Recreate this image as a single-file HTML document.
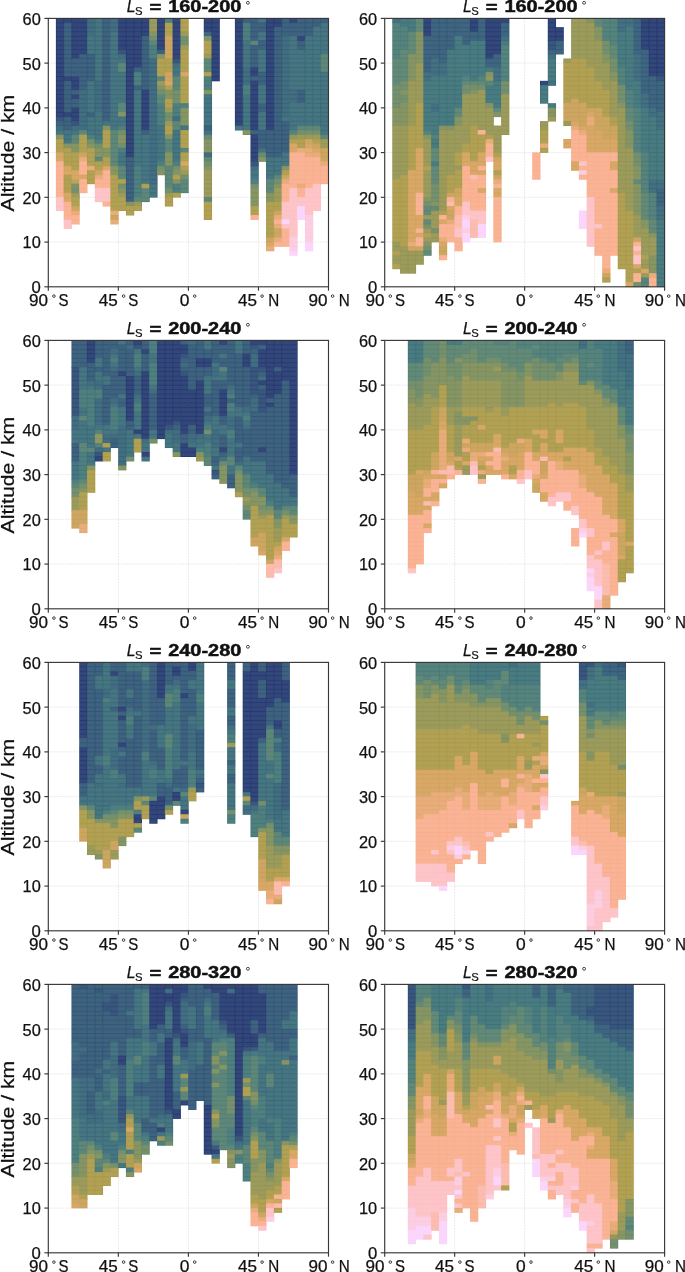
<!DOCTYPE html>
<html><head><meta charset="utf-8"><title>fig</title><style>html,body{margin:0;padding:0;background:#fff}body{width:685px;height:1272px;position:relative;overflow:hidden;font-family:"Liberation Sans",sans-serif}</style></head><body>
<svg width="685" height="1272" viewBox="0 0 685 1272" style="position:absolute;left:0;top:0;will-change:transform" font-family="Liberation Sans, sans-serif">
<rect width="685" height="1272" fill="#fff"/>
<defs><pattern id="p00_0" patternUnits="userSpaceOnUse" x="47.80" y="17.90" width="7.7833" height="4.4733"><rect width="8.78" height="5.47" fill="#34477a"/><rect width="8.78" height="1" fill="#243970"/><rect width="1" height="5.47" fill="#243970"/></pattern><pattern id="p00_10" patternUnits="userSpaceOnUse" x="47.80" y="17.90" width="7.7833" height="4.4733"><rect width="8.78" height="5.47" fill="#507f7f"/><rect width="8.78" height="1" fill="#427575"/><rect width="1" height="5.47" fill="#427575"/></pattern><pattern id="p00_11" patternUnits="userSpaceOnUse" x="47.80" y="17.90" width="7.7833" height="4.4733"><rect width="8.78" height="5.47" fill="#57837c"/><rect width="8.78" height="1" fill="#4a7a72"/><rect width="1" height="5.47" fill="#4a7a72"/></pattern><pattern id="p00_12" patternUnits="userSpaceOnUse" x="47.80" y="17.90" width="7.7833" height="4.4733"><rect width="8.78" height="5.47" fill="#5e877a"/><rect width="8.78" height="1" fill="#527e70"/><rect width="1" height="5.47" fill="#527e70"/></pattern><pattern id="p00_13" patternUnits="userSpaceOnUse" x="47.80" y="17.90" width="7.7833" height="4.4733"><rect width="8.78" height="5.47" fill="#688c75"/><rect width="8.78" height="1" fill="#5d836a"/><rect width="1" height="5.47" fill="#5d836a"/></pattern><pattern id="p00_14" patternUnits="userSpaceOnUse" x="47.80" y="17.90" width="7.7833" height="4.4733"><rect width="8.78" height="5.47" fill="#75906e"/><rect width="8.78" height="1" fill="#6a8763"/><rect width="1" height="5.47" fill="#6a8763"/></pattern><pattern id="p00_15" patternUnits="userSpaceOnUse" x="47.80" y="17.90" width="7.7833" height="4.4733"><rect width="8.78" height="5.47" fill="#7d9369"/><rect width="8.78" height="1" fill="#748a5e"/><rect width="1" height="5.47" fill="#748a5e"/></pattern><pattern id="p00_16" patternUnits="userSpaceOnUse" x="47.80" y="17.90" width="7.7833" height="4.4733"><rect width="8.78" height="5.47" fill="#869565"/><rect width="8.78" height="1" fill="#7d8d59"/><rect width="1" height="5.47" fill="#7d8d59"/></pattern><pattern id="p00_17" patternUnits="userSpaceOnUse" x="47.80" y="17.90" width="7.7833" height="4.4733"><rect width="8.78" height="5.47" fill="#919861"/><rect width="8.78" height="1" fill="#889055"/><rect width="1" height="5.47" fill="#889055"/></pattern><pattern id="p00_18" patternUnits="userSpaceOnUse" x="47.80" y="17.90" width="7.7833" height="4.4733"><rect width="8.78" height="5.47" fill="#9b9b5d"/><rect width="8.78" height="1" fill="#949351"/><rect width="1" height="5.47" fill="#949351"/></pattern><pattern id="p00_2" patternUnits="userSpaceOnUse" x="47.80" y="17.90" width="7.7833" height="4.4733"><rect width="8.78" height="5.47" fill="#3a567d"/><rect width="8.78" height="1" fill="#2b4973"/><rect width="1" height="5.47" fill="#2b4973"/></pattern><pattern id="p00_20" patternUnits="userSpaceOnUse" x="47.80" y="17.90" width="7.7833" height="4.4733"><rect width="8.78" height="5.47" fill="#b1a155"/><rect width="8.78" height="1" fill="#ab9949"/><rect width="1" height="5.47" fill="#ab9949"/></pattern><pattern id="p00_21" patternUnits="userSpaceOnUse" x="47.80" y="17.90" width="7.7833" height="4.4733"><rect width="8.78" height="5.47" fill="#bea35c"/><rect width="8.78" height="1" fill="#b99c4f"/><rect width="1" height="5.47" fill="#b99c4f"/></pattern><pattern id="p00_22" patternUnits="userSpaceOnUse" x="47.80" y="17.90" width="7.7833" height="4.4733"><rect width="8.78" height="5.47" fill="#cca662"/><rect width="8.78" height="1" fill="#c89f56"/><rect width="1" height="5.47" fill="#c89f56"/></pattern><pattern id="p00_24" patternUnits="userSpaceOnUse" x="47.80" y="17.90" width="7.7833" height="4.4733"><rect width="8.78" height="5.47" fill="#d7a867"/><rect width="8.78" height="1" fill="#d4a15b"/><rect width="1" height="5.47" fill="#d4a15b"/></pattern><pattern id="p00_26" patternUnits="userSpaceOnUse" x="47.80" y="17.90" width="7.7833" height="4.4733"><rect width="8.78" height="5.47" fill="#e7ad7b"/><rect width="8.78" height="1" fill="#e5a770"/><rect width="1" height="5.47" fill="#e5a770"/></pattern><pattern id="p00_28" patternUnits="userSpaceOnUse" x="47.80" y="17.90" width="7.7833" height="4.4733"><rect width="8.78" height="5.47" fill="#f9b495"/><rect width="8.78" height="1" fill="#f9ae8d"/><rect width="1" height="5.47" fill="#f9ae8d"/></pattern><pattern id="p00_32" patternUnits="userSpaceOnUse" x="47.80" y="17.90" width="7.7833" height="4.4733"><rect width="8.78" height="5.47" fill="#fdc5c9"/><rect width="8.78" height="1" fill="#fdc1c5"/><rect width="1" height="5.47" fill="#fdc1c5"/></pattern><pattern id="p00_34" patternUnits="userSpaceOnUse" x="47.80" y="17.90" width="7.7833" height="4.4733"><rect width="8.78" height="5.47" fill="#fccee2"/><rect width="8.78" height="1" fill="#fccae0"/><rect width="1" height="5.47" fill="#fccae0"/></pattern><pattern id="p00_36" patternUnits="userSpaceOnUse" x="47.80" y="17.90" width="7.7833" height="4.4733"><rect width="8.78" height="5.47" fill="#fbd6fb"/><rect width="8.78" height="1" fill="#fbd3fb"/><rect width="1" height="5.47" fill="#fbd3fb"/></pattern><pattern id="p00_4" patternUnits="userSpaceOnUse" x="47.80" y="17.90" width="7.7833" height="4.4733"><rect width="8.78" height="5.47" fill="#3f627f"/><rect width="8.78" height="1" fill="#305676"/><rect width="1" height="5.47" fill="#305676"/></pattern><pattern id="p00_5" patternUnits="userSpaceOnUse" x="47.80" y="17.90" width="7.7833" height="4.4733"><rect width="8.78" height="5.47" fill="#416880"/><rect width="8.78" height="1" fill="#335d76"/><rect width="1" height="5.47" fill="#335d76"/></pattern><pattern id="p00_6" patternUnits="userSpaceOnUse" x="47.80" y="17.90" width="7.7833" height="4.4733"><rect width="8.78" height="5.47" fill="#436d80"/><rect width="8.78" height="1" fill="#356277"/><rect width="1" height="5.47" fill="#356277"/></pattern><pattern id="p00_7" patternUnits="userSpaceOnUse" x="47.80" y="17.90" width="7.7833" height="4.4733"><rect width="8.78" height="5.47" fill="#457181"/><rect width="8.78" height="1" fill="#376677"/><rect width="1" height="5.47" fill="#376677"/></pattern><pattern id="p00_8" patternUnits="userSpaceOnUse" x="47.80" y="17.90" width="7.7833" height="4.4733"><rect width="8.78" height="5.47" fill="#477581"/><rect width="8.78" height="1" fill="#386a77"/><rect width="1" height="5.47" fill="#386a77"/></pattern><pattern id="p01_0" patternUnits="userSpaceOnUse" x="384.20" y="17.90" width="7.7750" height="4.4733"><rect width="8.77" height="5.47" fill="#34477a"/><rect width="8.77" height="1" fill="#243970"/><rect width="1" height="5.47" fill="#243970"/></pattern><pattern id="p01_10" patternUnits="userSpaceOnUse" x="384.20" y="17.90" width="7.7750" height="4.4733"><rect width="8.77" height="5.47" fill="#56837d"/><rect width="8.77" height="1" fill="#497973"/><rect width="1" height="5.47" fill="#497973"/></pattern><pattern id="p01_11" patternUnits="userSpaceOnUse" x="384.20" y="17.90" width="7.7750" height="4.4733"><rect width="8.77" height="5.47" fill="#5d867a"/><rect width="8.77" height="1" fill="#507d70"/><rect width="1" height="5.47" fill="#507d70"/></pattern><pattern id="p01_12" patternUnits="userSpaceOnUse" x="384.20" y="17.90" width="7.7750" height="4.4733"><rect width="8.77" height="5.47" fill="#638a78"/><rect width="8.77" height="1" fill="#57816e"/><rect width="1" height="5.47" fill="#57816e"/></pattern><pattern id="p01_14" patternUnits="userSpaceOnUse" x="384.20" y="17.90" width="7.7750" height="4.4733"><rect width="8.77" height="5.47" fill="#75906e"/><rect width="8.77" height="1" fill="#6a8763"/><rect width="1" height="5.47" fill="#6a8763"/></pattern><pattern id="p01_16" patternUnits="userSpaceOnUse" x="384.20" y="17.90" width="7.7750" height="4.4733"><rect width="8.77" height="5.47" fill="#869565"/><rect width="8.77" height="1" fill="#7d8d59"/><rect width="1" height="5.47" fill="#7d8d59"/></pattern><pattern id="p01_17" patternUnits="userSpaceOnUse" x="384.20" y="17.90" width="7.7750" height="4.4733"><rect width="8.77" height="5.47" fill="#919861"/><rect width="8.77" height="1" fill="#889055"/><rect width="1" height="5.47" fill="#889055"/></pattern><pattern id="p01_18" patternUnits="userSpaceOnUse" x="384.20" y="17.90" width="7.7750" height="4.4733"><rect width="8.77" height="5.47" fill="#9b9b5d"/><rect width="8.77" height="1" fill="#949351"/><rect width="1" height="5.47" fill="#949351"/></pattern><pattern id="p01_2" patternUnits="userSpaceOnUse" x="384.20" y="17.90" width="7.7750" height="4.4733"><rect width="8.77" height="5.47" fill="#3a567d"/><rect width="8.77" height="1" fill="#2b4973"/><rect width="1" height="5.47" fill="#2b4973"/></pattern><pattern id="p01_20" patternUnits="userSpaceOnUse" x="384.20" y="17.90" width="7.7750" height="4.4733"><rect width="8.77" height="5.47" fill="#b1a155"/><rect width="8.77" height="1" fill="#ab9949"/><rect width="1" height="5.47" fill="#ab9949"/></pattern><pattern id="p01_22" patternUnits="userSpaceOnUse" x="384.20" y="17.90" width="7.7750" height="4.4733"><rect width="8.77" height="5.47" fill="#cca662"/><rect width="8.77" height="1" fill="#c89f56"/><rect width="1" height="5.47" fill="#c89f56"/></pattern><pattern id="p01_24" patternUnits="userSpaceOnUse" x="384.20" y="17.90" width="7.7750" height="4.4733"><rect width="8.77" height="5.47" fill="#d7a867"/><rect width="8.77" height="1" fill="#d4a15b"/><rect width="1" height="5.47" fill="#d4a15b"/></pattern><pattern id="p01_26" patternUnits="userSpaceOnUse" x="384.20" y="17.90" width="7.7750" height="4.4733"><rect width="8.77" height="5.47" fill="#e7ad7b"/><rect width="8.77" height="1" fill="#e5a770"/><rect width="1" height="5.47" fill="#e5a770"/></pattern><pattern id="p01_28" patternUnits="userSpaceOnUse" x="384.20" y="17.90" width="7.7750" height="4.4733"><rect width="8.77" height="5.47" fill="#f9b495"/><rect width="8.77" height="1" fill="#f9ae8d"/><rect width="1" height="5.47" fill="#f9ae8d"/></pattern><pattern id="p01_30" patternUnits="userSpaceOnUse" x="384.20" y="17.90" width="7.7750" height="4.4733"><rect width="8.77" height="5.47" fill="#fbbdaf"/><rect width="8.77" height="1" fill="#fbb8a9"/><rect width="1" height="5.47" fill="#fbb8a9"/></pattern><pattern id="p01_32" patternUnits="userSpaceOnUse" x="384.20" y="17.90" width="7.7750" height="4.4733"><rect width="8.77" height="5.47" fill="#fdc5c9"/><rect width="8.77" height="1" fill="#fdc1c5"/><rect width="1" height="5.47" fill="#fdc1c5"/></pattern><pattern id="p01_34" patternUnits="userSpaceOnUse" x="384.20" y="17.90" width="7.7750" height="4.4733"><rect width="8.77" height="5.47" fill="#fccee2"/><rect width="8.77" height="1" fill="#fccae0"/><rect width="1" height="5.47" fill="#fccae0"/></pattern><pattern id="p01_36" patternUnits="userSpaceOnUse" x="384.20" y="17.90" width="7.7750" height="4.4733"><rect width="8.77" height="5.47" fill="#fbd6fb"/><rect width="8.77" height="1" fill="#fbd3fb"/><rect width="1" height="5.47" fill="#fbd3fb"/></pattern><pattern id="p01_4" patternUnits="userSpaceOnUse" x="384.20" y="17.90" width="7.7750" height="4.4733"><rect width="8.77" height="5.47" fill="#406580"/><rect width="8.77" height="1" fill="#315a76"/><rect width="1" height="5.47" fill="#315a76"/></pattern><pattern id="p01_6" patternUnits="userSpaceOnUse" x="384.20" y="17.90" width="7.7750" height="4.4733"><rect width="8.77" height="5.47" fill="#457081"/><rect width="8.77" height="1" fill="#366577"/><rect width="1" height="5.47" fill="#366577"/></pattern><pattern id="p01_8" patternUnits="userSpaceOnUse" x="384.20" y="17.90" width="7.7750" height="4.4733"><rect width="8.77" height="5.47" fill="#497b81"/><rect width="8.77" height="1" fill="#3c7178"/><rect width="1" height="5.47" fill="#3c7178"/></pattern><pattern id="p10_0" patternUnits="userSpaceOnUse" x="47.80" y="339.90" width="7.7833" height="4.4733"><rect width="8.78" height="5.47" fill="#34477a"/><rect width="8.78" height="1" fill="#243970"/><rect width="1" height="5.47" fill="#243970"/></pattern><pattern id="p10_10" patternUnits="userSpaceOnUse" x="47.80" y="339.90" width="7.7833" height="4.4733"><rect width="8.78" height="5.47" fill="#507f7f"/><rect width="8.78" height="1" fill="#427575"/><rect width="1" height="5.47" fill="#427575"/></pattern><pattern id="p10_11" patternUnits="userSpaceOnUse" x="47.80" y="339.90" width="7.7833" height="4.4733"><rect width="8.78" height="5.47" fill="#57837c"/><rect width="8.78" height="1" fill="#4a7a72"/><rect width="1" height="5.47" fill="#4a7a72"/></pattern><pattern id="p10_12" patternUnits="userSpaceOnUse" x="47.80" y="339.90" width="7.7833" height="4.4733"><rect width="8.78" height="5.47" fill="#5e877a"/><rect width="8.78" height="1" fill="#527e70"/><rect width="1" height="5.47" fill="#527e70"/></pattern><pattern id="p10_13" patternUnits="userSpaceOnUse" x="47.80" y="339.90" width="7.7833" height="4.4733"><rect width="8.78" height="5.47" fill="#688c75"/><rect width="8.78" height="1" fill="#5d836a"/><rect width="1" height="5.47" fill="#5d836a"/></pattern><pattern id="p10_14" patternUnits="userSpaceOnUse" x="47.80" y="339.90" width="7.7833" height="4.4733"><rect width="8.78" height="5.47" fill="#75906e"/><rect width="8.78" height="1" fill="#6a8763"/><rect width="1" height="5.47" fill="#6a8763"/></pattern><pattern id="p10_16" patternUnits="userSpaceOnUse" x="47.80" y="339.90" width="7.7833" height="4.4733"><rect width="8.78" height="5.47" fill="#869565"/><rect width="8.78" height="1" fill="#7d8d59"/><rect width="1" height="5.47" fill="#7d8d59"/></pattern><pattern id="p10_17" patternUnits="userSpaceOnUse" x="47.80" y="339.90" width="7.7833" height="4.4733"><rect width="8.78" height="5.47" fill="#919861"/><rect width="8.78" height="1" fill="#889055"/><rect width="1" height="5.47" fill="#889055"/></pattern><pattern id="p10_18" patternUnits="userSpaceOnUse" x="47.80" y="339.90" width="7.7833" height="4.4733"><rect width="8.78" height="5.47" fill="#9b9b5d"/><rect width="8.78" height="1" fill="#949351"/><rect width="1" height="5.47" fill="#949351"/></pattern><pattern id="p10_2" patternUnits="userSpaceOnUse" x="47.80" y="339.90" width="7.7833" height="4.4733"><rect width="8.78" height="5.47" fill="#3a567d"/><rect width="8.78" height="1" fill="#2b4973"/><rect width="1" height="5.47" fill="#2b4973"/></pattern><pattern id="p10_20" patternUnits="userSpaceOnUse" x="47.80" y="339.90" width="7.7833" height="4.4733"><rect width="8.78" height="5.47" fill="#b1a155"/><rect width="8.78" height="1" fill="#ab9949"/><rect width="1" height="5.47" fill="#ab9949"/></pattern><pattern id="p10_22" patternUnits="userSpaceOnUse" x="47.80" y="339.90" width="7.7833" height="4.4733"><rect width="8.78" height="5.47" fill="#cca662"/><rect width="8.78" height="1" fill="#c89f56"/><rect width="1" height="5.47" fill="#c89f56"/></pattern><pattern id="p10_24" patternUnits="userSpaceOnUse" x="47.80" y="339.90" width="7.7833" height="4.4733"><rect width="8.78" height="5.47" fill="#d7a867"/><rect width="8.78" height="1" fill="#d4a15b"/><rect width="1" height="5.47" fill="#d4a15b"/></pattern><pattern id="p10_26" patternUnits="userSpaceOnUse" x="47.80" y="339.90" width="7.7833" height="4.4733"><rect width="8.78" height="5.47" fill="#e7ad7b"/><rect width="8.78" height="1" fill="#e5a770"/><rect width="1" height="5.47" fill="#e5a770"/></pattern><pattern id="p10_28" patternUnits="userSpaceOnUse" x="47.80" y="339.90" width="7.7833" height="4.4733"><rect width="8.78" height="5.47" fill="#f9b495"/><rect width="8.78" height="1" fill="#f9ae8d"/><rect width="1" height="5.47" fill="#f9ae8d"/></pattern><pattern id="p10_30" patternUnits="userSpaceOnUse" x="47.80" y="339.90" width="7.7833" height="4.4733"><rect width="8.78" height="5.47" fill="#fbbdaf"/><rect width="8.78" height="1" fill="#fbb8a9"/><rect width="1" height="5.47" fill="#fbb8a9"/></pattern><pattern id="p10_32" patternUnits="userSpaceOnUse" x="47.80" y="339.90" width="7.7833" height="4.4733"><rect width="8.78" height="5.47" fill="#fdc5c9"/><rect width="8.78" height="1" fill="#fdc1c5"/><rect width="1" height="5.47" fill="#fdc1c5"/></pattern><pattern id="p10_4" patternUnits="userSpaceOnUse" x="47.80" y="339.90" width="7.7833" height="4.4733"><rect width="8.78" height="5.47" fill="#3f627f"/><rect width="8.78" height="1" fill="#305676"/><rect width="1" height="5.47" fill="#305676"/></pattern><pattern id="p10_6" patternUnits="userSpaceOnUse" x="47.80" y="339.90" width="7.7833" height="4.4733"><rect width="8.78" height="5.47" fill="#436d80"/><rect width="8.78" height="1" fill="#356277"/><rect width="1" height="5.47" fill="#356277"/></pattern><pattern id="p10_7" patternUnits="userSpaceOnUse" x="47.80" y="339.90" width="7.7833" height="4.4733"><rect width="8.78" height="5.47" fill="#457181"/><rect width="8.78" height="1" fill="#376677"/><rect width="1" height="5.47" fill="#376677"/></pattern><pattern id="p10_8" patternUnits="userSpaceOnUse" x="47.80" y="339.90" width="7.7833" height="4.4733"><rect width="8.78" height="5.47" fill="#477581"/><rect width="8.78" height="1" fill="#386a77"/><rect width="1" height="5.47" fill="#386a77"/></pattern><pattern id="p11_10" patternUnits="userSpaceOnUse" x="384.20" y="339.90" width="7.7750" height="4.4733"><rect width="8.77" height="5.47" fill="#56837d"/><rect width="8.77" height="1" fill="#497973"/><rect width="1" height="5.47" fill="#497973"/></pattern><pattern id="p11_12" patternUnits="userSpaceOnUse" x="384.20" y="339.90" width="7.7750" height="4.4733"><rect width="8.77" height="5.47" fill="#638a78"/><rect width="8.77" height="1" fill="#57816e"/><rect width="1" height="5.47" fill="#57816e"/></pattern><pattern id="p11_14" patternUnits="userSpaceOnUse" x="384.20" y="339.90" width="7.7750" height="4.4733"><rect width="8.77" height="5.47" fill="#75906e"/><rect width="8.77" height="1" fill="#6a8763"/><rect width="1" height="5.47" fill="#6a8763"/></pattern><pattern id="p11_16" patternUnits="userSpaceOnUse" x="384.20" y="339.90" width="7.7750" height="4.4733"><rect width="8.77" height="5.47" fill="#869565"/><rect width="8.77" height="1" fill="#7d8d59"/><rect width="1" height="5.47" fill="#7d8d59"/></pattern><pattern id="p11_18" patternUnits="userSpaceOnUse" x="384.20" y="339.90" width="7.7750" height="4.4733"><rect width="8.77" height="5.47" fill="#9b9b5d"/><rect width="8.77" height="1" fill="#949351"/><rect width="1" height="5.47" fill="#949351"/></pattern><pattern id="p11_20" patternUnits="userSpaceOnUse" x="384.20" y="339.90" width="7.7750" height="4.4733"><rect width="8.77" height="5.47" fill="#b1a155"/><rect width="8.77" height="1" fill="#ab9949"/><rect width="1" height="5.47" fill="#ab9949"/></pattern><pattern id="p11_22" patternUnits="userSpaceOnUse" x="384.20" y="339.90" width="7.7750" height="4.4733"><rect width="8.77" height="5.47" fill="#cca662"/><rect width="8.77" height="1" fill="#c89f56"/><rect width="1" height="5.47" fill="#c89f56"/></pattern><pattern id="p11_24" patternUnits="userSpaceOnUse" x="384.20" y="339.90" width="7.7750" height="4.4733"><rect width="8.77" height="5.47" fill="#d7a867"/><rect width="8.77" height="1" fill="#d4a15b"/><rect width="1" height="5.47" fill="#d4a15b"/></pattern><pattern id="p11_26" patternUnits="userSpaceOnUse" x="384.20" y="339.90" width="7.7750" height="4.4733"><rect width="8.77" height="5.47" fill="#e7ad7b"/><rect width="8.77" height="1" fill="#e5a770"/><rect width="1" height="5.47" fill="#e5a770"/></pattern><pattern id="p11_28" patternUnits="userSpaceOnUse" x="384.20" y="339.90" width="7.7750" height="4.4733"><rect width="8.77" height="5.47" fill="#f9b495"/><rect width="8.77" height="1" fill="#f9ae8d"/><rect width="1" height="5.47" fill="#f9ae8d"/></pattern><pattern id="p11_30" patternUnits="userSpaceOnUse" x="384.20" y="339.90" width="7.7750" height="4.4733"><rect width="8.77" height="5.47" fill="#fbbdaf"/><rect width="8.77" height="1" fill="#fbb8a9"/><rect width="1" height="5.47" fill="#fbb8a9"/></pattern><pattern id="p11_32" patternUnits="userSpaceOnUse" x="384.20" y="339.90" width="7.7750" height="4.4733"><rect width="8.77" height="5.47" fill="#fdc5c9"/><rect width="8.77" height="1" fill="#fdc1c5"/><rect width="1" height="5.47" fill="#fdc1c5"/></pattern><pattern id="p11_34" patternUnits="userSpaceOnUse" x="384.20" y="339.90" width="7.7750" height="4.4733"><rect width="8.77" height="5.47" fill="#fccee2"/><rect width="8.77" height="1" fill="#fccae0"/><rect width="1" height="5.47" fill="#fccae0"/></pattern><pattern id="p11_36" patternUnits="userSpaceOnUse" x="384.20" y="339.90" width="7.7750" height="4.4733"><rect width="8.77" height="5.47" fill="#fbd6fb"/><rect width="8.77" height="1" fill="#fbd3fb"/><rect width="1" height="5.47" fill="#fbd3fb"/></pattern><pattern id="p11_4" patternUnits="userSpaceOnUse" x="384.20" y="339.90" width="7.7750" height="4.4733"><rect width="8.77" height="5.47" fill="#406580"/><rect width="8.77" height="1" fill="#315a76"/><rect width="1" height="5.47" fill="#315a76"/></pattern><pattern id="p11_6" patternUnits="userSpaceOnUse" x="384.20" y="339.90" width="7.7750" height="4.4733"><rect width="8.77" height="5.47" fill="#457081"/><rect width="8.77" height="1" fill="#366577"/><rect width="1" height="5.47" fill="#366577"/></pattern><pattern id="p11_8" patternUnits="userSpaceOnUse" x="384.20" y="339.90" width="7.7750" height="4.4733"><rect width="8.77" height="5.47" fill="#497b81"/><rect width="8.77" height="1" fill="#3c7178"/><rect width="1" height="5.47" fill="#3c7178"/></pattern><pattern id="p20_0" patternUnits="userSpaceOnUse" x="47.80" y="661.90" width="7.7833" height="4.4733"><rect width="8.78" height="5.47" fill="#34477a"/><rect width="8.78" height="1" fill="#243970"/><rect width="1" height="5.47" fill="#243970"/></pattern><pattern id="p20_10" patternUnits="userSpaceOnUse" x="47.80" y="661.90" width="7.7833" height="4.4733"><rect width="8.78" height="5.47" fill="#507f7f"/><rect width="8.78" height="1" fill="#427575"/><rect width="1" height="5.47" fill="#427575"/></pattern><pattern id="p20_12" patternUnits="userSpaceOnUse" x="47.80" y="661.90" width="7.7833" height="4.4733"><rect width="8.78" height="5.47" fill="#5e877a"/><rect width="8.78" height="1" fill="#527e70"/><rect width="1" height="5.47" fill="#527e70"/></pattern><pattern id="p20_14" patternUnits="userSpaceOnUse" x="47.80" y="661.90" width="7.7833" height="4.4733"><rect width="8.78" height="5.47" fill="#75906e"/><rect width="8.78" height="1" fill="#6a8763"/><rect width="1" height="5.47" fill="#6a8763"/></pattern><pattern id="p20_16" patternUnits="userSpaceOnUse" x="47.80" y="661.90" width="7.7833" height="4.4733"><rect width="8.78" height="5.47" fill="#869565"/><rect width="8.78" height="1" fill="#7d8d59"/><rect width="1" height="5.47" fill="#7d8d59"/></pattern><pattern id="p20_18" patternUnits="userSpaceOnUse" x="47.80" y="661.90" width="7.7833" height="4.4733"><rect width="8.78" height="5.47" fill="#9b9b5d"/><rect width="8.78" height="1" fill="#949351"/><rect width="1" height="5.47" fill="#949351"/></pattern><pattern id="p20_2" patternUnits="userSpaceOnUse" x="47.80" y="661.90" width="7.7833" height="4.4733"><rect width="8.78" height="5.47" fill="#3a567d"/><rect width="8.78" height="1" fill="#2b4973"/><rect width="1" height="5.47" fill="#2b4973"/></pattern><pattern id="p20_20" patternUnits="userSpaceOnUse" x="47.80" y="661.90" width="7.7833" height="4.4733"><rect width="8.78" height="5.47" fill="#b1a155"/><rect width="8.78" height="1" fill="#ab9949"/><rect width="1" height="5.47" fill="#ab9949"/></pattern><pattern id="p20_22" patternUnits="userSpaceOnUse" x="47.80" y="661.90" width="7.7833" height="4.4733"><rect width="8.78" height="5.47" fill="#cca662"/><rect width="8.78" height="1" fill="#c89f56"/><rect width="1" height="5.47" fill="#c89f56"/></pattern><pattern id="p20_24" patternUnits="userSpaceOnUse" x="47.80" y="661.90" width="7.7833" height="4.4733"><rect width="8.78" height="5.47" fill="#d7a867"/><rect width="8.78" height="1" fill="#d4a15b"/><rect width="1" height="5.47" fill="#d4a15b"/></pattern><pattern id="p20_26" patternUnits="userSpaceOnUse" x="47.80" y="661.90" width="7.7833" height="4.4733"><rect width="8.78" height="5.47" fill="#e7ad7b"/><rect width="8.78" height="1" fill="#e5a770"/><rect width="1" height="5.47" fill="#e5a770"/></pattern><pattern id="p20_28" patternUnits="userSpaceOnUse" x="47.80" y="661.90" width="7.7833" height="4.4733"><rect width="8.78" height="5.47" fill="#f9b495"/><rect width="8.78" height="1" fill="#f9ae8d"/><rect width="1" height="5.47" fill="#f9ae8d"/></pattern><pattern id="p20_30" patternUnits="userSpaceOnUse" x="47.80" y="661.90" width="7.7833" height="4.4733"><rect width="8.78" height="5.47" fill="#fbbdaf"/><rect width="8.78" height="1" fill="#fbb8a9"/><rect width="1" height="5.47" fill="#fbb8a9"/></pattern><pattern id="p20_4" patternUnits="userSpaceOnUse" x="47.80" y="661.90" width="7.7833" height="4.4733"><rect width="8.78" height="5.47" fill="#3f627f"/><rect width="8.78" height="1" fill="#305676"/><rect width="1" height="5.47" fill="#305676"/></pattern><pattern id="p20_6" patternUnits="userSpaceOnUse" x="47.80" y="661.90" width="7.7833" height="4.4733"><rect width="8.78" height="5.47" fill="#436d80"/><rect width="8.78" height="1" fill="#356277"/><rect width="1" height="5.47" fill="#356277"/></pattern><pattern id="p20_8" patternUnits="userSpaceOnUse" x="47.80" y="661.90" width="7.7833" height="4.4733"><rect width="8.78" height="5.47" fill="#477581"/><rect width="8.78" height="1" fill="#386a77"/><rect width="1" height="5.47" fill="#386a77"/></pattern><pattern id="p21_10" patternUnits="userSpaceOnUse" x="384.20" y="661.90" width="7.7750" height="4.4733"><rect width="8.77" height="5.47" fill="#56837d"/><rect width="8.77" height="1" fill="#497973"/><rect width="1" height="5.47" fill="#497973"/></pattern><pattern id="p21_12" patternUnits="userSpaceOnUse" x="384.20" y="661.90" width="7.7750" height="4.4733"><rect width="8.77" height="5.47" fill="#638a78"/><rect width="8.77" height="1" fill="#57816e"/><rect width="1" height="5.47" fill="#57816e"/></pattern><pattern id="p21_14" patternUnits="userSpaceOnUse" x="384.20" y="661.90" width="7.7750" height="4.4733"><rect width="8.77" height="5.47" fill="#75906e"/><rect width="8.77" height="1" fill="#6a8763"/><rect width="1" height="5.47" fill="#6a8763"/></pattern><pattern id="p21_16" patternUnits="userSpaceOnUse" x="384.20" y="661.90" width="7.7750" height="4.4733"><rect width="8.77" height="5.47" fill="#869565"/><rect width="8.77" height="1" fill="#7d8d59"/><rect width="1" height="5.47" fill="#7d8d59"/></pattern><pattern id="p21_18" patternUnits="userSpaceOnUse" x="384.20" y="661.90" width="7.7750" height="4.4733"><rect width="8.77" height="5.47" fill="#9b9b5d"/><rect width="8.77" height="1" fill="#949351"/><rect width="1" height="5.47" fill="#949351"/></pattern><pattern id="p21_2" patternUnits="userSpaceOnUse" x="384.20" y="661.90" width="7.7750" height="4.4733"><rect width="8.77" height="5.47" fill="#3a567d"/><rect width="8.77" height="1" fill="#2b4973"/><rect width="1" height="5.47" fill="#2b4973"/></pattern><pattern id="p21_20" patternUnits="userSpaceOnUse" x="384.20" y="661.90" width="7.7750" height="4.4733"><rect width="8.77" height="5.47" fill="#b1a155"/><rect width="8.77" height="1" fill="#ab9949"/><rect width="1" height="5.47" fill="#ab9949"/></pattern><pattern id="p21_22" patternUnits="userSpaceOnUse" x="384.20" y="661.90" width="7.7750" height="4.4733"><rect width="8.77" height="5.47" fill="#cca662"/><rect width="8.77" height="1" fill="#c89f56"/><rect width="1" height="5.47" fill="#c89f56"/></pattern><pattern id="p21_24" patternUnits="userSpaceOnUse" x="384.20" y="661.90" width="7.7750" height="4.4733"><rect width="8.77" height="5.47" fill="#d7a867"/><rect width="8.77" height="1" fill="#d4a15b"/><rect width="1" height="5.47" fill="#d4a15b"/></pattern><pattern id="p21_26" patternUnits="userSpaceOnUse" x="384.20" y="661.90" width="7.7750" height="4.4733"><rect width="8.77" height="5.47" fill="#e7ad7b"/><rect width="8.77" height="1" fill="#e5a770"/><rect width="1" height="5.47" fill="#e5a770"/></pattern><pattern id="p21_28" patternUnits="userSpaceOnUse" x="384.20" y="661.90" width="7.7750" height="4.4733"><rect width="8.77" height="5.47" fill="#f9b495"/><rect width="8.77" height="1" fill="#f9ae8d"/><rect width="1" height="5.47" fill="#f9ae8d"/></pattern><pattern id="p21_30" patternUnits="userSpaceOnUse" x="384.20" y="661.90" width="7.7750" height="4.4733"><rect width="8.77" height="5.47" fill="#fbbdaf"/><rect width="8.77" height="1" fill="#fbb8a9"/><rect width="1" height="5.47" fill="#fbb8a9"/></pattern><pattern id="p21_32" patternUnits="userSpaceOnUse" x="384.20" y="661.90" width="7.7750" height="4.4733"><rect width="8.77" height="5.47" fill="#fdc5c9"/><rect width="8.77" height="1" fill="#fdc1c5"/><rect width="1" height="5.47" fill="#fdc1c5"/></pattern><pattern id="p21_34" patternUnits="userSpaceOnUse" x="384.20" y="661.90" width="7.7750" height="4.4733"><rect width="8.77" height="5.47" fill="#fccee2"/><rect width="8.77" height="1" fill="#fccae0"/><rect width="1" height="5.47" fill="#fccae0"/></pattern><pattern id="p21_36" patternUnits="userSpaceOnUse" x="384.20" y="661.90" width="7.7750" height="4.4733"><rect width="8.77" height="5.47" fill="#fbd6fb"/><rect width="8.77" height="1" fill="#fbd3fb"/><rect width="1" height="5.47" fill="#fbd3fb"/></pattern><pattern id="p21_4" patternUnits="userSpaceOnUse" x="384.20" y="661.90" width="7.7750" height="4.4733"><rect width="8.77" height="5.47" fill="#406580"/><rect width="8.77" height="1" fill="#315a76"/><rect width="1" height="5.47" fill="#315a76"/></pattern><pattern id="p21_6" patternUnits="userSpaceOnUse" x="384.20" y="661.90" width="7.7750" height="4.4733"><rect width="8.77" height="5.47" fill="#457081"/><rect width="8.77" height="1" fill="#366577"/><rect width="1" height="5.47" fill="#366577"/></pattern><pattern id="p21_8" patternUnits="userSpaceOnUse" x="384.20" y="661.90" width="7.7750" height="4.4733"><rect width="8.77" height="5.47" fill="#497b81"/><rect width="8.77" height="1" fill="#3c7178"/><rect width="1" height="5.47" fill="#3c7178"/></pattern><pattern id="p30_0" patternUnits="userSpaceOnUse" x="47.80" y="983.90" width="7.7833" height="4.4733"><rect width="8.78" height="5.47" fill="#34477a"/><rect width="8.78" height="1" fill="#243970"/><rect width="1" height="5.47" fill="#243970"/></pattern><pattern id="p30_10" patternUnits="userSpaceOnUse" x="47.80" y="983.90" width="7.7833" height="4.4733"><rect width="8.78" height="5.47" fill="#507f7f"/><rect width="8.78" height="1" fill="#427575"/><rect width="1" height="5.47" fill="#427575"/></pattern><pattern id="p30_11" patternUnits="userSpaceOnUse" x="47.80" y="983.90" width="7.7833" height="4.4733"><rect width="8.78" height="5.47" fill="#57837c"/><rect width="8.78" height="1" fill="#4a7a72"/><rect width="1" height="5.47" fill="#4a7a72"/></pattern><pattern id="p30_12" patternUnits="userSpaceOnUse" x="47.80" y="983.90" width="7.7833" height="4.4733"><rect width="8.78" height="5.47" fill="#5e877a"/><rect width="8.78" height="1" fill="#527e70"/><rect width="1" height="5.47" fill="#527e70"/></pattern><pattern id="p30_14" patternUnits="userSpaceOnUse" x="47.80" y="983.90" width="7.7833" height="4.4733"><rect width="8.78" height="5.47" fill="#75906e"/><rect width="8.78" height="1" fill="#6a8763"/><rect width="1" height="5.47" fill="#6a8763"/></pattern><pattern id="p30_16" patternUnits="userSpaceOnUse" x="47.80" y="983.90" width="7.7833" height="4.4733"><rect width="8.78" height="5.47" fill="#869565"/><rect width="8.78" height="1" fill="#7d8d59"/><rect width="1" height="5.47" fill="#7d8d59"/></pattern><pattern id="p30_17" patternUnits="userSpaceOnUse" x="47.80" y="983.90" width="7.7833" height="4.4733"><rect width="8.78" height="5.47" fill="#919861"/><rect width="8.78" height="1" fill="#889055"/><rect width="1" height="5.47" fill="#889055"/></pattern><pattern id="p30_18" patternUnits="userSpaceOnUse" x="47.80" y="983.90" width="7.7833" height="4.4733"><rect width="8.78" height="5.47" fill="#9b9b5d"/><rect width="8.78" height="1" fill="#949351"/><rect width="1" height="5.47" fill="#949351"/></pattern><pattern id="p30_2" patternUnits="userSpaceOnUse" x="47.80" y="983.90" width="7.7833" height="4.4733"><rect width="8.78" height="5.47" fill="#3a567d"/><rect width="8.78" height="1" fill="#2b4973"/><rect width="1" height="5.47" fill="#2b4973"/></pattern><pattern id="p30_20" patternUnits="userSpaceOnUse" x="47.80" y="983.90" width="7.7833" height="4.4733"><rect width="8.78" height="5.47" fill="#b1a155"/><rect width="8.78" height="1" fill="#ab9949"/><rect width="1" height="5.47" fill="#ab9949"/></pattern><pattern id="p30_22" patternUnits="userSpaceOnUse" x="47.80" y="983.90" width="7.7833" height="4.4733"><rect width="8.78" height="5.47" fill="#cca662"/><rect width="8.78" height="1" fill="#c89f56"/><rect width="1" height="5.47" fill="#c89f56"/></pattern><pattern id="p30_24" patternUnits="userSpaceOnUse" x="47.80" y="983.90" width="7.7833" height="4.4733"><rect width="8.78" height="5.47" fill="#d7a867"/><rect width="8.78" height="1" fill="#d4a15b"/><rect width="1" height="5.47" fill="#d4a15b"/></pattern><pattern id="p30_26" patternUnits="userSpaceOnUse" x="47.80" y="983.90" width="7.7833" height="4.4733"><rect width="8.78" height="5.47" fill="#e7ad7b"/><rect width="8.78" height="1" fill="#e5a770"/><rect width="1" height="5.47" fill="#e5a770"/></pattern><pattern id="p30_28" patternUnits="userSpaceOnUse" x="47.80" y="983.90" width="7.7833" height="4.4733"><rect width="8.78" height="5.47" fill="#f9b495"/><rect width="8.78" height="1" fill="#f9ae8d"/><rect width="1" height="5.47" fill="#f9ae8d"/></pattern><pattern id="p30_3" patternUnits="userSpaceOnUse" x="47.80" y="983.90" width="7.7833" height="4.4733"><rect width="8.78" height="5.47" fill="#3c5c7e"/><rect width="8.78" height="1" fill="#2d5074"/><rect width="1" height="5.47" fill="#2d5074"/></pattern><pattern id="p30_30" patternUnits="userSpaceOnUse" x="47.80" y="983.90" width="7.7833" height="4.4733"><rect width="8.78" height="5.47" fill="#fbbdaf"/><rect width="8.78" height="1" fill="#fbb8a9"/><rect width="1" height="5.47" fill="#fbb8a9"/></pattern><pattern id="p30_32" patternUnits="userSpaceOnUse" x="47.80" y="983.90" width="7.7833" height="4.4733"><rect width="8.78" height="5.47" fill="#fdc5c9"/><rect width="8.78" height="1" fill="#fdc1c5"/><rect width="1" height="5.47" fill="#fdc1c5"/></pattern><pattern id="p30_34" patternUnits="userSpaceOnUse" x="47.80" y="983.90" width="7.7833" height="4.4733"><rect width="8.78" height="5.47" fill="#fccee2"/><rect width="8.78" height="1" fill="#fccae0"/><rect width="1" height="5.47" fill="#fccae0"/></pattern><pattern id="p30_4" patternUnits="userSpaceOnUse" x="47.80" y="983.90" width="7.7833" height="4.4733"><rect width="8.78" height="5.47" fill="#3f627f"/><rect width="8.78" height="1" fill="#305676"/><rect width="1" height="5.47" fill="#305676"/></pattern><pattern id="p30_6" patternUnits="userSpaceOnUse" x="47.80" y="983.90" width="7.7833" height="4.4733"><rect width="8.78" height="5.47" fill="#436d80"/><rect width="8.78" height="1" fill="#356277"/><rect width="1" height="5.47" fill="#356277"/></pattern><pattern id="p30_8" patternUnits="userSpaceOnUse" x="47.80" y="983.90" width="7.7833" height="4.4733"><rect width="8.78" height="5.47" fill="#477581"/><rect width="8.78" height="1" fill="#386a77"/><rect width="1" height="5.47" fill="#386a77"/></pattern><pattern id="p30_9" patternUnits="userSpaceOnUse" x="47.80" y="983.90" width="7.7833" height="4.4733"><rect width="8.78" height="5.47" fill="#497a81"/><rect width="8.78" height="1" fill="#3b7078"/><rect width="1" height="5.47" fill="#3b7078"/></pattern><pattern id="p31_10" patternUnits="userSpaceOnUse" x="384.20" y="983.90" width="7.7750" height="4.4733"><rect width="8.77" height="5.47" fill="#56837d"/><rect width="8.77" height="1" fill="#497973"/><rect width="1" height="5.47" fill="#497973"/></pattern><pattern id="p31_12" patternUnits="userSpaceOnUse" x="384.20" y="983.90" width="7.7750" height="4.4733"><rect width="8.77" height="5.47" fill="#638a78"/><rect width="8.77" height="1" fill="#57816e"/><rect width="1" height="5.47" fill="#57816e"/></pattern><pattern id="p31_14" patternUnits="userSpaceOnUse" x="384.20" y="983.90" width="7.7750" height="4.4733"><rect width="8.77" height="5.47" fill="#75906e"/><rect width="8.77" height="1" fill="#6a8763"/><rect width="1" height="5.47" fill="#6a8763"/></pattern><pattern id="p31_16" patternUnits="userSpaceOnUse" x="384.20" y="983.90" width="7.7750" height="4.4733"><rect width="8.77" height="5.47" fill="#869565"/><rect width="8.77" height="1" fill="#7d8d59"/><rect width="1" height="5.47" fill="#7d8d59"/></pattern><pattern id="p31_17" patternUnits="userSpaceOnUse" x="384.20" y="983.90" width="7.7750" height="4.4733"><rect width="8.77" height="5.47" fill="#919861"/><rect width="8.77" height="1" fill="#889055"/><rect width="1" height="5.47" fill="#889055"/></pattern><pattern id="p31_18" patternUnits="userSpaceOnUse" x="384.20" y="983.90" width="7.7750" height="4.4733"><rect width="8.77" height="5.47" fill="#9b9b5d"/><rect width="8.77" height="1" fill="#949351"/><rect width="1" height="5.47" fill="#949351"/></pattern><pattern id="p31_2" patternUnits="userSpaceOnUse" x="384.20" y="983.90" width="7.7750" height="4.4733"><rect width="8.77" height="5.47" fill="#3a567d"/><rect width="8.77" height="1" fill="#2b4973"/><rect width="1" height="5.47" fill="#2b4973"/></pattern><pattern id="p31_20" patternUnits="userSpaceOnUse" x="384.20" y="983.90" width="7.7750" height="4.4733"><rect width="8.77" height="5.47" fill="#b1a155"/><rect width="8.77" height="1" fill="#ab9949"/><rect width="1" height="5.47" fill="#ab9949"/></pattern><pattern id="p31_22" patternUnits="userSpaceOnUse" x="384.20" y="983.90" width="7.7750" height="4.4733"><rect width="8.77" height="5.47" fill="#cca662"/><rect width="8.77" height="1" fill="#c89f56"/><rect width="1" height="5.47" fill="#c89f56"/></pattern><pattern id="p31_23" patternUnits="userSpaceOnUse" x="384.20" y="983.90" width="7.7750" height="4.4733"><rect width="8.77" height="5.47" fill="#d1a764"/><rect width="8.77" height="1" fill="#cea059"/><rect width="1" height="5.47" fill="#cea059"/></pattern><pattern id="p31_24" patternUnits="userSpaceOnUse" x="384.20" y="983.90" width="7.7750" height="4.4733"><rect width="8.77" height="5.47" fill="#d7a867"/><rect width="8.77" height="1" fill="#d4a15b"/><rect width="1" height="5.47" fill="#d4a15b"/></pattern><pattern id="p31_26" patternUnits="userSpaceOnUse" x="384.20" y="983.90" width="7.7750" height="4.4733"><rect width="8.77" height="5.47" fill="#e7ad7b"/><rect width="8.77" height="1" fill="#e5a770"/><rect width="1" height="5.47" fill="#e5a770"/></pattern><pattern id="p31_28" patternUnits="userSpaceOnUse" x="384.20" y="983.90" width="7.7750" height="4.4733"><rect width="8.77" height="5.47" fill="#f9b495"/><rect width="8.77" height="1" fill="#f9ae8d"/><rect width="1" height="5.47" fill="#f9ae8d"/></pattern><pattern id="p31_30" patternUnits="userSpaceOnUse" x="384.20" y="983.90" width="7.7750" height="4.4733"><rect width="8.77" height="5.47" fill="#fbbdaf"/><rect width="8.77" height="1" fill="#fbb8a9"/><rect width="1" height="5.47" fill="#fbb8a9"/></pattern><pattern id="p31_32" patternUnits="userSpaceOnUse" x="384.20" y="983.90" width="7.7750" height="4.4733"><rect width="8.77" height="5.47" fill="#fdc5c9"/><rect width="8.77" height="1" fill="#fdc1c5"/><rect width="1" height="5.47" fill="#fdc1c5"/></pattern><pattern id="p31_34" patternUnits="userSpaceOnUse" x="384.20" y="983.90" width="7.7750" height="4.4733"><rect width="8.77" height="5.47" fill="#fccee2"/><rect width="8.77" height="1" fill="#fccae0"/><rect width="1" height="5.47" fill="#fccae0"/></pattern><pattern id="p31_36" patternUnits="userSpaceOnUse" x="384.20" y="983.90" width="7.7750" height="4.4733"><rect width="8.77" height="5.47" fill="#fbd6fb"/><rect width="8.77" height="1" fill="#fbd3fb"/><rect width="1" height="5.47" fill="#fbd3fb"/></pattern><pattern id="p31_4" patternUnits="userSpaceOnUse" x="384.20" y="983.90" width="7.7750" height="4.4733"><rect width="8.77" height="5.47" fill="#406580"/><rect width="8.77" height="1" fill="#315a76"/><rect width="1" height="5.47" fill="#315a76"/></pattern><pattern id="p31_6" patternUnits="userSpaceOnUse" x="384.20" y="983.90" width="7.7750" height="4.4733"><rect width="8.77" height="5.47" fill="#457081"/><rect width="8.77" height="1" fill="#366577"/><rect width="1" height="5.47" fill="#366577"/></pattern><pattern id="p31_8" patternUnits="userSpaceOnUse" x="384.20" y="983.90" width="7.7750" height="4.4733"><rect width="8.77" height="5.47" fill="#497b81"/><rect width="8.77" height="1" fill="#3c7178"/><rect width="1" height="5.47" fill="#3c7178"/></pattern></defs>
<line x1="48.3" x2="328.5" y1="242.07" y2="242.07" stroke="#e2e2e2" stroke-width="0.8" stroke-dasharray="1.7,1.1"/>
<line x1="48.3" x2="328.5" y1="197.33" y2="197.33" stroke="#e2e2e2" stroke-width="0.8" stroke-dasharray="1.7,1.1"/>
<line x1="48.3" x2="328.5" y1="152.60" y2="152.60" stroke="#e2e2e2" stroke-width="0.8" stroke-dasharray="1.7,1.1"/>
<line x1="48.3" x2="328.5" y1="107.87" y2="107.87" stroke="#e2e2e2" stroke-width="0.8" stroke-dasharray="1.7,1.1"/>
<line x1="48.3" x2="328.5" y1="63.13" y2="63.13" stroke="#e2e2e2" stroke-width="0.8" stroke-dasharray="1.7,1.1"/>
<line x1="118.35" x2="118.35" y1="18.4" y2="286.8" stroke="#e2e2e2" stroke-width="0.8" stroke-dasharray="1.7,1.1"/>
<line x1="188.40" x2="188.40" y1="18.4" y2="286.8" stroke="#e2e2e2" stroke-width="0.8" stroke-dasharray="1.7,1.1"/>
<line x1="258.45" x2="258.45" y1="18.4" y2="286.8" stroke="#e2e2e2" stroke-width="0.8" stroke-dasharray="1.7,1.1"/>
<rect x="55.88" y="18.20" width="8.28" height="98.91" fill="url(#p00_0)"/>
<rect x="55.88" y="116.61" width="8.28" height="4.97" fill="url(#p00_2)"/>
<rect x="55.88" y="121.09" width="8.28" height="4.97" fill="url(#p00_4)"/>
<rect x="55.88" y="125.56" width="8.28" height="4.97" fill="url(#p00_6)"/>
<rect x="55.88" y="130.03" width="8.28" height="4.97" fill="url(#p00_8)"/>
<rect x="55.88" y="134.51" width="8.28" height="4.97" fill="url(#p00_16)"/>
<rect x="55.88" y="138.98" width="8.28" height="13.92" fill="url(#p00_20)"/>
<rect x="55.88" y="152.40" width="8.28" height="9.45" fill="url(#p00_24)"/>
<rect x="55.88" y="161.35" width="8.28" height="36.29" fill="url(#p00_28)"/>
<rect x="55.88" y="197.13" width="8.28" height="13.92" fill="url(#p00_32)"/>
<rect x="63.67" y="18.20" width="8.28" height="4.97" fill="url(#p00_0)"/>
<rect x="63.67" y="22.67" width="8.28" height="54.18" fill="url(#p00_4)"/>
<rect x="63.67" y="76.35" width="8.28" height="4.97" fill="url(#p00_0)"/>
<rect x="63.67" y="80.83" width="8.28" height="31.81" fill="url(#p00_4)"/>
<rect x="63.67" y="112.14" width="8.28" height="4.97" fill="url(#p00_0)"/>
<rect x="63.67" y="116.61" width="8.28" height="13.92" fill="url(#p00_4)"/>
<rect x="63.67" y="130.03" width="8.28" height="13.92" fill="url(#p00_8)"/>
<rect x="63.67" y="143.45" width="8.28" height="4.97" fill="url(#p00_16)"/>
<rect x="63.67" y="147.93" width="8.28" height="18.39" fill="url(#p00_20)"/>
<rect x="63.67" y="165.82" width="8.28" height="9.45" fill="url(#p00_24)"/>
<rect x="63.67" y="174.77" width="8.28" height="18.39" fill="url(#p00_20)"/>
<rect x="63.67" y="192.66" width="8.28" height="9.45" fill="url(#p00_24)"/>
<rect x="63.67" y="201.61" width="8.28" height="18.39" fill="url(#p00_28)"/>
<rect x="63.67" y="219.50" width="8.28" height="9.45" fill="url(#p00_32)"/>
<rect x="71.45" y="18.20" width="8.28" height="40.76" fill="url(#p00_0)"/>
<rect x="71.45" y="58.46" width="8.28" height="18.39" fill="url(#p00_4)"/>
<rect x="71.45" y="76.35" width="8.28" height="13.92" fill="url(#p00_0)"/>
<rect x="71.45" y="89.77" width="8.28" height="4.97" fill="url(#p00_4)"/>
<rect x="71.45" y="94.25" width="8.28" height="4.97" fill="url(#p00_0)"/>
<rect x="71.45" y="98.72" width="8.28" height="9.45" fill="url(#p00_4)"/>
<rect x="71.45" y="107.67" width="8.28" height="13.92" fill="url(#p00_0)"/>
<rect x="71.45" y="121.09" width="8.28" height="4.97" fill="url(#p00_2)"/>
<rect x="71.45" y="125.56" width="8.28" height="4.97" fill="url(#p00_6)"/>
<rect x="71.45" y="130.03" width="8.28" height="4.97" fill="url(#p00_8)"/>
<rect x="71.45" y="134.51" width="8.28" height="9.45" fill="url(#p00_12)"/>
<rect x="71.45" y="143.45" width="8.28" height="9.45" fill="url(#p00_16)"/>
<rect x="71.45" y="152.40" width="8.28" height="18.39" fill="url(#p00_20)"/>
<rect x="71.45" y="170.29" width="8.28" height="9.45" fill="url(#p00_24)"/>
<rect x="71.45" y="179.24" width="8.28" height="4.97" fill="url(#p00_21)"/>
<rect x="71.45" y="183.71" width="8.28" height="4.97" fill="url(#p00_15)"/>
<rect x="71.45" y="188.19" width="8.28" height="4.97" fill="url(#p00_14)"/>
<rect x="71.45" y="192.66" width="8.28" height="4.97" fill="url(#p00_18)"/>
<rect x="71.45" y="197.13" width="8.28" height="9.45" fill="url(#p00_20)"/>
<rect x="71.45" y="206.08" width="8.28" height="4.97" fill="url(#p00_22)"/>
<rect x="71.45" y="210.55" width="8.28" height="4.97" fill="url(#p00_26)"/>
<rect x="71.45" y="215.03" width="8.28" height="9.45" fill="url(#p00_28)"/>
<rect x="79.23" y="18.20" width="8.28" height="36.29" fill="url(#p00_0)"/>
<rect x="79.23" y="53.99" width="8.28" height="36.29" fill="url(#p00_4)"/>
<rect x="79.23" y="89.77" width="8.28" height="40.76" fill="url(#p00_6)"/>
<rect x="79.23" y="130.03" width="8.28" height="4.97" fill="url(#p00_12)"/>
<rect x="79.23" y="134.51" width="8.28" height="18.39" fill="url(#p00_20)"/>
<rect x="79.23" y="152.40" width="8.28" height="4.97" fill="url(#p00_22)"/>
<rect x="79.23" y="156.87" width="8.28" height="4.97" fill="url(#p00_26)"/>
<rect x="79.23" y="161.35" width="8.28" height="13.92" fill="url(#p00_28)"/>
<rect x="79.23" y="174.77" width="8.28" height="4.97" fill="url(#p00_24)"/>
<rect x="79.23" y="179.24" width="8.28" height="13.92" fill="url(#p00_28)"/>
<rect x="87.02" y="18.20" width="8.28" height="18.39" fill="url(#p00_6)"/>
<rect x="87.02" y="36.09" width="8.28" height="18.39" fill="url(#p00_8)"/>
<rect x="87.02" y="53.99" width="8.28" height="27.34" fill="url(#p00_4)"/>
<rect x="87.02" y="80.83" width="8.28" height="31.81" fill="url(#p00_8)"/>
<rect x="87.02" y="112.14" width="8.28" height="4.97" fill="url(#p00_4)"/>
<rect x="87.02" y="116.61" width="8.28" height="18.39" fill="url(#p00_8)"/>
<rect x="87.02" y="134.51" width="8.28" height="4.97" fill="url(#p00_10)"/>
<rect x="87.02" y="138.98" width="8.28" height="4.97" fill="url(#p00_14)"/>
<rect x="87.02" y="143.45" width="8.28" height="4.97" fill="url(#p00_16)"/>
<rect x="87.02" y="147.93" width="8.28" height="18.39" fill="url(#p00_20)"/>
<rect x="87.02" y="165.82" width="8.28" height="4.97" fill="url(#p00_26)"/>
<rect x="87.02" y="170.29" width="8.28" height="13.92" fill="url(#p00_20)"/>
<rect x="94.80" y="18.20" width="8.28" height="63.13" fill="url(#p00_8)"/>
<rect x="94.80" y="80.83" width="8.28" height="31.81" fill="url(#p00_6)"/>
<rect x="94.80" y="112.14" width="8.28" height="27.34" fill="url(#p00_8)"/>
<rect x="94.80" y="138.98" width="8.28" height="4.97" fill="url(#p00_10)"/>
<rect x="94.80" y="143.45" width="8.28" height="4.97" fill="url(#p00_14)"/>
<rect x="94.80" y="147.93" width="8.28" height="9.45" fill="url(#p00_16)"/>
<rect x="94.80" y="156.87" width="8.28" height="4.97" fill="url(#p00_12)"/>
<rect x="94.80" y="161.35" width="8.28" height="9.45" fill="url(#p00_20)"/>
<rect x="94.80" y="170.29" width="8.28" height="4.97" fill="url(#p00_22)"/>
<rect x="94.80" y="174.77" width="8.28" height="4.97" fill="url(#p00_26)"/>
<rect x="94.80" y="179.24" width="8.28" height="9.45" fill="url(#p00_28)"/>
<rect x="94.80" y="188.19" width="8.28" height="13.92" fill="url(#p00_32)"/>
<rect x="102.58" y="18.20" width="8.28" height="103.39" fill="url(#p00_4)"/>
<rect x="102.58" y="121.09" width="8.28" height="4.97" fill="url(#p00_8)"/>
<rect x="102.58" y="125.56" width="8.28" height="4.97" fill="url(#p00_16)"/>
<rect x="102.58" y="130.03" width="8.28" height="18.39" fill="url(#p00_20)"/>
<rect x="102.58" y="147.93" width="8.28" height="9.45" fill="url(#p00_16)"/>
<rect x="102.58" y="156.87" width="8.28" height="9.45" fill="url(#p00_20)"/>
<rect x="102.58" y="165.82" width="8.28" height="4.97" fill="url(#p00_24)"/>
<rect x="102.58" y="170.29" width="8.28" height="18.39" fill="url(#p00_28)"/>
<rect x="102.58" y="188.19" width="8.28" height="13.92" fill="url(#p00_32)"/>
<rect x="102.58" y="201.61" width="8.28" height="4.97" fill="url(#p00_28)"/>
<rect x="110.37" y="18.20" width="8.28" height="13.92" fill="url(#p00_6)"/>
<rect x="110.37" y="31.62" width="8.28" height="98.91" fill="url(#p00_8)"/>
<rect x="110.37" y="130.03" width="8.28" height="36.29" fill="url(#p00_12)"/>
<rect x="110.37" y="165.82" width="8.28" height="9.45" fill="url(#p00_16)"/>
<rect x="110.37" y="174.77" width="8.28" height="36.29" fill="url(#p00_20)"/>
<rect x="110.37" y="210.55" width="8.28" height="4.97" fill="url(#p00_26)"/>
<rect x="110.37" y="215.03" width="8.28" height="4.97" fill="url(#p00_22)"/>
<rect x="110.37" y="219.50" width="8.28" height="4.97" fill="url(#p00_26)"/>
<rect x="118.15" y="18.20" width="8.28" height="31.81" fill="url(#p00_0)"/>
<rect x="118.15" y="49.51" width="8.28" height="4.97" fill="url(#p00_2)"/>
<rect x="118.15" y="53.99" width="8.28" height="4.97" fill="url(#p00_6)"/>
<rect x="118.15" y="58.46" width="8.28" height="4.97" fill="url(#p00_8)"/>
<rect x="118.15" y="62.93" width="8.28" height="9.45" fill="url(#p00_12)"/>
<rect x="118.15" y="71.88" width="8.28" height="31.81" fill="url(#p00_8)"/>
<rect x="118.15" y="103.19" width="8.28" height="9.45" fill="url(#p00_12)"/>
<rect x="118.15" y="112.14" width="8.28" height="4.97" fill="url(#p00_16)"/>
<rect x="118.15" y="116.61" width="8.28" height="9.45" fill="url(#p00_8)"/>
<rect x="118.15" y="125.56" width="8.28" height="4.97" fill="url(#p00_10)"/>
<rect x="118.15" y="130.03" width="8.28" height="4.97" fill="url(#p00_14)"/>
<rect x="118.15" y="134.51" width="8.28" height="9.45" fill="url(#p00_16)"/>
<rect x="118.15" y="143.45" width="8.28" height="4.97" fill="url(#p00_14)"/>
<rect x="118.15" y="147.93" width="8.28" height="4.97" fill="url(#p00_10)"/>
<rect x="118.15" y="152.40" width="8.28" height="13.92" fill="url(#p00_8)"/>
<rect x="118.15" y="165.82" width="8.28" height="13.92" fill="url(#p00_12)"/>
<rect x="118.15" y="179.24" width="8.28" height="4.97" fill="url(#p00_20)"/>
<rect x="118.15" y="183.71" width="8.28" height="4.97" fill="url(#p00_14)"/>
<rect x="118.15" y="188.19" width="8.28" height="4.97" fill="url(#p00_16)"/>
<rect x="118.15" y="192.66" width="8.28" height="4.97" fill="url(#p00_18)"/>
<rect x="118.15" y="197.13" width="8.28" height="13.92" fill="url(#p00_20)"/>
<rect x="125.93" y="18.20" width="8.28" height="139.17" fill="url(#p00_0)"/>
<rect x="125.93" y="156.87" width="8.28" height="45.23" fill="url(#p00_4)"/>
<rect x="125.93" y="201.61" width="8.28" height="4.97" fill="url(#p00_16)"/>
<rect x="125.93" y="206.08" width="8.28" height="9.45" fill="url(#p00_20)"/>
<rect x="133.72" y="18.20" width="8.28" height="49.71" fill="url(#p00_0)"/>
<rect x="133.72" y="67.41" width="8.28" height="4.97" fill="url(#p00_4)"/>
<rect x="133.72" y="71.88" width="8.28" height="13.92" fill="url(#p00_10)"/>
<rect x="133.72" y="85.30" width="8.28" height="4.97" fill="url(#p00_4)"/>
<rect x="133.72" y="89.77" width="8.28" height="76.55" fill="url(#p00_8)"/>
<rect x="133.72" y="165.82" width="8.28" height="31.81" fill="url(#p00_10)"/>
<rect x="133.72" y="197.13" width="8.28" height="4.97" fill="url(#p00_12)"/>
<rect x="133.72" y="201.61" width="8.28" height="4.97" fill="url(#p00_18)"/>
<rect x="133.72" y="206.08" width="8.28" height="4.97" fill="url(#p00_20)"/>
<rect x="141.50" y="18.20" width="8.28" height="18.39" fill="url(#p00_0)"/>
<rect x="141.50" y="36.09" width="8.28" height="54.18" fill="url(#p00_4)"/>
<rect x="141.50" y="89.77" width="8.28" height="40.76" fill="url(#p00_0)"/>
<rect x="141.50" y="130.03" width="8.28" height="4.97" fill="url(#p00_4)"/>
<rect x="141.50" y="134.51" width="8.28" height="49.71" fill="url(#p00_8)"/>
<rect x="141.50" y="183.71" width="8.28" height="4.97" fill="url(#p00_20)"/>
<rect x="141.50" y="188.19" width="8.28" height="13.92" fill="url(#p00_12)"/>
<rect x="149.28" y="18.20" width="8.28" height="13.92" fill="url(#p00_18)"/>
<rect x="149.28" y="31.62" width="8.28" height="4.97" fill="url(#p00_16)"/>
<rect x="149.28" y="36.09" width="8.28" height="4.97" fill="url(#p00_14)"/>
<rect x="149.28" y="40.57" width="8.28" height="4.97" fill="url(#p00_12)"/>
<rect x="149.28" y="45.04" width="8.28" height="13.92" fill="url(#p00_10)"/>
<rect x="149.28" y="58.46" width="8.28" height="125.75" fill="url(#p00_6)"/>
<rect x="149.28" y="183.71" width="8.28" height="13.92" fill="url(#p00_8)"/>
<rect x="157.07" y="18.20" width="8.28" height="31.81" fill="url(#p00_0)"/>
<rect x="157.07" y="49.51" width="8.28" height="4.97" fill="url(#p00_4)"/>
<rect x="157.07" y="53.99" width="8.28" height="4.97" fill="url(#p00_16)"/>
<rect x="157.07" y="58.46" width="8.28" height="18.39" fill="url(#p00_20)"/>
<rect x="157.07" y="76.35" width="8.28" height="4.97" fill="url(#p00_12)"/>
<rect x="157.07" y="80.83" width="8.28" height="4.97" fill="url(#p00_18)"/>
<rect x="157.07" y="85.30" width="8.28" height="4.97" fill="url(#p00_16)"/>
<rect x="157.07" y="89.77" width="8.28" height="4.97" fill="url(#p00_14)"/>
<rect x="157.07" y="94.25" width="8.28" height="9.45" fill="url(#p00_12)"/>
<rect x="157.07" y="103.19" width="8.28" height="22.87" fill="url(#p00_10)"/>
<rect x="157.07" y="125.56" width="8.28" height="36.29" fill="url(#p00_8)"/>
<rect x="157.07" y="161.35" width="8.28" height="4.97" fill="url(#p00_10)"/>
<rect x="157.07" y="165.82" width="8.28" height="4.97" fill="url(#p00_14)"/>
<rect x="157.07" y="170.29" width="8.28" height="4.97" fill="url(#p00_16)"/>
<rect x="164.85" y="18.20" width="8.28" height="4.97" fill="url(#p00_10)"/>
<rect x="164.85" y="22.67" width="8.28" height="13.92" fill="url(#p00_20)"/>
<rect x="164.85" y="36.09" width="8.28" height="22.87" fill="url(#p00_22)"/>
<rect x="164.85" y="58.46" width="8.28" height="13.92" fill="url(#p00_20)"/>
<rect x="164.85" y="71.88" width="8.28" height="9.45" fill="url(#p00_22)"/>
<rect x="164.85" y="80.83" width="8.28" height="4.97" fill="url(#p00_24)"/>
<rect x="164.85" y="85.30" width="8.28" height="4.97" fill="url(#p00_20)"/>
<rect x="164.85" y="89.77" width="8.28" height="9.45" fill="url(#p00_16)"/>
<rect x="164.85" y="98.72" width="8.28" height="9.45" fill="url(#p00_20)"/>
<rect x="164.85" y="107.67" width="8.28" height="4.97" fill="url(#p00_18)"/>
<rect x="164.85" y="112.14" width="8.28" height="9.45" fill="url(#p00_14)"/>
<rect x="164.85" y="121.09" width="8.28" height="4.97" fill="url(#p00_18)"/>
<rect x="164.85" y="125.56" width="8.28" height="9.45" fill="url(#p00_20)"/>
<rect x="164.85" y="134.51" width="8.28" height="4.97" fill="url(#p00_16)"/>
<rect x="164.85" y="138.98" width="8.28" height="13.92" fill="url(#p00_12)"/>
<rect x="164.85" y="152.40" width="8.28" height="13.92" fill="url(#p00_16)"/>
<rect x="164.85" y="165.82" width="8.28" height="22.87" fill="url(#p00_12)"/>
<rect x="164.85" y="188.19" width="8.28" height="4.97" fill="url(#p00_14)"/>
<rect x="164.85" y="192.66" width="8.28" height="4.97" fill="url(#p00_18)"/>
<rect x="164.85" y="197.13" width="8.28" height="9.45" fill="url(#p00_20)"/>
<rect x="172.63" y="18.20" width="8.28" height="40.76" fill="url(#p00_0)"/>
<rect x="172.63" y="58.46" width="8.28" height="4.97" fill="url(#p00_2)"/>
<rect x="172.63" y="62.93" width="8.28" height="4.97" fill="url(#p00_6)"/>
<rect x="172.63" y="67.41" width="8.28" height="9.45" fill="url(#p00_8)"/>
<rect x="172.63" y="76.35" width="8.28" height="13.92" fill="url(#p00_12)"/>
<rect x="172.63" y="89.77" width="8.28" height="13.92" fill="url(#p00_14)"/>
<rect x="172.63" y="103.19" width="8.28" height="13.92" fill="url(#p00_10)"/>
<rect x="172.63" y="116.61" width="8.28" height="4.97" fill="url(#p00_6)"/>
<rect x="172.63" y="121.09" width="8.28" height="9.45" fill="url(#p00_12)"/>
<rect x="172.63" y="130.03" width="8.28" height="31.81" fill="url(#p00_8)"/>
<rect x="172.63" y="161.35" width="8.28" height="4.97" fill="url(#p00_10)"/>
<rect x="172.63" y="165.82" width="8.28" height="4.97" fill="url(#p00_14)"/>
<rect x="172.63" y="170.29" width="8.28" height="4.97" fill="url(#p00_16)"/>
<rect x="172.63" y="174.77" width="8.28" height="4.97" fill="url(#p00_20)"/>
<rect x="172.63" y="179.24" width="8.28" height="4.97" fill="url(#p00_16)"/>
<rect x="172.63" y="183.71" width="8.28" height="9.45" fill="url(#p00_10)"/>
<rect x="172.63" y="192.66" width="8.28" height="4.97" fill="url(#p00_20)"/>
<rect x="180.42" y="18.20" width="8.28" height="13.92" fill="url(#p00_20)"/>
<rect x="180.42" y="31.62" width="8.28" height="4.97" fill="url(#p00_18)"/>
<rect x="180.42" y="36.09" width="8.28" height="9.45" fill="url(#p00_14)"/>
<rect x="180.42" y="45.04" width="8.28" height="4.97" fill="url(#p00_18)"/>
<rect x="180.42" y="49.51" width="8.28" height="22.87" fill="url(#p00_20)"/>
<rect x="180.42" y="71.88" width="8.28" height="4.97" fill="url(#p00_24)"/>
<rect x="180.42" y="76.35" width="8.28" height="27.34" fill="url(#p00_20)"/>
<rect x="180.42" y="103.19" width="8.28" height="4.97" fill="url(#p00_10)"/>
<rect x="180.42" y="107.67" width="8.28" height="18.39" fill="url(#p00_16)"/>
<rect x="180.42" y="125.56" width="8.28" height="4.97" fill="url(#p00_8)"/>
<rect x="180.42" y="130.03" width="8.28" height="18.39" fill="url(#p00_20)"/>
<rect x="180.42" y="147.93" width="8.28" height="4.97" fill="url(#p00_12)"/>
<rect x="180.42" y="152.40" width="8.28" height="9.45" fill="url(#p00_20)"/>
<rect x="180.42" y="161.35" width="8.28" height="4.97" fill="url(#p00_24)"/>
<rect x="180.42" y="165.82" width="8.28" height="4.97" fill="url(#p00_20)"/>
<rect x="180.42" y="170.29" width="8.28" height="4.97" fill="url(#p00_18)"/>
<rect x="180.42" y="174.77" width="8.28" height="4.97" fill="url(#p00_14)"/>
<rect x="180.42" y="179.24" width="8.28" height="13.92" fill="url(#p00_12)"/>
<rect x="203.77" y="18.20" width="8.28" height="13.92" fill="url(#p00_0)"/>
<rect x="203.77" y="31.62" width="8.28" height="4.97" fill="url(#p00_5)"/>
<rect x="203.77" y="36.09" width="8.28" height="4.97" fill="url(#p00_15)"/>
<rect x="203.77" y="40.57" width="8.28" height="13.92" fill="url(#p00_20)"/>
<rect x="203.77" y="53.99" width="8.28" height="4.97" fill="url(#p00_18)"/>
<rect x="203.77" y="58.46" width="8.28" height="13.92" fill="url(#p00_12)"/>
<rect x="203.77" y="71.88" width="8.28" height="4.97" fill="url(#p00_20)"/>
<rect x="203.77" y="76.35" width="8.28" height="13.92" fill="url(#p00_10)"/>
<rect x="203.77" y="89.77" width="8.28" height="4.97" fill="url(#p00_16)"/>
<rect x="203.77" y="94.25" width="8.28" height="31.81" fill="url(#p00_8)"/>
<rect x="203.77" y="125.56" width="8.28" height="4.97" fill="url(#p00_4)"/>
<rect x="203.77" y="130.03" width="8.28" height="4.97" fill="url(#p00_7)"/>
<rect x="203.77" y="134.51" width="8.28" height="4.97" fill="url(#p00_13)"/>
<rect x="203.77" y="138.98" width="8.28" height="13.92" fill="url(#p00_16)"/>
<rect x="203.77" y="152.40" width="8.28" height="4.97" fill="url(#p00_6)"/>
<rect x="203.77" y="156.87" width="8.28" height="4.97" fill="url(#p00_12)"/>
<rect x="203.77" y="161.35" width="8.28" height="4.97" fill="url(#p00_14)"/>
<rect x="203.77" y="165.82" width="8.28" height="4.97" fill="url(#p00_16)"/>
<rect x="203.77" y="170.29" width="8.28" height="27.34" fill="url(#p00_18)"/>
<rect x="203.77" y="197.13" width="8.28" height="4.97" fill="url(#p00_12)"/>
<rect x="203.77" y="201.61" width="8.28" height="18.39" fill="url(#p00_20)"/>
<rect x="211.55" y="18.20" width="8.28" height="63.13" fill="url(#p00_0)"/>
<rect x="234.90" y="18.20" width="8.28" height="107.86" fill="url(#p00_0)"/>
<rect x="234.90" y="125.56" width="8.28" height="4.97" fill="url(#p00_8)"/>
<rect x="242.68" y="18.20" width="8.28" height="4.97" fill="url(#p00_4)"/>
<rect x="242.68" y="22.67" width="8.28" height="18.39" fill="url(#p00_10)"/>
<rect x="242.68" y="40.57" width="8.28" height="27.34" fill="url(#p00_8)"/>
<rect x="242.68" y="67.41" width="8.28" height="18.39" fill="url(#p00_6)"/>
<rect x="242.68" y="85.30" width="8.28" height="9.45" fill="url(#p00_10)"/>
<rect x="242.68" y="94.25" width="8.28" height="36.29" fill="url(#p00_8)"/>
<rect x="242.68" y="130.03" width="8.28" height="4.97" fill="url(#p00_16)"/>
<rect x="250.47" y="18.20" width="8.28" height="22.87" fill="url(#p00_4)"/>
<rect x="250.47" y="40.57" width="8.28" height="4.97" fill="url(#p00_12)"/>
<rect x="250.47" y="45.04" width="8.28" height="22.87" fill="url(#p00_4)"/>
<rect x="250.47" y="67.41" width="8.28" height="9.45" fill="url(#p00_0)"/>
<rect x="250.47" y="76.35" width="8.28" height="4.97" fill="url(#p00_4)"/>
<rect x="250.47" y="80.83" width="8.28" height="49.71" fill="url(#p00_0)"/>
<rect x="250.47" y="130.03" width="8.28" height="4.97" fill="url(#p00_4)"/>
<rect x="250.47" y="134.51" width="8.28" height="27.34" fill="url(#p00_0)"/>
<rect x="250.47" y="161.35" width="8.28" height="4.97" fill="url(#p00_2)"/>
<rect x="250.47" y="165.82" width="8.28" height="4.97" fill="url(#p00_6)"/>
<rect x="250.47" y="170.29" width="8.28" height="9.45" fill="url(#p00_8)"/>
<rect x="250.47" y="179.24" width="8.28" height="4.97" fill="url(#p00_10)"/>
<rect x="250.47" y="183.71" width="8.28" height="4.97" fill="url(#p00_14)"/>
<rect x="250.47" y="188.19" width="8.28" height="18.39" fill="url(#p00_16)"/>
<rect x="250.47" y="206.08" width="8.28" height="9.45" fill="url(#p00_20)"/>
<rect x="250.47" y="215.03" width="8.28" height="4.97" fill="url(#p00_28)"/>
<rect x="258.25" y="18.20" width="8.28" height="4.97" fill="url(#p00_8)"/>
<rect x="258.25" y="22.67" width="8.28" height="9.45" fill="url(#p00_4)"/>
<rect x="258.25" y="31.62" width="8.28" height="9.45" fill="url(#p00_8)"/>
<rect x="258.25" y="40.57" width="8.28" height="9.45" fill="url(#p00_4)"/>
<rect x="258.25" y="49.51" width="8.28" height="22.87" fill="url(#p00_8)"/>
<rect x="258.25" y="71.88" width="8.28" height="13.92" fill="url(#p00_4)"/>
<rect x="258.25" y="85.30" width="8.28" height="18.39" fill="url(#p00_8)"/>
<rect x="258.25" y="103.19" width="8.28" height="9.45" fill="url(#p00_4)"/>
<rect x="258.25" y="112.14" width="8.28" height="18.39" fill="url(#p00_8)"/>
<rect x="258.25" y="130.03" width="8.28" height="18.39" fill="url(#p00_4)"/>
<rect x="258.25" y="147.93" width="8.28" height="4.97" fill="url(#p00_7)"/>
<rect x="258.25" y="152.40" width="8.28" height="4.97" fill="url(#p00_13)"/>
<rect x="258.25" y="156.87" width="8.28" height="4.97" fill="url(#p00_16)"/>
<rect x="266.03" y="18.20" width="8.28" height="112.33" fill="url(#p00_0)"/>
<rect x="266.03" y="130.03" width="8.28" height="27.34" fill="url(#p00_4)"/>
<rect x="266.03" y="156.87" width="8.28" height="22.87" fill="url(#p00_8)"/>
<rect x="266.03" y="179.24" width="8.28" height="13.92" fill="url(#p00_12)"/>
<rect x="266.03" y="192.66" width="8.28" height="9.45" fill="url(#p00_16)"/>
<rect x="266.03" y="201.61" width="8.28" height="36.29" fill="url(#p00_20)"/>
<rect x="266.03" y="237.39" width="8.28" height="4.97" fill="url(#p00_22)"/>
<rect x="266.03" y="241.87" width="8.28" height="4.97" fill="url(#p00_24)"/>
<rect x="266.03" y="246.34" width="8.28" height="4.97" fill="url(#p00_26)"/>
<rect x="273.82" y="18.20" width="8.28" height="9.45" fill="url(#p00_0)"/>
<rect x="273.82" y="27.15" width="8.28" height="130.23" fill="url(#p00_4)"/>
<rect x="273.82" y="156.87" width="8.28" height="18.39" fill="url(#p00_8)"/>
<rect x="273.82" y="174.77" width="8.28" height="4.97" fill="url(#p00_12)"/>
<rect x="273.82" y="179.24" width="8.28" height="4.97" fill="url(#p00_14)"/>
<rect x="273.82" y="183.71" width="8.28" height="4.97" fill="url(#p00_16)"/>
<rect x="273.82" y="188.19" width="8.28" height="13.92" fill="url(#p00_18)"/>
<rect x="273.82" y="201.61" width="8.28" height="9.45" fill="url(#p00_20)"/>
<rect x="273.82" y="210.55" width="8.28" height="4.97" fill="url(#p00_22)"/>
<rect x="273.82" y="215.03" width="8.28" height="4.97" fill="url(#p00_26)"/>
<rect x="273.82" y="219.50" width="8.28" height="4.97" fill="url(#p00_28)"/>
<rect x="273.82" y="223.97" width="8.28" height="4.97" fill="url(#p00_26)"/>
<rect x="273.82" y="228.45" width="8.28" height="9.45" fill="url(#p00_22)"/>
<rect x="273.82" y="237.39" width="8.28" height="4.97" fill="url(#p00_26)"/>
<rect x="273.82" y="241.87" width="8.28" height="4.97" fill="url(#p00_28)"/>
<rect x="281.60" y="18.20" width="8.28" height="18.39" fill="url(#p00_4)"/>
<rect x="281.60" y="36.09" width="8.28" height="81.02" fill="url(#p00_6)"/>
<rect x="281.60" y="116.61" width="8.28" height="4.97" fill="url(#p00_8)"/>
<rect x="281.60" y="121.09" width="8.28" height="31.81" fill="url(#p00_4)"/>
<rect x="281.60" y="152.40" width="8.28" height="13.92" fill="url(#p00_8)"/>
<rect x="281.60" y="165.82" width="8.28" height="4.97" fill="url(#p00_16)"/>
<rect x="281.60" y="170.29" width="8.28" height="4.97" fill="url(#p00_20)"/>
<rect x="281.60" y="174.77" width="8.28" height="4.97" fill="url(#p00_22)"/>
<rect x="281.60" y="179.24" width="8.28" height="4.97" fill="url(#p00_26)"/>
<rect x="281.60" y="183.71" width="8.28" height="18.39" fill="url(#p00_28)"/>
<rect x="281.60" y="201.61" width="8.28" height="18.39" fill="url(#p00_32)"/>
<rect x="281.60" y="219.50" width="8.28" height="4.97" fill="url(#p00_36)"/>
<rect x="281.60" y="223.97" width="8.28" height="4.97" fill="url(#p00_32)"/>
<rect x="281.60" y="228.45" width="8.28" height="18.39" fill="url(#p00_28)"/>
<rect x="289.38" y="18.20" width="8.28" height="4.97" fill="url(#p00_0)"/>
<rect x="289.38" y="22.67" width="8.28" height="13.92" fill="url(#p00_4)"/>
<rect x="289.38" y="36.09" width="8.28" height="54.18" fill="url(#p00_8)"/>
<rect x="289.38" y="89.77" width="8.28" height="13.92" fill="url(#p00_6)"/>
<rect x="289.38" y="103.19" width="8.28" height="27.34" fill="url(#p00_8)"/>
<rect x="289.38" y="130.03" width="8.28" height="4.97" fill="url(#p00_11)"/>
<rect x="289.38" y="134.51" width="8.28" height="4.97" fill="url(#p00_17)"/>
<rect x="289.38" y="138.98" width="8.28" height="4.97" fill="url(#p00_20)"/>
<rect x="289.38" y="143.45" width="8.28" height="9.45" fill="url(#p00_24)"/>
<rect x="289.38" y="152.40" width="8.28" height="36.29" fill="url(#p00_28)"/>
<rect x="289.38" y="188.19" width="8.28" height="49.71" fill="url(#p00_32)"/>
<rect x="289.38" y="237.39" width="8.28" height="13.92" fill="url(#p00_34)"/>
<rect x="289.38" y="250.81" width="8.28" height="4.97" fill="url(#p00_36)"/>
<rect x="297.17" y="18.20" width="8.28" height="18.39" fill="url(#p00_4)"/>
<rect x="297.17" y="36.09" width="8.28" height="4.97" fill="url(#p00_0)"/>
<rect x="297.17" y="40.57" width="8.28" height="9.45" fill="url(#p00_4)"/>
<rect x="297.17" y="49.51" width="8.28" height="40.76" fill="url(#p00_8)"/>
<rect x="297.17" y="89.77" width="8.28" height="13.92" fill="url(#p00_4)"/>
<rect x="297.17" y="103.19" width="8.28" height="22.87" fill="url(#p00_8)"/>
<rect x="297.17" y="125.56" width="8.28" height="4.97" fill="url(#p00_12)"/>
<rect x="297.17" y="130.03" width="8.28" height="4.97" fill="url(#p00_14)"/>
<rect x="297.17" y="134.51" width="8.28" height="4.97" fill="url(#p00_18)"/>
<rect x="297.17" y="138.98" width="8.28" height="9.45" fill="url(#p00_20)"/>
<rect x="297.17" y="147.93" width="8.28" height="4.97" fill="url(#p00_26)"/>
<rect x="297.17" y="152.40" width="8.28" height="31.81" fill="url(#p00_28)"/>
<rect x="297.17" y="183.71" width="8.28" height="4.97" fill="url(#p00_26)"/>
<rect x="297.17" y="188.19" width="8.28" height="9.45" fill="url(#p00_28)"/>
<rect x="297.17" y="197.13" width="8.28" height="9.45" fill="url(#p00_32)"/>
<rect x="297.17" y="206.08" width="8.28" height="13.92" fill="url(#p00_36)"/>
<rect x="304.95" y="18.20" width="8.28" height="18.39" fill="url(#p00_4)"/>
<rect x="304.95" y="36.09" width="8.28" height="89.97" fill="url(#p00_8)"/>
<rect x="304.95" y="125.56" width="8.28" height="4.97" fill="url(#p00_12)"/>
<rect x="304.95" y="130.03" width="8.28" height="4.97" fill="url(#p00_14)"/>
<rect x="304.95" y="134.51" width="8.28" height="4.97" fill="url(#p00_18)"/>
<rect x="304.95" y="138.98" width="8.28" height="4.97" fill="url(#p00_22)"/>
<rect x="304.95" y="143.45" width="8.28" height="4.97" fill="url(#p00_24)"/>
<rect x="304.95" y="147.93" width="8.28" height="9.45" fill="url(#p00_26)"/>
<rect x="304.95" y="156.87" width="8.28" height="31.81" fill="url(#p00_28)"/>
<rect x="304.95" y="188.19" width="8.28" height="27.34" fill="url(#p00_32)"/>
<rect x="304.95" y="215.03" width="8.28" height="27.34" fill="url(#p00_34)"/>
<rect x="304.95" y="241.87" width="8.28" height="9.45" fill="url(#p00_36)"/>
<rect x="312.73" y="18.20" width="8.28" height="9.45" fill="url(#p00_4)"/>
<rect x="312.73" y="27.15" width="8.28" height="98.91" fill="url(#p00_8)"/>
<rect x="312.73" y="125.56" width="8.28" height="4.97" fill="url(#p00_12)"/>
<rect x="312.73" y="130.03" width="8.28" height="4.97" fill="url(#p00_14)"/>
<rect x="312.73" y="134.51" width="8.28" height="4.97" fill="url(#p00_18)"/>
<rect x="312.73" y="138.98" width="8.28" height="4.97" fill="url(#p00_20)"/>
<rect x="312.73" y="143.45" width="8.28" height="4.97" fill="url(#p00_22)"/>
<rect x="312.73" y="147.93" width="8.28" height="4.97" fill="url(#p00_24)"/>
<rect x="312.73" y="152.40" width="8.28" height="4.97" fill="url(#p00_26)"/>
<rect x="312.73" y="156.87" width="8.28" height="27.34" fill="url(#p00_28)"/>
<rect x="312.73" y="183.71" width="8.28" height="27.34" fill="url(#p00_32)"/>
<rect x="320.52" y="18.20" width="8.28" height="4.97" fill="url(#p00_4)"/>
<rect x="320.52" y="22.67" width="8.28" height="31.81" fill="url(#p00_8)"/>
<rect x="320.52" y="53.99" width="8.28" height="18.39" fill="url(#p00_12)"/>
<rect x="320.52" y="71.88" width="8.28" height="63.13" fill="url(#p00_8)"/>
<rect x="320.52" y="134.51" width="8.28" height="4.97" fill="url(#p00_12)"/>
<rect x="320.52" y="138.98" width="8.28" height="9.45" fill="url(#p00_18)"/>
<rect x="320.52" y="147.93" width="8.28" height="13.92" fill="url(#p00_22)"/>
<rect x="320.52" y="161.35" width="8.28" height="4.97" fill="url(#p00_26)"/>
<rect x="320.52" y="165.82" width="8.28" height="18.39" fill="url(#p00_28)"/>
<rect x="48.3" y="18.4" width="280.2" height="268.4" fill="none" stroke="#383838" stroke-width="1.15"/>
<line x1="44.4" x2="48.3" y1="286.80" y2="286.80" stroke="#383838" stroke-width="1.15"/>
<text x="40.80" y="293.20" font-size="16.2" text-anchor="end" textLength="9.3" lengthAdjust="spacingAndGlyphs" fill="#111" stroke="#111" stroke-width="0.25">0</text>
<line x1="44.4" x2="48.3" y1="242.07" y2="242.07" stroke="#383838" stroke-width="1.15"/>
<text x="40.80" y="248.47" font-size="16.2" text-anchor="end" textLength="18.2" lengthAdjust="spacingAndGlyphs" fill="#111" stroke="#111" stroke-width="0.25">10</text>
<line x1="44.4" x2="48.3" y1="197.33" y2="197.33" stroke="#383838" stroke-width="1.15"/>
<text x="40.80" y="203.73" font-size="16.2" text-anchor="end" textLength="18.2" lengthAdjust="spacingAndGlyphs" fill="#111" stroke="#111" stroke-width="0.25">20</text>
<line x1="44.4" x2="48.3" y1="152.60" y2="152.60" stroke="#383838" stroke-width="1.15"/>
<text x="40.80" y="159.00" font-size="16.2" text-anchor="end" textLength="18.2" lengthAdjust="spacingAndGlyphs" fill="#111" stroke="#111" stroke-width="0.25">30</text>
<line x1="44.4" x2="48.3" y1="107.87" y2="107.87" stroke="#383838" stroke-width="1.15"/>
<text x="40.80" y="114.27" font-size="16.2" text-anchor="end" textLength="18.2" lengthAdjust="spacingAndGlyphs" fill="#111" stroke="#111" stroke-width="0.25">40</text>
<line x1="44.4" x2="48.3" y1="63.13" y2="63.13" stroke="#383838" stroke-width="1.15"/>
<text x="40.80" y="69.53" font-size="16.2" text-anchor="end" textLength="18.2" lengthAdjust="spacingAndGlyphs" fill="#111" stroke="#111" stroke-width="0.25">50</text>
<line x1="44.4" x2="48.3" y1="18.40" y2="18.40" stroke="#383838" stroke-width="1.15"/>
<text x="40.80" y="24.80" font-size="16.2" text-anchor="end" textLength="18.2" lengthAdjust="spacingAndGlyphs" fill="#111" stroke="#111" stroke-width="0.25">60</text>
<line x1="48.30" x2="48.30" y1="286.8" y2="290.7" stroke="#383838" stroke-width="1.15"/>
<text x="29.00" y="305.50" font-size="16.2" text-anchor="start" textLength="19.0" lengthAdjust="spacingAndGlyphs" fill="#111" stroke="#111" stroke-width="0.25">90</text>
<circle cx="53.9" cy="296.1" r="1.3" fill="none" stroke="#111" stroke-width="0.8"/>
<text x="58.60" y="305.50" font-size="16.2" text-anchor="start" textLength="10.0" lengthAdjust="spacingAndGlyphs" fill="#111" stroke="#111" stroke-width="0.25">S</text>
<line x1="118.35" x2="118.35" y1="286.8" y2="290.7" stroke="#383838" stroke-width="1.15"/>
<text x="98.70" y="305.50" font-size="16.2" text-anchor="start" textLength="19.0" lengthAdjust="spacingAndGlyphs" fill="#111" stroke="#111" stroke-width="0.25">45</text>
<circle cx="123.6" cy="296.1" r="1.3" fill="none" stroke="#111" stroke-width="0.8"/>
<text x="128.30" y="305.50" font-size="16.2" text-anchor="start" textLength="10.0" lengthAdjust="spacingAndGlyphs" fill="#111" stroke="#111" stroke-width="0.25">S</text>
<line x1="188.40" x2="188.40" y1="286.8" y2="290.7" stroke="#383838" stroke-width="1.15"/>
<text x="179.80" y="305.50" font-size="16.2" text-anchor="start" textLength="9.7" lengthAdjust="spacingAndGlyphs" fill="#111" stroke="#111" stroke-width="0.25">0</text>
<circle cx="194.7" cy="296.1" r="1.3" fill="none" stroke="#111" stroke-width="0.8"/>
<line x1="258.45" x2="258.45" y1="286.8" y2="290.7" stroke="#383838" stroke-width="1.15"/>
<text x="238.10" y="305.50" font-size="16.2" text-anchor="start" textLength="19.0" lengthAdjust="spacingAndGlyphs" fill="#111" stroke="#111" stroke-width="0.25">45</text>
<circle cx="262.1" cy="296.1" r="1.3" fill="none" stroke="#111" stroke-width="0.8"/>
<text x="268.30" y="305.50" font-size="16.2" text-anchor="start" textLength="11.0" lengthAdjust="spacingAndGlyphs" fill="#111" stroke="#111" stroke-width="0.25">N</text>
<line x1="328.50" x2="328.50" y1="286.8" y2="290.7" stroke="#383838" stroke-width="1.15"/>
<text x="308.60" y="305.50" font-size="16.2" text-anchor="start" textLength="19.0" lengthAdjust="spacingAndGlyphs" fill="#111" stroke="#111" stroke-width="0.25">90</text>
<circle cx="332.6" cy="296.1" r="1.3" fill="none" stroke="#111" stroke-width="0.8"/>
<text x="338.80" y="305.50" font-size="16.2" text-anchor="start" textLength="11.0" lengthAdjust="spacingAndGlyphs" fill="#111" stroke="#111" stroke-width="0.25">N</text>
<text x="126.80" y="11.80" font-size="15.7" text-anchor="start" fill="#111" font-style="italic" stroke="#111" stroke-width="0.25">L</text>
<text x="135.10" y="14.50" font-size="11.3" text-anchor="start" fill="#111" stroke="#111" stroke-width="0.2">S</text>
<text x="149.60" y="13.20" font-size="16" text-anchor="start" textLength="11.8" lengthAdjust="spacingAndGlyphs" fill="#111" font-weight="bold" stroke="#111" stroke-width="0.5">=</text>
<text x="168.20" y="11.80" font-size="15.7" text-anchor="start" textLength="73.2" lengthAdjust="spacingAndGlyphs" fill="#111" font-weight="bold" stroke="#111" stroke-width="0.45">160-200</text>
<circle cx="247.9" cy="2.8" r="1.45" fill="none" stroke="#111" stroke-width="0.75"/>
<text transform="translate(14.4,153.1) rotate(-90)" text-anchor="middle" font-size="18.3" textLength="116.6" lengthAdjust="spacingAndGlyphs" fill="#111" stroke="#111" stroke-width="0.25">Altitude / km</text>
<line x1="384.7" x2="664.6" y1="242.07" y2="242.07" stroke="#e2e2e2" stroke-width="0.8" stroke-dasharray="1.7,1.1"/>
<line x1="384.7" x2="664.6" y1="197.33" y2="197.33" stroke="#e2e2e2" stroke-width="0.8" stroke-dasharray="1.7,1.1"/>
<line x1="384.7" x2="664.6" y1="152.60" y2="152.60" stroke="#e2e2e2" stroke-width="0.8" stroke-dasharray="1.7,1.1"/>
<line x1="384.7" x2="664.6" y1="107.87" y2="107.87" stroke="#e2e2e2" stroke-width="0.8" stroke-dasharray="1.7,1.1"/>
<line x1="384.7" x2="664.6" y1="63.13" y2="63.13" stroke="#e2e2e2" stroke-width="0.8" stroke-dasharray="1.7,1.1"/>
<line x1="454.67" x2="454.67" y1="18.4" y2="286.8" stroke="#e2e2e2" stroke-width="0.8" stroke-dasharray="1.7,1.1"/>
<line x1="524.65" x2="524.65" y1="18.4" y2="286.8" stroke="#e2e2e2" stroke-width="0.8" stroke-dasharray="1.7,1.1"/>
<line x1="594.62" x2="594.62" y1="18.4" y2="286.8" stroke="#e2e2e2" stroke-width="0.8" stroke-dasharray="1.7,1.1"/>
<rect x="392.27" y="18.20" width="8.27" height="4.97" fill="url(#p01_6)"/>
<rect x="392.27" y="22.67" width="8.27" height="36.29" fill="url(#p01_10)"/>
<rect x="392.27" y="58.46" width="8.27" height="27.34" fill="url(#p01_12)"/>
<rect x="392.27" y="85.30" width="8.27" height="22.87" fill="url(#p01_14)"/>
<rect x="392.27" y="107.67" width="8.27" height="18.39" fill="url(#p01_16)"/>
<rect x="392.27" y="125.56" width="8.27" height="54.18" fill="url(#p01_18)"/>
<rect x="392.27" y="179.24" width="8.27" height="63.13" fill="url(#p01_20)"/>
<rect x="392.27" y="241.87" width="8.27" height="9.45" fill="url(#p01_18)"/>
<rect x="392.27" y="250.81" width="8.27" height="4.97" fill="url(#p01_20)"/>
<rect x="392.27" y="255.29" width="8.27" height="9.45" fill="url(#p01_18)"/>
<rect x="392.27" y="264.23" width="8.27" height="4.97" fill="url(#p01_20)"/>
<rect x="400.05" y="18.20" width="8.27" height="9.45" fill="url(#p01_8)"/>
<rect x="400.05" y="27.15" width="8.27" height="22.87" fill="url(#p01_10)"/>
<rect x="400.05" y="49.51" width="8.27" height="31.81" fill="url(#p01_12)"/>
<rect x="400.05" y="80.83" width="8.27" height="9.45" fill="url(#p01_14)"/>
<rect x="400.05" y="89.77" width="8.27" height="4.97" fill="url(#p01_16)"/>
<rect x="400.05" y="94.25" width="8.27" height="9.45" fill="url(#p01_14)"/>
<rect x="400.05" y="103.19" width="8.27" height="22.87" fill="url(#p01_16)"/>
<rect x="400.05" y="125.56" width="8.27" height="49.71" fill="url(#p01_18)"/>
<rect x="400.05" y="174.77" width="8.27" height="72.07" fill="url(#p01_20)"/>
<rect x="400.05" y="246.34" width="8.27" height="27.34" fill="url(#p01_18)"/>
<rect x="407.82" y="18.20" width="8.27" height="13.92" fill="url(#p01_8)"/>
<rect x="407.82" y="31.62" width="8.27" height="22.87" fill="url(#p01_12)"/>
<rect x="407.82" y="53.99" width="8.27" height="27.34" fill="url(#p01_16)"/>
<rect x="407.82" y="80.83" width="8.27" height="45.23" fill="url(#p01_18)"/>
<rect x="407.82" y="125.56" width="8.27" height="45.23" fill="url(#p01_20)"/>
<rect x="407.82" y="170.29" width="8.27" height="72.07" fill="url(#p01_24)"/>
<rect x="407.82" y="241.87" width="8.27" height="4.97" fill="url(#p01_26)"/>
<rect x="407.82" y="246.34" width="8.27" height="4.97" fill="url(#p01_22)"/>
<rect x="407.82" y="250.81" width="8.27" height="22.87" fill="url(#p01_18)"/>
<rect x="415.60" y="18.20" width="8.27" height="13.92" fill="url(#p01_12)"/>
<rect x="415.60" y="31.62" width="8.27" height="31.81" fill="url(#p01_16)"/>
<rect x="415.60" y="62.93" width="8.27" height="40.76" fill="url(#p01_18)"/>
<rect x="415.60" y="103.19" width="8.27" height="45.23" fill="url(#p01_20)"/>
<rect x="415.60" y="147.93" width="8.27" height="45.23" fill="url(#p01_24)"/>
<rect x="415.60" y="192.66" width="8.27" height="22.87" fill="url(#p01_28)"/>
<rect x="415.60" y="215.03" width="8.27" height="13.92" fill="url(#p01_24)"/>
<rect x="415.60" y="228.45" width="8.27" height="4.97" fill="url(#p01_28)"/>
<rect x="415.60" y="232.92" width="8.27" height="4.97" fill="url(#p01_24)"/>
<rect x="415.60" y="237.39" width="8.27" height="9.45" fill="url(#p01_28)"/>
<rect x="415.60" y="246.34" width="8.27" height="4.97" fill="url(#p01_22)"/>
<rect x="415.60" y="250.81" width="8.27" height="13.92" fill="url(#p01_18)"/>
<rect x="423.38" y="18.20" width="8.27" height="18.39" fill="url(#p01_0)"/>
<rect x="423.38" y="36.09" width="8.27" height="36.29" fill="url(#p01_4)"/>
<rect x="423.38" y="71.88" width="8.27" height="9.45" fill="url(#p01_6)"/>
<rect x="423.38" y="80.83" width="8.27" height="49.71" fill="url(#p01_8)"/>
<rect x="423.38" y="130.03" width="8.27" height="4.97" fill="url(#p01_10)"/>
<rect x="423.38" y="134.51" width="8.27" height="4.97" fill="url(#p01_16)"/>
<rect x="423.38" y="138.98" width="8.27" height="27.34" fill="url(#p01_18)"/>
<rect x="423.38" y="165.82" width="8.27" height="4.97" fill="url(#p01_20)"/>
<rect x="423.38" y="170.29" width="8.27" height="27.34" fill="url(#p01_18)"/>
<rect x="423.38" y="197.13" width="8.27" height="4.97" fill="url(#p01_16)"/>
<rect x="423.38" y="201.61" width="8.27" height="4.97" fill="url(#p01_14)"/>
<rect x="423.38" y="206.08" width="8.27" height="9.45" fill="url(#p01_12)"/>
<rect x="423.38" y="215.03" width="8.27" height="4.97" fill="url(#p01_18)"/>
<rect x="423.38" y="219.50" width="8.27" height="4.97" fill="url(#p01_12)"/>
<rect x="423.38" y="223.97" width="8.27" height="4.97" fill="url(#p01_14)"/>
<rect x="423.38" y="228.45" width="8.27" height="4.97" fill="url(#p01_18)"/>
<rect x="423.38" y="232.92" width="8.27" height="4.97" fill="url(#p01_20)"/>
<rect x="423.38" y="237.39" width="8.27" height="4.97" fill="url(#p01_18)"/>
<rect x="423.38" y="241.87" width="8.27" height="4.97" fill="url(#p01_16)"/>
<rect x="423.38" y="246.34" width="8.27" height="4.97" fill="url(#p01_14)"/>
<rect x="423.38" y="250.81" width="8.27" height="4.97" fill="url(#p01_12)"/>
<rect x="431.15" y="18.20" width="8.27" height="40.76" fill="url(#p01_4)"/>
<rect x="431.15" y="58.46" width="8.27" height="18.39" fill="url(#p01_6)"/>
<rect x="431.15" y="76.35" width="8.27" height="27.34" fill="url(#p01_8)"/>
<rect x="431.15" y="103.19" width="8.27" height="9.45" fill="url(#p01_6)"/>
<rect x="431.15" y="112.14" width="8.27" height="22.87" fill="url(#p01_8)"/>
<rect x="431.15" y="134.51" width="8.27" height="4.97" fill="url(#p01_10)"/>
<rect x="431.15" y="138.98" width="8.27" height="9.45" fill="url(#p01_8)"/>
<rect x="431.15" y="147.93" width="8.27" height="13.92" fill="url(#p01_12)"/>
<rect x="431.15" y="161.35" width="8.27" height="4.97" fill="url(#p01_8)"/>
<rect x="431.15" y="165.82" width="8.27" height="18.39" fill="url(#p01_12)"/>
<rect x="431.15" y="183.71" width="8.27" height="18.39" fill="url(#p01_14)"/>
<rect x="431.15" y="201.61" width="8.27" height="4.97" fill="url(#p01_16)"/>
<rect x="431.15" y="206.08" width="8.27" height="4.97" fill="url(#p01_12)"/>
<rect x="431.15" y="210.55" width="8.27" height="18.39" fill="url(#p01_18)"/>
<rect x="431.15" y="228.45" width="8.27" height="4.97" fill="url(#p01_14)"/>
<rect x="431.15" y="232.92" width="8.27" height="9.45" fill="url(#p01_18)"/>
<rect x="438.93" y="18.20" width="8.27" height="45.23" fill="url(#p01_4)"/>
<rect x="438.93" y="62.93" width="8.27" height="13.92" fill="url(#p01_6)"/>
<rect x="438.93" y="76.35" width="8.27" height="49.71" fill="url(#p01_8)"/>
<rect x="438.93" y="125.56" width="8.27" height="4.97" fill="url(#p01_16)"/>
<rect x="438.93" y="130.03" width="8.27" height="81.02" fill="url(#p01_18)"/>
<rect x="438.93" y="210.55" width="8.27" height="4.97" fill="url(#p01_20)"/>
<rect x="438.93" y="215.03" width="8.27" height="4.97" fill="url(#p01_28)"/>
<rect x="438.93" y="219.50" width="8.27" height="4.97" fill="url(#p01_24)"/>
<rect x="438.93" y="223.97" width="8.27" height="13.92" fill="url(#p01_28)"/>
<rect x="438.93" y="237.39" width="8.27" height="4.97" fill="url(#p01_26)"/>
<rect x="438.93" y="241.87" width="8.27" height="4.97" fill="url(#p01_24)"/>
<rect x="438.93" y="246.34" width="8.27" height="9.45" fill="url(#p01_22)"/>
<rect x="438.93" y="255.29" width="8.27" height="4.97" fill="url(#p01_28)"/>
<rect x="446.70" y="18.20" width="8.27" height="31.81" fill="url(#p01_4)"/>
<rect x="446.70" y="49.51" width="8.27" height="76.55" fill="url(#p01_8)"/>
<rect x="446.70" y="125.56" width="8.27" height="4.97" fill="url(#p01_16)"/>
<rect x="446.70" y="130.03" width="8.27" height="45.23" fill="url(#p01_18)"/>
<rect x="446.70" y="174.77" width="8.27" height="18.39" fill="url(#p01_20)"/>
<rect x="446.70" y="192.66" width="8.27" height="4.97" fill="url(#p01_22)"/>
<rect x="446.70" y="197.13" width="8.27" height="4.97" fill="url(#p01_28)"/>
<rect x="446.70" y="201.61" width="8.27" height="4.97" fill="url(#p01_30)"/>
<rect x="446.70" y="206.08" width="8.27" height="4.97" fill="url(#p01_24)"/>
<rect x="446.70" y="210.55" width="8.27" height="9.45" fill="url(#p01_22)"/>
<rect x="446.70" y="219.50" width="8.27" height="4.97" fill="url(#p01_26)"/>
<rect x="446.70" y="223.97" width="8.27" height="18.39" fill="url(#p01_28)"/>
<rect x="454.47" y="18.20" width="8.27" height="18.39" fill="url(#p01_4)"/>
<rect x="454.47" y="36.09" width="8.27" height="72.07" fill="url(#p01_8)"/>
<rect x="454.47" y="107.67" width="8.27" height="9.45" fill="url(#p01_12)"/>
<rect x="454.47" y="116.61" width="8.27" height="9.45" fill="url(#p01_16)"/>
<rect x="454.47" y="125.56" width="8.27" height="27.34" fill="url(#p01_18)"/>
<rect x="454.47" y="152.40" width="8.27" height="13.92" fill="url(#p01_20)"/>
<rect x="454.47" y="165.82" width="8.27" height="4.97" fill="url(#p01_18)"/>
<rect x="454.47" y="170.29" width="8.27" height="18.39" fill="url(#p01_20)"/>
<rect x="454.47" y="188.19" width="8.27" height="9.45" fill="url(#p01_22)"/>
<rect x="454.47" y="197.13" width="8.27" height="9.45" fill="url(#p01_24)"/>
<rect x="454.47" y="206.08" width="8.27" height="9.45" fill="url(#p01_28)"/>
<rect x="454.47" y="215.03" width="8.27" height="13.92" fill="url(#p01_30)"/>
<rect x="454.47" y="228.45" width="8.27" height="9.45" fill="url(#p01_32)"/>
<rect x="454.47" y="237.39" width="8.27" height="13.92" fill="url(#p01_28)"/>
<rect x="462.25" y="18.20" width="8.27" height="27.34" fill="url(#p01_4)"/>
<rect x="462.25" y="45.04" width="8.27" height="31.81" fill="url(#p01_8)"/>
<rect x="462.25" y="76.35" width="8.27" height="4.97" fill="url(#p01_10)"/>
<rect x="462.25" y="80.83" width="8.27" height="4.97" fill="url(#p01_12)"/>
<rect x="462.25" y="85.30" width="8.27" height="9.45" fill="url(#p01_14)"/>
<rect x="462.25" y="94.25" width="8.27" height="49.71" fill="url(#p01_18)"/>
<rect x="462.25" y="143.45" width="8.27" height="9.45" fill="url(#p01_20)"/>
<rect x="462.25" y="152.40" width="8.27" height="13.92" fill="url(#p01_24)"/>
<rect x="462.25" y="165.82" width="8.27" height="36.29" fill="url(#p01_28)"/>
<rect x="462.25" y="201.61" width="8.27" height="13.92" fill="url(#p01_32)"/>
<rect x="462.25" y="215.03" width="8.27" height="4.97" fill="url(#p01_34)"/>
<rect x="462.25" y="219.50" width="8.27" height="9.45" fill="url(#p01_36)"/>
<rect x="462.25" y="228.45" width="8.27" height="4.97" fill="url(#p01_34)"/>
<rect x="462.25" y="232.92" width="8.27" height="9.45" fill="url(#p01_36)"/>
<rect x="470.02" y="18.20" width="8.27" height="13.92" fill="url(#p01_0)"/>
<rect x="470.02" y="31.62" width="8.27" height="9.45" fill="url(#p01_4)"/>
<rect x="470.02" y="40.57" width="8.27" height="40.76" fill="url(#p01_8)"/>
<rect x="470.02" y="80.83" width="8.27" height="4.97" fill="url(#p01_12)"/>
<rect x="470.02" y="85.30" width="8.27" height="4.97" fill="url(#p01_14)"/>
<rect x="470.02" y="89.77" width="8.27" height="4.97" fill="url(#p01_16)"/>
<rect x="470.02" y="94.25" width="8.27" height="31.81" fill="url(#p01_18)"/>
<rect x="470.02" y="125.56" width="8.27" height="36.29" fill="url(#p01_20)"/>
<rect x="470.02" y="161.35" width="8.27" height="13.92" fill="url(#p01_24)"/>
<rect x="470.02" y="174.77" width="8.27" height="4.97" fill="url(#p01_30)"/>
<rect x="470.02" y="179.24" width="8.27" height="31.81" fill="url(#p01_28)"/>
<rect x="470.02" y="210.55" width="8.27" height="9.45" fill="url(#p01_32)"/>
<rect x="470.02" y="219.50" width="8.27" height="18.39" fill="url(#p01_30)"/>
<rect x="477.80" y="18.20" width="8.27" height="22.87" fill="url(#p01_4)"/>
<rect x="477.80" y="40.57" width="8.27" height="36.29" fill="url(#p01_8)"/>
<rect x="477.80" y="76.35" width="8.27" height="4.97" fill="url(#p01_10)"/>
<rect x="477.80" y="80.83" width="8.27" height="4.97" fill="url(#p01_12)"/>
<rect x="477.80" y="85.30" width="8.27" height="4.97" fill="url(#p01_14)"/>
<rect x="477.80" y="89.77" width="8.27" height="40.76" fill="url(#p01_18)"/>
<rect x="477.80" y="130.03" width="8.27" height="4.97" fill="url(#p01_28)"/>
<rect x="477.80" y="134.51" width="8.27" height="18.39" fill="url(#p01_20)"/>
<rect x="477.80" y="152.40" width="8.27" height="13.92" fill="url(#p01_24)"/>
<rect x="477.80" y="165.82" width="8.27" height="4.97" fill="url(#p01_28)"/>
<rect x="477.80" y="170.29" width="8.27" height="4.97" fill="url(#p01_24)"/>
<rect x="477.80" y="174.77" width="8.27" height="13.92" fill="url(#p01_28)"/>
<rect x="477.80" y="188.19" width="8.27" height="4.97" fill="url(#p01_24)"/>
<rect x="477.80" y="192.66" width="8.27" height="18.39" fill="url(#p01_28)"/>
<rect x="477.80" y="210.55" width="8.27" height="13.92" fill="url(#p01_32)"/>
<rect x="477.80" y="223.97" width="8.27" height="13.92" fill="url(#p01_36)"/>
<rect x="485.57" y="18.20" width="8.27" height="40.76" fill="url(#p01_0)"/>
<rect x="485.57" y="58.46" width="8.27" height="9.45" fill="url(#p01_4)"/>
<rect x="485.57" y="67.41" width="8.27" height="4.97" fill="url(#p01_8)"/>
<rect x="485.57" y="71.88" width="8.27" height="4.97" fill="url(#p01_16)"/>
<rect x="485.57" y="76.35" width="8.27" height="4.97" fill="url(#p01_17)"/>
<rect x="485.57" y="80.83" width="8.27" height="4.97" fill="url(#p01_11)"/>
<rect x="485.57" y="85.30" width="8.27" height="18.39" fill="url(#p01_8)"/>
<rect x="485.57" y="103.19" width="8.27" height="4.97" fill="url(#p01_16)"/>
<rect x="485.57" y="107.67" width="8.27" height="27.34" fill="url(#p01_18)"/>
<rect x="485.57" y="134.51" width="8.27" height="4.97" fill="url(#p01_20)"/>
<rect x="485.57" y="138.98" width="8.27" height="4.97" fill="url(#p01_26)"/>
<rect x="485.57" y="143.45" width="8.27" height="13.92" fill="url(#p01_28)"/>
<rect x="485.57" y="156.87" width="8.27" height="4.97" fill="url(#p01_32)"/>
<rect x="493.35" y="18.20" width="8.27" height="36.29" fill="url(#p01_0)"/>
<rect x="493.35" y="53.99" width="8.27" height="13.92" fill="url(#p01_4)"/>
<rect x="493.35" y="67.41" width="8.27" height="13.92" fill="url(#p01_6)"/>
<rect x="493.35" y="80.83" width="8.27" height="27.34" fill="url(#p01_8)"/>
<rect x="493.35" y="107.67" width="8.27" height="4.97" fill="url(#p01_12)"/>
<rect x="493.35" y="112.14" width="8.27" height="4.97" fill="url(#p01_16)"/>
<rect x="493.35" y="125.56" width="8.27" height="27.34" fill="url(#p01_18)"/>
<rect x="493.35" y="152.40" width="8.27" height="4.97" fill="url(#p01_20)"/>
<rect x="493.35" y="156.87" width="8.27" height="4.97" fill="url(#p01_22)"/>
<rect x="493.35" y="161.35" width="8.27" height="9.45" fill="url(#p01_24)"/>
<rect x="493.35" y="170.29" width="8.27" height="4.97" fill="url(#p01_20)"/>
<rect x="493.35" y="174.77" width="8.27" height="4.97" fill="url(#p01_22)"/>
<rect x="493.35" y="179.24" width="8.27" height="4.97" fill="url(#p01_26)"/>
<rect x="493.35" y="183.71" width="8.27" height="4.97" fill="url(#p01_28)"/>
<rect x="493.35" y="188.19" width="8.27" height="9.45" fill="url(#p01_24)"/>
<rect x="493.35" y="197.13" width="8.27" height="45.23" fill="url(#p01_28)"/>
<rect x="501.12" y="18.20" width="8.27" height="4.97" fill="url(#p01_0)"/>
<rect x="501.12" y="22.67" width="8.27" height="13.92" fill="url(#p01_4)"/>
<rect x="501.12" y="36.09" width="8.27" height="4.97" fill="url(#p01_6)"/>
<rect x="501.12" y="40.57" width="8.27" height="4.97" fill="url(#p01_8)"/>
<rect x="501.12" y="45.04" width="8.27" height="36.29" fill="url(#p01_10)"/>
<rect x="501.12" y="80.83" width="8.27" height="13.92" fill="url(#p01_14)"/>
<rect x="501.12" y="94.25" width="8.27" height="40.76" fill="url(#p01_18)"/>
<rect x="532.22" y="152.40" width="8.27" height="27.34" fill="url(#p01_28)"/>
<rect x="540.00" y="80.83" width="8.27" height="4.97" fill="url(#p01_0)"/>
<rect x="540.00" y="85.30" width="8.27" height="18.39" fill="url(#p01_8)"/>
<rect x="540.00" y="121.09" width="8.27" height="9.45" fill="url(#p01_18)"/>
<rect x="540.00" y="130.03" width="8.27" height="13.92" fill="url(#p01_20)"/>
<rect x="540.00" y="143.45" width="8.27" height="4.97" fill="url(#p01_26)"/>
<rect x="540.00" y="147.93" width="8.27" height="4.97" fill="url(#p01_20)"/>
<rect x="547.77" y="18.20" width="8.27" height="22.87" fill="url(#p01_0)"/>
<rect x="547.77" y="40.57" width="8.27" height="9.45" fill="url(#p01_2)"/>
<rect x="547.77" y="49.51" width="8.27" height="4.97" fill="url(#p01_4)"/>
<rect x="547.77" y="53.99" width="8.27" height="4.97" fill="url(#p01_6)"/>
<rect x="547.77" y="58.46" width="8.27" height="22.87" fill="url(#p01_8)"/>
<rect x="547.77" y="80.83" width="8.27" height="4.97" fill="url(#p01_6)"/>
<rect x="547.77" y="103.19" width="8.27" height="4.97" fill="url(#p01_8)"/>
<rect x="547.77" y="107.67" width="8.27" height="9.45" fill="url(#p01_16)"/>
<rect x="547.77" y="116.61" width="8.27" height="4.97" fill="url(#p01_18)"/>
<rect x="555.55" y="27.15" width="8.27" height="13.92" fill="url(#p01_0)"/>
<rect x="555.55" y="40.57" width="8.27" height="13.92" fill="url(#p01_4)"/>
<rect x="563.32" y="58.46" width="8.27" height="4.97" fill="url(#p01_18)"/>
<rect x="563.32" y="62.93" width="8.27" height="40.76" fill="url(#p01_20)"/>
<rect x="563.32" y="103.19" width="8.27" height="18.39" fill="url(#p01_22)"/>
<rect x="563.32" y="121.09" width="8.27" height="4.97" fill="url(#p01_18)"/>
<rect x="563.32" y="138.98" width="8.27" height="9.45" fill="url(#p01_24)"/>
<rect x="571.10" y="18.20" width="8.27" height="40.76" fill="url(#p01_18)"/>
<rect x="571.10" y="58.46" width="8.27" height="40.76" fill="url(#p01_20)"/>
<rect x="571.10" y="98.72" width="8.27" height="22.87" fill="url(#p01_22)"/>
<rect x="571.10" y="121.09" width="8.27" height="4.97" fill="url(#p01_24)"/>
<rect x="571.10" y="125.56" width="8.27" height="4.97" fill="url(#p01_26)"/>
<rect x="571.10" y="130.03" width="8.27" height="31.81" fill="url(#p01_28)"/>
<rect x="571.10" y="161.35" width="8.27" height="9.45" fill="url(#p01_24)"/>
<rect x="578.88" y="18.20" width="8.27" height="40.76" fill="url(#p01_18)"/>
<rect x="578.88" y="58.46" width="8.27" height="45.23" fill="url(#p01_20)"/>
<rect x="578.88" y="103.19" width="8.27" height="22.87" fill="url(#p01_22)"/>
<rect x="578.88" y="125.56" width="8.27" height="4.97" fill="url(#p01_24)"/>
<rect x="578.88" y="130.03" width="8.27" height="4.97" fill="url(#p01_26)"/>
<rect x="578.88" y="134.51" width="8.27" height="27.34" fill="url(#p01_28)"/>
<rect x="578.88" y="161.35" width="8.27" height="4.97" fill="url(#p01_32)"/>
<rect x="578.88" y="165.82" width="8.27" height="4.97" fill="url(#p01_28)"/>
<rect x="578.88" y="170.29" width="8.27" height="4.97" fill="url(#p01_34)"/>
<rect x="578.88" y="174.77" width="8.27" height="4.97" fill="url(#p01_28)"/>
<rect x="578.88" y="210.55" width="8.27" height="18.39" fill="url(#p01_36)"/>
<rect x="586.65" y="18.20" width="8.27" height="4.97" fill="url(#p01_16)"/>
<rect x="586.65" y="22.67" width="8.27" height="45.23" fill="url(#p01_18)"/>
<rect x="586.65" y="67.41" width="8.27" height="40.76" fill="url(#p01_20)"/>
<rect x="586.65" y="107.67" width="8.27" height="4.97" fill="url(#p01_22)"/>
<rect x="586.65" y="112.14" width="8.27" height="4.97" fill="url(#p01_24)"/>
<rect x="586.65" y="116.61" width="8.27" height="9.45" fill="url(#p01_26)"/>
<rect x="586.65" y="125.56" width="8.27" height="27.34" fill="url(#p01_24)"/>
<rect x="586.65" y="152.40" width="8.27" height="45.23" fill="url(#p01_28)"/>
<rect x="586.65" y="197.13" width="8.27" height="49.71" fill="url(#p01_32)"/>
<rect x="594.42" y="18.20" width="8.27" height="9.45" fill="url(#p01_12)"/>
<rect x="594.42" y="27.15" width="8.27" height="13.92" fill="url(#p01_16)"/>
<rect x="594.42" y="40.57" width="8.27" height="40.76" fill="url(#p01_18)"/>
<rect x="594.42" y="80.83" width="8.27" height="27.34" fill="url(#p01_20)"/>
<rect x="594.42" y="107.67" width="8.27" height="22.87" fill="url(#p01_22)"/>
<rect x="594.42" y="130.03" width="8.27" height="22.87" fill="url(#p01_24)"/>
<rect x="594.42" y="152.40" width="8.27" height="72.07" fill="url(#p01_28)"/>
<rect x="594.42" y="223.97" width="8.27" height="4.97" fill="url(#p01_32)"/>
<rect x="594.42" y="228.45" width="8.27" height="27.34" fill="url(#p01_28)"/>
<rect x="602.20" y="18.20" width="8.27" height="22.87" fill="url(#p01_10)"/>
<rect x="602.20" y="40.57" width="8.27" height="13.92" fill="url(#p01_14)"/>
<rect x="602.20" y="53.99" width="8.27" height="9.45" fill="url(#p01_16)"/>
<rect x="602.20" y="62.93" width="8.27" height="27.34" fill="url(#p01_18)"/>
<rect x="602.20" y="89.77" width="8.27" height="27.34" fill="url(#p01_20)"/>
<rect x="602.20" y="116.61" width="8.27" height="22.87" fill="url(#p01_22)"/>
<rect x="602.20" y="138.98" width="8.27" height="13.92" fill="url(#p01_24)"/>
<rect x="602.20" y="152.40" width="8.27" height="116.81" fill="url(#p01_28)"/>
<rect x="602.20" y="268.71" width="8.27" height="4.97" fill="url(#p01_26)"/>
<rect x="602.20" y="273.18" width="8.27" height="4.97" fill="url(#p01_22)"/>
<rect x="602.20" y="277.65" width="8.27" height="4.97" fill="url(#p01_20)"/>
<rect x="609.97" y="18.20" width="8.27" height="27.34" fill="url(#p01_10)"/>
<rect x="609.97" y="45.04" width="8.27" height="13.92" fill="url(#p01_12)"/>
<rect x="609.97" y="58.46" width="8.27" height="13.92" fill="url(#p01_14)"/>
<rect x="609.97" y="71.88" width="8.27" height="9.45" fill="url(#p01_16)"/>
<rect x="609.97" y="80.83" width="8.27" height="36.29" fill="url(#p01_18)"/>
<rect x="609.97" y="116.61" width="8.27" height="9.45" fill="url(#p01_20)"/>
<rect x="609.97" y="125.56" width="8.27" height="13.92" fill="url(#p01_22)"/>
<rect x="609.97" y="138.98" width="8.27" height="13.92" fill="url(#p01_24)"/>
<rect x="609.97" y="152.40" width="8.27" height="9.45" fill="url(#p01_28)"/>
<rect x="609.97" y="161.35" width="8.27" height="9.45" fill="url(#p01_24)"/>
<rect x="609.97" y="170.29" width="8.27" height="18.39" fill="url(#p01_28)"/>
<rect x="609.97" y="188.19" width="8.27" height="4.97" fill="url(#p01_24)"/>
<rect x="609.97" y="192.66" width="8.27" height="63.13" fill="url(#p01_28)"/>
<rect x="617.75" y="18.20" width="8.27" height="13.92" fill="url(#p01_6)"/>
<rect x="617.75" y="31.62" width="8.27" height="36.29" fill="url(#p01_8)"/>
<rect x="617.75" y="67.41" width="8.27" height="18.39" fill="url(#p01_10)"/>
<rect x="617.75" y="85.30" width="8.27" height="18.39" fill="url(#p01_14)"/>
<rect x="617.75" y="103.19" width="8.27" height="4.97" fill="url(#p01_16)"/>
<rect x="617.75" y="107.67" width="8.27" height="85.49" fill="url(#p01_18)"/>
<rect x="617.75" y="192.66" width="8.27" height="76.55" fill="url(#p01_20)"/>
<rect x="625.52" y="18.20" width="8.27" height="9.45" fill="url(#p01_6)"/>
<rect x="625.52" y="27.15" width="8.27" height="63.13" fill="url(#p01_8)"/>
<rect x="625.52" y="89.77" width="8.27" height="18.39" fill="url(#p01_10)"/>
<rect x="625.52" y="107.67" width="8.27" height="13.92" fill="url(#p01_12)"/>
<rect x="625.52" y="121.09" width="8.27" height="9.45" fill="url(#p01_14)"/>
<rect x="625.52" y="130.03" width="8.27" height="18.39" fill="url(#p01_16)"/>
<rect x="625.52" y="147.93" width="8.27" height="63.13" fill="url(#p01_18)"/>
<rect x="625.52" y="210.55" width="8.27" height="72.07" fill="url(#p01_20)"/>
<rect x="625.52" y="282.13" width="8.27" height="4.97" fill="url(#p01_24)"/>
<rect x="633.30" y="18.20" width="8.27" height="36.29" fill="url(#p01_4)"/>
<rect x="633.30" y="53.99" width="8.27" height="27.34" fill="url(#p01_6)"/>
<rect x="633.30" y="80.83" width="8.27" height="27.34" fill="url(#p01_8)"/>
<rect x="633.30" y="107.67" width="8.27" height="45.23" fill="url(#p01_10)"/>
<rect x="633.30" y="152.40" width="8.27" height="13.92" fill="url(#p01_14)"/>
<rect x="633.30" y="165.82" width="8.27" height="13.92" fill="url(#p01_16)"/>
<rect x="633.30" y="179.24" width="8.27" height="4.97" fill="url(#p01_12)"/>
<rect x="633.30" y="183.71" width="8.27" height="31.81" fill="url(#p01_16)"/>
<rect x="633.30" y="215.03" width="8.27" height="22.87" fill="url(#p01_18)"/>
<rect x="633.30" y="237.39" width="8.27" height="4.97" fill="url(#p01_22)"/>
<rect x="633.30" y="241.87" width="8.27" height="4.97" fill="url(#p01_28)"/>
<rect x="633.30" y="246.34" width="8.27" height="4.97" fill="url(#p01_32)"/>
<rect x="633.30" y="250.81" width="8.27" height="4.97" fill="url(#p01_28)"/>
<rect x="633.30" y="255.29" width="8.27" height="9.45" fill="url(#p01_32)"/>
<rect x="633.30" y="264.23" width="8.27" height="4.97" fill="url(#p01_24)"/>
<rect x="633.30" y="268.71" width="8.27" height="4.97" fill="url(#p01_20)"/>
<rect x="633.30" y="273.18" width="8.27" height="9.45" fill="url(#p01_28)"/>
<rect x="633.30" y="282.13" width="8.27" height="4.97" fill="url(#p01_14)"/>
<rect x="641.07" y="18.20" width="8.27" height="31.81" fill="url(#p01_0)"/>
<rect x="641.07" y="49.51" width="8.27" height="45.23" fill="url(#p01_4)"/>
<rect x="641.07" y="94.25" width="8.27" height="13.92" fill="url(#p01_6)"/>
<rect x="641.07" y="107.67" width="8.27" height="45.23" fill="url(#p01_8)"/>
<rect x="641.07" y="152.40" width="8.27" height="40.76" fill="url(#p01_10)"/>
<rect x="641.07" y="192.66" width="8.27" height="27.34" fill="url(#p01_12)"/>
<rect x="641.07" y="219.50" width="8.27" height="9.45" fill="url(#p01_16)"/>
<rect x="641.07" y="228.45" width="8.27" height="27.34" fill="url(#p01_18)"/>
<rect x="641.07" y="255.29" width="8.27" height="4.97" fill="url(#p01_20)"/>
<rect x="641.07" y="259.76" width="8.27" height="9.45" fill="url(#p01_18)"/>
<rect x="641.07" y="268.71" width="8.27" height="4.97" fill="url(#p01_24)"/>
<rect x="641.07" y="273.18" width="8.27" height="4.97" fill="url(#p01_18)"/>
<rect x="641.07" y="277.65" width="8.27" height="9.45" fill="url(#p01_10)"/>
<rect x="648.85" y="18.20" width="8.27" height="58.65" fill="url(#p01_0)"/>
<rect x="648.85" y="76.35" width="8.27" height="31.81" fill="url(#p01_4)"/>
<rect x="648.85" y="107.67" width="8.27" height="9.45" fill="url(#p01_6)"/>
<rect x="648.85" y="116.61" width="8.27" height="63.13" fill="url(#p01_8)"/>
<rect x="648.85" y="179.24" width="8.27" height="13.92" fill="url(#p01_6)"/>
<rect x="648.85" y="192.66" width="8.27" height="27.34" fill="url(#p01_10)"/>
<rect x="648.85" y="219.50" width="8.27" height="13.92" fill="url(#p01_12)"/>
<rect x="648.85" y="232.92" width="8.27" height="4.97" fill="url(#p01_16)"/>
<rect x="648.85" y="237.39" width="8.27" height="18.39" fill="url(#p01_18)"/>
<rect x="648.85" y="255.29" width="8.27" height="18.39" fill="url(#p01_16)"/>
<rect x="648.85" y="273.18" width="8.27" height="4.97" fill="url(#p01_26)"/>
<rect x="648.85" y="277.65" width="8.27" height="9.45" fill="url(#p01_28)"/>
<rect x="656.62" y="18.20" width="8.27" height="58.65" fill="url(#p01_0)"/>
<rect x="656.62" y="76.35" width="8.27" height="4.97" fill="url(#p01_2)"/>
<rect x="656.62" y="80.83" width="8.27" height="31.81" fill="url(#p01_4)"/>
<rect x="656.62" y="112.14" width="8.27" height="18.39" fill="url(#p01_6)"/>
<rect x="656.62" y="130.03" width="8.27" height="49.71" fill="url(#p01_8)"/>
<rect x="656.62" y="179.24" width="8.27" height="9.45" fill="url(#p01_6)"/>
<rect x="656.62" y="188.19" width="8.27" height="18.39" fill="url(#p01_4)"/>
<rect x="656.62" y="206.08" width="8.27" height="13.92" fill="url(#p01_6)"/>
<rect x="656.62" y="219.50" width="8.27" height="67.60" fill="url(#p01_8)"/>
<rect x="384.7" y="18.4" width="279.9" height="268.4" fill="none" stroke="#383838" stroke-width="1.15"/>
<line x1="380.8" x2="384.7" y1="286.80" y2="286.80" stroke="#383838" stroke-width="1.15"/>
<text x="377.20" y="293.20" font-size="16.2" text-anchor="end" textLength="9.3" lengthAdjust="spacingAndGlyphs" fill="#111" stroke="#111" stroke-width="0.25">0</text>
<line x1="380.8" x2="384.7" y1="242.07" y2="242.07" stroke="#383838" stroke-width="1.15"/>
<text x="377.20" y="248.47" font-size="16.2" text-anchor="end" textLength="18.2" lengthAdjust="spacingAndGlyphs" fill="#111" stroke="#111" stroke-width="0.25">10</text>
<line x1="380.8" x2="384.7" y1="197.33" y2="197.33" stroke="#383838" stroke-width="1.15"/>
<text x="377.20" y="203.73" font-size="16.2" text-anchor="end" textLength="18.2" lengthAdjust="spacingAndGlyphs" fill="#111" stroke="#111" stroke-width="0.25">20</text>
<line x1="380.8" x2="384.7" y1="152.60" y2="152.60" stroke="#383838" stroke-width="1.15"/>
<text x="377.20" y="159.00" font-size="16.2" text-anchor="end" textLength="18.2" lengthAdjust="spacingAndGlyphs" fill="#111" stroke="#111" stroke-width="0.25">30</text>
<line x1="380.8" x2="384.7" y1="107.87" y2="107.87" stroke="#383838" stroke-width="1.15"/>
<text x="377.20" y="114.27" font-size="16.2" text-anchor="end" textLength="18.2" lengthAdjust="spacingAndGlyphs" fill="#111" stroke="#111" stroke-width="0.25">40</text>
<line x1="380.8" x2="384.7" y1="63.13" y2="63.13" stroke="#383838" stroke-width="1.15"/>
<text x="377.20" y="69.53" font-size="16.2" text-anchor="end" textLength="18.2" lengthAdjust="spacingAndGlyphs" fill="#111" stroke="#111" stroke-width="0.25">50</text>
<line x1="380.8" x2="384.7" y1="18.40" y2="18.40" stroke="#383838" stroke-width="1.15"/>
<text x="377.20" y="24.80" font-size="16.2" text-anchor="end" textLength="18.2" lengthAdjust="spacingAndGlyphs" fill="#111" stroke="#111" stroke-width="0.25">60</text>
<line x1="384.70" x2="384.70" y1="286.8" y2="290.7" stroke="#383838" stroke-width="1.15"/>
<text x="365.40" y="305.50" font-size="16.2" text-anchor="start" textLength="19.0" lengthAdjust="spacingAndGlyphs" fill="#111" stroke="#111" stroke-width="0.25">90</text>
<circle cx="390.3" cy="296.1" r="1.3" fill="none" stroke="#111" stroke-width="0.8"/>
<text x="395.00" y="305.50" font-size="16.2" text-anchor="start" textLength="10.0" lengthAdjust="spacingAndGlyphs" fill="#111" stroke="#111" stroke-width="0.25">S</text>
<line x1="454.67" x2="454.67" y1="286.8" y2="290.7" stroke="#383838" stroke-width="1.15"/>
<text x="435.02" y="305.50" font-size="16.2" text-anchor="start" textLength="19.0" lengthAdjust="spacingAndGlyphs" fill="#111" stroke="#111" stroke-width="0.25">45</text>
<circle cx="459.9" cy="296.1" r="1.3" fill="none" stroke="#111" stroke-width="0.8"/>
<text x="464.62" y="305.50" font-size="16.2" text-anchor="start" textLength="10.0" lengthAdjust="spacingAndGlyphs" fill="#111" stroke="#111" stroke-width="0.25">S</text>
<line x1="524.65" x2="524.65" y1="286.8" y2="290.7" stroke="#383838" stroke-width="1.15"/>
<text x="516.05" y="305.50" font-size="16.2" text-anchor="start" textLength="9.7" lengthAdjust="spacingAndGlyphs" fill="#111" stroke="#111" stroke-width="0.25">0</text>
<circle cx="531.0" cy="296.1" r="1.3" fill="none" stroke="#111" stroke-width="0.8"/>
<line x1="594.62" x2="594.62" y1="286.8" y2="290.7" stroke="#383838" stroke-width="1.15"/>
<text x="574.27" y="305.50" font-size="16.2" text-anchor="start" textLength="19.0" lengthAdjust="spacingAndGlyphs" fill="#111" stroke="#111" stroke-width="0.25">45</text>
<circle cx="598.3" cy="296.1" r="1.3" fill="none" stroke="#111" stroke-width="0.8"/>
<text x="604.48" y="305.50" font-size="16.2" text-anchor="start" textLength="11.0" lengthAdjust="spacingAndGlyphs" fill="#111" stroke="#111" stroke-width="0.25">N</text>
<line x1="664.60" x2="664.60" y1="286.8" y2="290.7" stroke="#383838" stroke-width="1.15"/>
<text x="644.70" y="305.50" font-size="16.2" text-anchor="start" textLength="19.0" lengthAdjust="spacingAndGlyphs" fill="#111" stroke="#111" stroke-width="0.25">90</text>
<circle cx="668.7" cy="296.1" r="1.3" fill="none" stroke="#111" stroke-width="0.8"/>
<text x="674.90" y="305.50" font-size="16.2" text-anchor="start" textLength="11.0" lengthAdjust="spacingAndGlyphs" fill="#111" stroke="#111" stroke-width="0.25">N</text>
<text x="463.05" y="11.80" font-size="15.7" text-anchor="start" fill="#111" font-style="italic" stroke="#111" stroke-width="0.25">L</text>
<text x="471.35" y="14.50" font-size="11.3" text-anchor="start" fill="#111" stroke="#111" stroke-width="0.2">S</text>
<text x="485.85" y="13.20" font-size="16" text-anchor="start" textLength="11.8" lengthAdjust="spacingAndGlyphs" fill="#111" font-weight="bold" stroke="#111" stroke-width="0.5">=</text>
<text x="504.45" y="11.80" font-size="15.7" text-anchor="start" textLength="73.2" lengthAdjust="spacingAndGlyphs" fill="#111" font-weight="bold" stroke="#111" stroke-width="0.45">160-200</text>
<circle cx="584.1" cy="2.8" r="1.45" fill="none" stroke="#111" stroke-width="0.75"/>
<line x1="48.3" x2="328.5" y1="564.07" y2="564.07" stroke="#e2e2e2" stroke-width="0.8" stroke-dasharray="1.7,1.1"/>
<line x1="48.3" x2="328.5" y1="519.33" y2="519.33" stroke="#e2e2e2" stroke-width="0.8" stroke-dasharray="1.7,1.1"/>
<line x1="48.3" x2="328.5" y1="474.60" y2="474.60" stroke="#e2e2e2" stroke-width="0.8" stroke-dasharray="1.7,1.1"/>
<line x1="48.3" x2="328.5" y1="429.87" y2="429.87" stroke="#e2e2e2" stroke-width="0.8" stroke-dasharray="1.7,1.1"/>
<line x1="48.3" x2="328.5" y1="385.13" y2="385.13" stroke="#e2e2e2" stroke-width="0.8" stroke-dasharray="1.7,1.1"/>
<line x1="118.35" x2="118.35" y1="340.4" y2="608.8" stroke="#e2e2e2" stroke-width="0.8" stroke-dasharray="1.7,1.1"/>
<line x1="188.40" x2="188.40" y1="340.4" y2="608.8" stroke="#e2e2e2" stroke-width="0.8" stroke-dasharray="1.7,1.1"/>
<line x1="258.45" x2="258.45" y1="340.4" y2="608.8" stroke="#e2e2e2" stroke-width="0.8" stroke-dasharray="1.7,1.1"/>
<rect x="71.45" y="340.20" width="8.28" height="27.34" fill="url(#p10_4)"/>
<rect x="71.45" y="367.04" width="8.28" height="49.71" fill="url(#p10_2)"/>
<rect x="71.45" y="416.25" width="8.28" height="13.92" fill="url(#p10_6)"/>
<rect x="71.45" y="429.67" width="8.28" height="13.92" fill="url(#p10_8)"/>
<rect x="71.45" y="443.09" width="8.28" height="18.39" fill="url(#p10_4)"/>
<rect x="71.45" y="460.98" width="8.28" height="18.39" fill="url(#p10_8)"/>
<rect x="71.45" y="478.87" width="8.28" height="4.97" fill="url(#p10_10)"/>
<rect x="71.45" y="483.35" width="8.28" height="4.97" fill="url(#p10_12)"/>
<rect x="71.45" y="487.82" width="8.28" height="9.45" fill="url(#p10_14)"/>
<rect x="71.45" y="496.77" width="8.28" height="13.92" fill="url(#p10_18)"/>
<rect x="71.45" y="510.19" width="8.28" height="18.39" fill="url(#p10_22)"/>
<rect x="79.23" y="340.20" width="8.28" height="27.34" fill="url(#p10_4)"/>
<rect x="79.23" y="367.04" width="8.28" height="22.87" fill="url(#p10_8)"/>
<rect x="79.23" y="389.41" width="8.28" height="18.39" fill="url(#p10_10)"/>
<rect x="79.23" y="407.30" width="8.28" height="9.45" fill="url(#p10_8)"/>
<rect x="79.23" y="416.25" width="8.28" height="4.97" fill="url(#p10_12)"/>
<rect x="79.23" y="420.72" width="8.28" height="22.87" fill="url(#p10_8)"/>
<rect x="79.23" y="443.09" width="8.28" height="9.45" fill="url(#p10_12)"/>
<rect x="79.23" y="452.03" width="8.28" height="27.34" fill="url(#p10_10)"/>
<rect x="79.23" y="478.87" width="8.28" height="4.97" fill="url(#p10_12)"/>
<rect x="79.23" y="483.35" width="8.28" height="4.97" fill="url(#p10_14)"/>
<rect x="79.23" y="487.82" width="8.28" height="4.97" fill="url(#p10_16)"/>
<rect x="79.23" y="492.29" width="8.28" height="18.39" fill="url(#p10_20)"/>
<rect x="79.23" y="510.19" width="8.28" height="13.92" fill="url(#p10_22)"/>
<rect x="79.23" y="523.61" width="8.28" height="9.45" fill="url(#p10_26)"/>
<rect x="87.02" y="340.20" width="8.28" height="22.87" fill="url(#p10_0)"/>
<rect x="87.02" y="362.57" width="8.28" height="18.39" fill="url(#p10_4)"/>
<rect x="87.02" y="380.46" width="8.28" height="4.97" fill="url(#p10_6)"/>
<rect x="87.02" y="384.93" width="8.28" height="4.97" fill="url(#p10_8)"/>
<rect x="87.02" y="389.41" width="8.28" height="36.29" fill="url(#p10_10)"/>
<rect x="87.02" y="425.19" width="8.28" height="22.87" fill="url(#p10_8)"/>
<rect x="87.02" y="447.56" width="8.28" height="4.97" fill="url(#p10_12)"/>
<rect x="87.02" y="452.03" width="8.28" height="13.92" fill="url(#p10_8)"/>
<rect x="87.02" y="465.45" width="8.28" height="4.97" fill="url(#p10_16)"/>
<rect x="87.02" y="469.93" width="8.28" height="22.87" fill="url(#p10_20)"/>
<rect x="94.80" y="340.20" width="8.28" height="18.39" fill="url(#p10_4)"/>
<rect x="94.80" y="358.09" width="8.28" height="9.45" fill="url(#p10_8)"/>
<rect x="94.80" y="367.04" width="8.28" height="4.97" fill="url(#p10_4)"/>
<rect x="94.80" y="371.51" width="8.28" height="9.45" fill="url(#p10_8)"/>
<rect x="94.80" y="380.46" width="8.28" height="9.45" fill="url(#p10_6)"/>
<rect x="94.80" y="389.41" width="8.28" height="9.45" fill="url(#p10_10)"/>
<rect x="94.80" y="398.35" width="8.28" height="27.34" fill="url(#p10_6)"/>
<rect x="94.80" y="425.19" width="8.28" height="4.97" fill="url(#p10_8)"/>
<rect x="94.80" y="429.67" width="8.28" height="4.97" fill="url(#p10_11)"/>
<rect x="94.80" y="434.14" width="8.28" height="9.45" fill="url(#p10_17)"/>
<rect x="94.80" y="443.09" width="8.28" height="4.97" fill="url(#p10_11)"/>
<rect x="94.80" y="447.56" width="8.28" height="4.97" fill="url(#p10_6)"/>
<rect x="94.80" y="452.03" width="8.28" height="4.97" fill="url(#p10_2)"/>
<rect x="94.80" y="456.51" width="8.28" height="4.97" fill="url(#p10_0)"/>
<rect x="102.58" y="340.20" width="8.28" height="36.29" fill="url(#p10_4)"/>
<rect x="102.58" y="375.99" width="8.28" height="9.45" fill="url(#p10_8)"/>
<rect x="102.58" y="384.93" width="8.28" height="40.76" fill="url(#p10_4)"/>
<rect x="102.58" y="425.19" width="8.28" height="9.45" fill="url(#p10_8)"/>
<rect x="102.58" y="434.14" width="8.28" height="9.45" fill="url(#p10_6)"/>
<rect x="102.58" y="443.09" width="8.28" height="4.97" fill="url(#p10_20)"/>
<rect x="102.58" y="447.56" width="8.28" height="4.97" fill="url(#p10_8)"/>
<rect x="102.58" y="452.03" width="8.28" height="9.45" fill="url(#p10_20)"/>
<rect x="110.37" y="340.20" width="8.28" height="9.45" fill="url(#p10_4)"/>
<rect x="110.37" y="349.15" width="8.28" height="4.97" fill="url(#p10_6)"/>
<rect x="110.37" y="353.62" width="8.28" height="4.97" fill="url(#p10_8)"/>
<rect x="110.37" y="358.09" width="8.28" height="4.97" fill="url(#p10_10)"/>
<rect x="110.37" y="362.57" width="8.28" height="4.97" fill="url(#p10_8)"/>
<rect x="110.37" y="367.04" width="8.28" height="4.97" fill="url(#p10_6)"/>
<rect x="110.37" y="371.51" width="8.28" height="27.34" fill="url(#p10_4)"/>
<rect x="110.37" y="398.35" width="8.28" height="4.97" fill="url(#p10_6)"/>
<rect x="110.37" y="402.83" width="8.28" height="4.97" fill="url(#p10_8)"/>
<rect x="110.37" y="407.30" width="8.28" height="22.87" fill="url(#p10_10)"/>
<rect x="110.37" y="429.67" width="8.28" height="4.97" fill="url(#p10_8)"/>
<rect x="110.37" y="434.14" width="8.28" height="4.97" fill="url(#p10_6)"/>
<rect x="110.37" y="438.61" width="8.28" height="9.45" fill="url(#p10_4)"/>
<rect x="118.15" y="340.20" width="8.28" height="4.97" fill="url(#p10_8)"/>
<rect x="118.15" y="344.67" width="8.28" height="27.34" fill="url(#p10_4)"/>
<rect x="118.15" y="371.51" width="8.28" height="4.97" fill="url(#p10_0)"/>
<rect x="118.15" y="375.99" width="8.28" height="18.39" fill="url(#p10_4)"/>
<rect x="118.15" y="393.88" width="8.28" height="4.97" fill="url(#p10_8)"/>
<rect x="118.15" y="398.35" width="8.28" height="9.45" fill="url(#p10_4)"/>
<rect x="118.15" y="407.30" width="8.28" height="18.39" fill="url(#p10_8)"/>
<rect x="118.15" y="425.19" width="8.28" height="40.76" fill="url(#p10_6)"/>
<rect x="118.15" y="465.45" width="8.28" height="4.97" fill="url(#p10_16)"/>
<rect x="125.93" y="340.20" width="8.28" height="4.97" fill="url(#p10_4)"/>
<rect x="125.93" y="344.67" width="8.28" height="4.97" fill="url(#p10_6)"/>
<rect x="125.93" y="349.15" width="8.28" height="27.34" fill="url(#p10_4)"/>
<rect x="125.93" y="375.99" width="8.28" height="45.23" fill="url(#p10_0)"/>
<rect x="125.93" y="420.72" width="8.28" height="9.45" fill="url(#p10_4)"/>
<rect x="125.93" y="429.67" width="8.28" height="27.34" fill="url(#p10_8)"/>
<rect x="125.93" y="456.51" width="8.28" height="4.97" fill="url(#p10_14)"/>
<rect x="133.72" y="340.20" width="8.28" height="4.97" fill="url(#p10_0)"/>
<rect x="133.72" y="344.67" width="8.28" height="4.97" fill="url(#p10_2)"/>
<rect x="133.72" y="349.15" width="8.28" height="4.97" fill="url(#p10_8)"/>
<rect x="133.72" y="353.62" width="8.28" height="13.92" fill="url(#p10_10)"/>
<rect x="133.72" y="367.04" width="8.28" height="4.97" fill="url(#p10_8)"/>
<rect x="133.72" y="371.51" width="8.28" height="4.97" fill="url(#p10_6)"/>
<rect x="133.72" y="375.99" width="8.28" height="18.39" fill="url(#p10_4)"/>
<rect x="133.72" y="393.88" width="8.28" height="4.97" fill="url(#p10_6)"/>
<rect x="133.72" y="398.35" width="8.28" height="4.97" fill="url(#p10_8)"/>
<rect x="133.72" y="402.83" width="8.28" height="9.45" fill="url(#p10_10)"/>
<rect x="133.72" y="411.77" width="8.28" height="18.39" fill="url(#p10_8)"/>
<rect x="133.72" y="429.67" width="8.28" height="4.97" fill="url(#p10_0)"/>
<rect x="133.72" y="434.14" width="8.28" height="4.97" fill="url(#p10_8)"/>
<rect x="133.72" y="438.61" width="8.28" height="13.92" fill="url(#p10_20)"/>
<rect x="141.50" y="340.20" width="8.28" height="9.45" fill="url(#p10_4)"/>
<rect x="141.50" y="349.15" width="8.28" height="4.97" fill="url(#p10_0)"/>
<rect x="141.50" y="353.62" width="8.28" height="18.39" fill="url(#p10_4)"/>
<rect x="141.50" y="371.51" width="8.28" height="67.60" fill="url(#p10_0)"/>
<rect x="141.50" y="438.61" width="8.28" height="4.97" fill="url(#p10_6)"/>
<rect x="141.50" y="443.09" width="8.28" height="9.45" fill="url(#p10_8)"/>
<rect x="141.50" y="452.03" width="8.28" height="4.97" fill="url(#p10_0)"/>
<rect x="141.50" y="456.51" width="8.28" height="4.97" fill="url(#p10_8)"/>
<rect x="149.28" y="340.20" width="8.28" height="13.92" fill="url(#p10_10)"/>
<rect x="149.28" y="353.62" width="8.28" height="9.45" fill="url(#p10_8)"/>
<rect x="149.28" y="362.57" width="8.28" height="22.87" fill="url(#p10_10)"/>
<rect x="149.28" y="384.93" width="8.28" height="4.97" fill="url(#p10_8)"/>
<rect x="149.28" y="389.41" width="8.28" height="4.97" fill="url(#p10_6)"/>
<rect x="149.28" y="393.88" width="8.28" height="36.29" fill="url(#p10_4)"/>
<rect x="149.28" y="429.67" width="8.28" height="9.45" fill="url(#p10_8)"/>
<rect x="149.28" y="438.61" width="8.28" height="4.97" fill="url(#p10_14)"/>
<rect x="157.07" y="340.20" width="8.28" height="98.91" fill="url(#p10_0)"/>
<rect x="164.85" y="340.20" width="8.28" height="85.49" fill="url(#p10_0)"/>
<rect x="164.85" y="425.19" width="8.28" height="4.97" fill="url(#p10_2)"/>
<rect x="164.85" y="429.67" width="8.28" height="4.97" fill="url(#p10_6)"/>
<rect x="164.85" y="434.14" width="8.28" height="13.92" fill="url(#p10_8)"/>
<rect x="172.63" y="340.20" width="8.28" height="81.02" fill="url(#p10_0)"/>
<rect x="172.63" y="420.72" width="8.28" height="4.97" fill="url(#p10_2)"/>
<rect x="172.63" y="425.19" width="8.28" height="4.97" fill="url(#p10_4)"/>
<rect x="172.63" y="429.67" width="8.28" height="13.92" fill="url(#p10_6)"/>
<rect x="172.63" y="443.09" width="8.28" height="9.45" fill="url(#p10_8)"/>
<rect x="172.63" y="452.03" width="8.28" height="4.97" fill="url(#p10_16)"/>
<rect x="180.42" y="340.20" width="8.28" height="4.97" fill="url(#p10_4)"/>
<rect x="180.42" y="344.67" width="8.28" height="9.45" fill="url(#p10_0)"/>
<rect x="180.42" y="353.62" width="8.28" height="4.97" fill="url(#p10_2)"/>
<rect x="180.42" y="358.09" width="8.28" height="4.97" fill="url(#p10_4)"/>
<rect x="180.42" y="362.57" width="8.28" height="4.97" fill="url(#p10_6)"/>
<rect x="180.42" y="367.04" width="8.28" height="4.97" fill="url(#p10_4)"/>
<rect x="180.42" y="371.51" width="8.28" height="4.97" fill="url(#p10_2)"/>
<rect x="180.42" y="375.99" width="8.28" height="58.65" fill="url(#p10_0)"/>
<rect x="180.42" y="434.14" width="8.28" height="9.45" fill="url(#p10_4)"/>
<rect x="180.42" y="443.09" width="8.28" height="13.92" fill="url(#p10_0)"/>
<rect x="188.20" y="340.20" width="8.28" height="4.97" fill="url(#p10_6)"/>
<rect x="188.20" y="344.67" width="8.28" height="45.23" fill="url(#p10_4)"/>
<rect x="188.20" y="389.41" width="8.28" height="36.29" fill="url(#p10_0)"/>
<rect x="188.20" y="425.19" width="8.28" height="9.45" fill="url(#p10_4)"/>
<rect x="188.20" y="434.14" width="8.28" height="9.45" fill="url(#p10_6)"/>
<rect x="188.20" y="443.09" width="8.28" height="4.97" fill="url(#p10_8)"/>
<rect x="188.20" y="447.56" width="8.28" height="9.45" fill="url(#p10_0)"/>
<rect x="195.98" y="340.20" width="8.28" height="18.39" fill="url(#p10_4)"/>
<rect x="195.98" y="358.09" width="8.28" height="9.45" fill="url(#p10_0)"/>
<rect x="195.98" y="367.04" width="8.28" height="13.92" fill="url(#p10_4)"/>
<rect x="195.98" y="380.46" width="8.28" height="54.18" fill="url(#p10_0)"/>
<rect x="195.98" y="434.14" width="8.28" height="4.97" fill="url(#p10_6)"/>
<rect x="195.98" y="438.61" width="8.28" height="9.45" fill="url(#p10_8)"/>
<rect x="195.98" y="447.56" width="8.28" height="4.97" fill="url(#p10_10)"/>
<rect x="195.98" y="452.03" width="8.28" height="4.97" fill="url(#p10_16)"/>
<rect x="195.98" y="456.51" width="8.28" height="4.97" fill="url(#p10_18)"/>
<rect x="203.77" y="340.20" width="8.28" height="9.45" fill="url(#p10_8)"/>
<rect x="203.77" y="349.15" width="8.28" height="9.45" fill="url(#p10_4)"/>
<rect x="203.77" y="358.09" width="8.28" height="9.45" fill="url(#p10_0)"/>
<rect x="203.77" y="367.04" width="8.28" height="9.45" fill="url(#p10_4)"/>
<rect x="203.77" y="375.99" width="8.28" height="18.39" fill="url(#p10_8)"/>
<rect x="203.77" y="393.88" width="8.28" height="13.92" fill="url(#p10_4)"/>
<rect x="203.77" y="407.30" width="8.28" height="4.97" fill="url(#p10_8)"/>
<rect x="203.77" y="411.77" width="8.28" height="4.97" fill="url(#p10_4)"/>
<rect x="203.77" y="416.25" width="8.28" height="4.97" fill="url(#p10_6)"/>
<rect x="203.77" y="420.72" width="8.28" height="4.97" fill="url(#p10_8)"/>
<rect x="203.77" y="425.19" width="8.28" height="4.97" fill="url(#p10_10)"/>
<rect x="203.77" y="429.67" width="8.28" height="4.97" fill="url(#p10_14)"/>
<rect x="203.77" y="434.14" width="8.28" height="9.45" fill="url(#p10_8)"/>
<rect x="203.77" y="443.09" width="8.28" height="13.92" fill="url(#p10_10)"/>
<rect x="203.77" y="456.51" width="8.28" height="9.45" fill="url(#p10_12)"/>
<rect x="211.55" y="340.20" width="8.28" height="22.87" fill="url(#p10_4)"/>
<rect x="211.55" y="362.57" width="8.28" height="4.97" fill="url(#p10_8)"/>
<rect x="211.55" y="367.04" width="8.28" height="9.45" fill="url(#p10_6)"/>
<rect x="211.55" y="375.99" width="8.28" height="4.97" fill="url(#p10_8)"/>
<rect x="211.55" y="380.46" width="8.28" height="36.29" fill="url(#p10_4)"/>
<rect x="211.55" y="416.25" width="8.28" height="13.92" fill="url(#p10_8)"/>
<rect x="211.55" y="429.67" width="8.28" height="18.39" fill="url(#p10_6)"/>
<rect x="211.55" y="447.56" width="8.28" height="9.45" fill="url(#p10_8)"/>
<rect x="211.55" y="456.51" width="8.28" height="9.45" fill="url(#p10_4)"/>
<rect x="211.55" y="465.45" width="8.28" height="4.97" fill="url(#p10_8)"/>
<rect x="211.55" y="469.93" width="8.28" height="4.97" fill="url(#p10_2)"/>
<rect x="211.55" y="474.40" width="8.28" height="4.97" fill="url(#p10_4)"/>
<rect x="219.33" y="340.20" width="8.28" height="4.97" fill="url(#p10_0)"/>
<rect x="219.33" y="344.67" width="8.28" height="9.45" fill="url(#p10_4)"/>
<rect x="219.33" y="353.62" width="8.28" height="4.97" fill="url(#p10_8)"/>
<rect x="219.33" y="358.09" width="8.28" height="9.45" fill="url(#p10_4)"/>
<rect x="219.33" y="367.04" width="8.28" height="4.97" fill="url(#p10_12)"/>
<rect x="219.33" y="371.51" width="8.28" height="9.45" fill="url(#p10_8)"/>
<rect x="219.33" y="380.46" width="8.28" height="9.45" fill="url(#p10_4)"/>
<rect x="219.33" y="389.41" width="8.28" height="27.34" fill="url(#p10_0)"/>
<rect x="219.33" y="416.25" width="8.28" height="9.45" fill="url(#p10_4)"/>
<rect x="219.33" y="425.19" width="8.28" height="9.45" fill="url(#p10_8)"/>
<rect x="219.33" y="434.14" width="8.28" height="13.92" fill="url(#p10_4)"/>
<rect x="219.33" y="447.56" width="8.28" height="4.97" fill="url(#p10_0)"/>
<rect x="219.33" y="452.03" width="8.28" height="4.97" fill="url(#p10_4)"/>
<rect x="219.33" y="456.51" width="8.28" height="4.97" fill="url(#p10_7)"/>
<rect x="219.33" y="460.98" width="8.28" height="4.97" fill="url(#p10_13)"/>
<rect x="219.33" y="465.45" width="8.28" height="18.39" fill="url(#p10_16)"/>
<rect x="227.12" y="340.20" width="8.28" height="45.23" fill="url(#p10_4)"/>
<rect x="227.12" y="384.93" width="8.28" height="4.97" fill="url(#p10_6)"/>
<rect x="227.12" y="389.41" width="8.28" height="4.97" fill="url(#p10_8)"/>
<rect x="227.12" y="393.88" width="8.28" height="4.97" fill="url(#p10_10)"/>
<rect x="227.12" y="398.35" width="8.28" height="4.97" fill="url(#p10_4)"/>
<rect x="227.12" y="402.83" width="8.28" height="9.45" fill="url(#p10_10)"/>
<rect x="227.12" y="411.77" width="8.28" height="4.97" fill="url(#p10_8)"/>
<rect x="227.12" y="416.25" width="8.28" height="13.92" fill="url(#p10_6)"/>
<rect x="227.12" y="429.67" width="8.28" height="9.45" fill="url(#p10_10)"/>
<rect x="227.12" y="438.61" width="8.28" height="18.39" fill="url(#p10_8)"/>
<rect x="227.12" y="456.51" width="8.28" height="9.45" fill="url(#p10_12)"/>
<rect x="227.12" y="465.45" width="8.28" height="9.45" fill="url(#p10_8)"/>
<rect x="227.12" y="474.40" width="8.28" height="13.92" fill="url(#p10_4)"/>
<rect x="234.90" y="340.20" width="8.28" height="13.92" fill="url(#p10_8)"/>
<rect x="234.90" y="353.62" width="8.28" height="54.18" fill="url(#p10_4)"/>
<rect x="234.90" y="407.30" width="8.28" height="9.45" fill="url(#p10_8)"/>
<rect x="234.90" y="416.25" width="8.28" height="27.34" fill="url(#p10_4)"/>
<rect x="234.90" y="443.09" width="8.28" height="4.97" fill="url(#p10_8)"/>
<rect x="234.90" y="447.56" width="8.28" height="13.92" fill="url(#p10_4)"/>
<rect x="234.90" y="460.98" width="8.28" height="4.97" fill="url(#p10_6)"/>
<rect x="234.90" y="465.45" width="8.28" height="4.97" fill="url(#p10_12)"/>
<rect x="234.90" y="469.93" width="8.28" height="4.97" fill="url(#p10_14)"/>
<rect x="234.90" y="474.40" width="8.28" height="18.39" fill="url(#p10_16)"/>
<rect x="234.90" y="492.29" width="8.28" height="4.97" fill="url(#p10_20)"/>
<rect x="242.68" y="340.20" width="8.28" height="13.92" fill="url(#p10_4)"/>
<rect x="242.68" y="353.62" width="8.28" height="13.92" fill="url(#p10_0)"/>
<rect x="242.68" y="367.04" width="8.28" height="40.76" fill="url(#p10_4)"/>
<rect x="242.68" y="407.30" width="8.28" height="4.97" fill="url(#p10_6)"/>
<rect x="242.68" y="411.77" width="8.28" height="4.97" fill="url(#p10_8)"/>
<rect x="242.68" y="416.25" width="8.28" height="4.97" fill="url(#p10_10)"/>
<rect x="242.68" y="420.72" width="8.28" height="4.97" fill="url(#p10_8)"/>
<rect x="242.68" y="425.19" width="8.28" height="4.97" fill="url(#p10_6)"/>
<rect x="242.68" y="429.67" width="8.28" height="27.34" fill="url(#p10_4)"/>
<rect x="242.68" y="456.51" width="8.28" height="18.39" fill="url(#p10_8)"/>
<rect x="242.68" y="474.40" width="8.28" height="13.92" fill="url(#p10_12)"/>
<rect x="242.68" y="487.82" width="8.28" height="9.45" fill="url(#p10_14)"/>
<rect x="242.68" y="496.77" width="8.28" height="4.97" fill="url(#p10_18)"/>
<rect x="242.68" y="501.24" width="8.28" height="4.97" fill="url(#p10_16)"/>
<rect x="242.68" y="505.71" width="8.28" height="4.97" fill="url(#p10_14)"/>
<rect x="242.68" y="510.19" width="8.28" height="9.45" fill="url(#p10_12)"/>
<rect x="250.47" y="340.20" width="8.28" height="4.97" fill="url(#p10_0)"/>
<rect x="250.47" y="344.67" width="8.28" height="4.97" fill="url(#p10_2)"/>
<rect x="250.47" y="349.15" width="8.28" height="4.97" fill="url(#p10_4)"/>
<rect x="250.47" y="353.62" width="8.28" height="13.92" fill="url(#p10_6)"/>
<rect x="250.47" y="367.04" width="8.28" height="27.34" fill="url(#p10_2)"/>
<rect x="250.47" y="393.88" width="8.28" height="4.97" fill="url(#p10_4)"/>
<rect x="250.47" y="398.35" width="8.28" height="13.92" fill="url(#p10_6)"/>
<rect x="250.47" y="411.77" width="8.28" height="49.71" fill="url(#p10_4)"/>
<rect x="250.47" y="460.98" width="8.28" height="22.87" fill="url(#p10_8)"/>
<rect x="250.47" y="483.35" width="8.28" height="4.97" fill="url(#p10_10)"/>
<rect x="250.47" y="487.82" width="8.28" height="4.97" fill="url(#p10_14)"/>
<rect x="250.47" y="492.29" width="8.28" height="13.92" fill="url(#p10_16)"/>
<rect x="250.47" y="505.71" width="8.28" height="31.81" fill="url(#p10_20)"/>
<rect x="250.47" y="537.03" width="8.28" height="9.45" fill="url(#p10_22)"/>
<rect x="258.25" y="340.20" width="8.28" height="4.97" fill="url(#p10_0)"/>
<rect x="258.25" y="344.67" width="8.28" height="4.97" fill="url(#p10_4)"/>
<rect x="258.25" y="349.15" width="8.28" height="18.39" fill="url(#p10_0)"/>
<rect x="258.25" y="367.04" width="8.28" height="4.97" fill="url(#p10_2)"/>
<rect x="258.25" y="371.51" width="8.28" height="4.97" fill="url(#p10_4)"/>
<rect x="258.25" y="375.99" width="8.28" height="4.97" fill="url(#p10_6)"/>
<rect x="258.25" y="380.46" width="8.28" height="4.97" fill="url(#p10_0)"/>
<rect x="258.25" y="384.93" width="8.28" height="4.97" fill="url(#p10_4)"/>
<rect x="258.25" y="389.41" width="8.28" height="22.87" fill="url(#p10_2)"/>
<rect x="258.25" y="411.77" width="8.28" height="36.29" fill="url(#p10_4)"/>
<rect x="258.25" y="447.56" width="8.28" height="4.97" fill="url(#p10_0)"/>
<rect x="258.25" y="452.03" width="8.28" height="9.45" fill="url(#p10_4)"/>
<rect x="258.25" y="460.98" width="8.28" height="27.34" fill="url(#p10_8)"/>
<rect x="258.25" y="487.82" width="8.28" height="9.45" fill="url(#p10_12)"/>
<rect x="258.25" y="496.77" width="8.28" height="9.45" fill="url(#p10_16)"/>
<rect x="258.25" y="505.71" width="8.28" height="4.97" fill="url(#p10_14)"/>
<rect x="258.25" y="510.19" width="8.28" height="4.97" fill="url(#p10_16)"/>
<rect x="258.25" y="514.66" width="8.28" height="4.97" fill="url(#p10_18)"/>
<rect x="258.25" y="519.13" width="8.28" height="13.92" fill="url(#p10_20)"/>
<rect x="258.25" y="532.55" width="8.28" height="18.39" fill="url(#p10_22)"/>
<rect x="258.25" y="550.45" width="8.28" height="4.97" fill="url(#p10_24)"/>
<rect x="266.03" y="340.20" width="8.28" height="58.65" fill="url(#p10_0)"/>
<rect x="266.03" y="398.35" width="8.28" height="4.97" fill="url(#p10_4)"/>
<rect x="266.03" y="402.83" width="8.28" height="4.97" fill="url(#p10_0)"/>
<rect x="266.03" y="407.30" width="8.28" height="67.60" fill="url(#p10_4)"/>
<rect x="266.03" y="474.40" width="8.28" height="27.34" fill="url(#p10_8)"/>
<rect x="266.03" y="501.24" width="8.28" height="4.97" fill="url(#p10_10)"/>
<rect x="266.03" y="505.71" width="8.28" height="4.97" fill="url(#p10_14)"/>
<rect x="266.03" y="510.19" width="8.28" height="4.97" fill="url(#p10_16)"/>
<rect x="266.03" y="514.66" width="8.28" height="45.23" fill="url(#p10_20)"/>
<rect x="266.03" y="559.39" width="8.28" height="4.97" fill="url(#p10_22)"/>
<rect x="266.03" y="563.87" width="8.28" height="13.92" fill="url(#p10_30)"/>
<rect x="273.82" y="340.20" width="8.28" height="27.34" fill="url(#p10_0)"/>
<rect x="273.82" y="367.04" width="8.28" height="4.97" fill="url(#p10_4)"/>
<rect x="273.82" y="371.51" width="8.28" height="22.87" fill="url(#p10_0)"/>
<rect x="273.82" y="393.88" width="8.28" height="89.97" fill="url(#p10_4)"/>
<rect x="273.82" y="483.35" width="8.28" height="27.34" fill="url(#p10_8)"/>
<rect x="273.82" y="510.19" width="8.28" height="9.45" fill="url(#p10_12)"/>
<rect x="273.82" y="519.13" width="8.28" height="9.45" fill="url(#p10_16)"/>
<rect x="273.82" y="528.08" width="8.28" height="13.92" fill="url(#p10_18)"/>
<rect x="273.82" y="541.50" width="8.28" height="4.97" fill="url(#p10_20)"/>
<rect x="273.82" y="545.97" width="8.28" height="4.97" fill="url(#p10_22)"/>
<rect x="273.82" y="550.45" width="8.28" height="4.97" fill="url(#p10_24)"/>
<rect x="273.82" y="554.92" width="8.28" height="4.97" fill="url(#p10_26)"/>
<rect x="273.82" y="559.39" width="8.28" height="9.45" fill="url(#p10_30)"/>
<rect x="273.82" y="568.34" width="8.28" height="4.97" fill="url(#p10_32)"/>
<rect x="281.60" y="340.20" width="8.28" height="40.76" fill="url(#p10_0)"/>
<rect x="281.60" y="380.46" width="8.28" height="107.86" fill="url(#p10_4)"/>
<rect x="281.60" y="487.82" width="8.28" height="18.39" fill="url(#p10_8)"/>
<rect x="281.60" y="505.71" width="8.28" height="4.97" fill="url(#p10_12)"/>
<rect x="281.60" y="510.19" width="8.28" height="4.97" fill="url(#p10_14)"/>
<rect x="281.60" y="514.66" width="8.28" height="4.97" fill="url(#p10_18)"/>
<rect x="281.60" y="519.13" width="8.28" height="18.39" fill="url(#p10_20)"/>
<rect x="281.60" y="537.03" width="8.28" height="4.97" fill="url(#p10_24)"/>
<rect x="281.60" y="541.50" width="8.28" height="9.45" fill="url(#p10_28)"/>
<rect x="289.38" y="340.20" width="8.28" height="134.70" fill="url(#p10_0)"/>
<rect x="289.38" y="474.40" width="8.28" height="22.87" fill="url(#p10_4)"/>
<rect x="289.38" y="496.77" width="8.28" height="9.45" fill="url(#p10_8)"/>
<rect x="289.38" y="505.71" width="8.28" height="9.45" fill="url(#p10_12)"/>
<rect x="289.38" y="514.66" width="8.28" height="9.45" fill="url(#p10_16)"/>
<rect x="289.38" y="523.61" width="8.28" height="13.92" fill="url(#p10_20)"/>
<rect x="48.3" y="340.4" width="280.2" height="268.4" fill="none" stroke="#383838" stroke-width="1.15"/>
<line x1="44.4" x2="48.3" y1="608.80" y2="608.80" stroke="#383838" stroke-width="1.15"/>
<text x="40.80" y="615.20" font-size="16.2" text-anchor="end" textLength="9.3" lengthAdjust="spacingAndGlyphs" fill="#111" stroke="#111" stroke-width="0.25">0</text>
<line x1="44.4" x2="48.3" y1="564.07" y2="564.07" stroke="#383838" stroke-width="1.15"/>
<text x="40.80" y="570.47" font-size="16.2" text-anchor="end" textLength="18.2" lengthAdjust="spacingAndGlyphs" fill="#111" stroke="#111" stroke-width="0.25">10</text>
<line x1="44.4" x2="48.3" y1="519.33" y2="519.33" stroke="#383838" stroke-width="1.15"/>
<text x="40.80" y="525.73" font-size="16.2" text-anchor="end" textLength="18.2" lengthAdjust="spacingAndGlyphs" fill="#111" stroke="#111" stroke-width="0.25">20</text>
<line x1="44.4" x2="48.3" y1="474.60" y2="474.60" stroke="#383838" stroke-width="1.15"/>
<text x="40.80" y="481.00" font-size="16.2" text-anchor="end" textLength="18.2" lengthAdjust="spacingAndGlyphs" fill="#111" stroke="#111" stroke-width="0.25">30</text>
<line x1="44.4" x2="48.3" y1="429.87" y2="429.87" stroke="#383838" stroke-width="1.15"/>
<text x="40.80" y="436.27" font-size="16.2" text-anchor="end" textLength="18.2" lengthAdjust="spacingAndGlyphs" fill="#111" stroke="#111" stroke-width="0.25">40</text>
<line x1="44.4" x2="48.3" y1="385.13" y2="385.13" stroke="#383838" stroke-width="1.15"/>
<text x="40.80" y="391.53" font-size="16.2" text-anchor="end" textLength="18.2" lengthAdjust="spacingAndGlyphs" fill="#111" stroke="#111" stroke-width="0.25">50</text>
<line x1="44.4" x2="48.3" y1="340.40" y2="340.40" stroke="#383838" stroke-width="1.15"/>
<text x="40.80" y="346.80" font-size="16.2" text-anchor="end" textLength="18.2" lengthAdjust="spacingAndGlyphs" fill="#111" stroke="#111" stroke-width="0.25">60</text>
<line x1="48.30" x2="48.30" y1="608.8" y2="612.7" stroke="#383838" stroke-width="1.15"/>
<text x="29.00" y="627.50" font-size="16.2" text-anchor="start" textLength="19.0" lengthAdjust="spacingAndGlyphs" fill="#111" stroke="#111" stroke-width="0.25">90</text>
<circle cx="53.9" cy="618.1" r="1.3" fill="none" stroke="#111" stroke-width="0.8"/>
<text x="58.60" y="627.50" font-size="16.2" text-anchor="start" textLength="10.0" lengthAdjust="spacingAndGlyphs" fill="#111" stroke="#111" stroke-width="0.25">S</text>
<line x1="118.35" x2="118.35" y1="608.8" y2="612.7" stroke="#383838" stroke-width="1.15"/>
<text x="98.70" y="627.50" font-size="16.2" text-anchor="start" textLength="19.0" lengthAdjust="spacingAndGlyphs" fill="#111" stroke="#111" stroke-width="0.25">45</text>
<circle cx="123.6" cy="618.1" r="1.3" fill="none" stroke="#111" stroke-width="0.8"/>
<text x="128.30" y="627.50" font-size="16.2" text-anchor="start" textLength="10.0" lengthAdjust="spacingAndGlyphs" fill="#111" stroke="#111" stroke-width="0.25">S</text>
<line x1="188.40" x2="188.40" y1="608.8" y2="612.7" stroke="#383838" stroke-width="1.15"/>
<text x="179.80" y="627.50" font-size="16.2" text-anchor="start" textLength="9.7" lengthAdjust="spacingAndGlyphs" fill="#111" stroke="#111" stroke-width="0.25">0</text>
<circle cx="194.7" cy="618.1" r="1.3" fill="none" stroke="#111" stroke-width="0.8"/>
<line x1="258.45" x2="258.45" y1="608.8" y2="612.7" stroke="#383838" stroke-width="1.15"/>
<text x="238.10" y="627.50" font-size="16.2" text-anchor="start" textLength="19.0" lengthAdjust="spacingAndGlyphs" fill="#111" stroke="#111" stroke-width="0.25">45</text>
<circle cx="262.1" cy="618.1" r="1.3" fill="none" stroke="#111" stroke-width="0.8"/>
<text x="268.30" y="627.50" font-size="16.2" text-anchor="start" textLength="11.0" lengthAdjust="spacingAndGlyphs" fill="#111" stroke="#111" stroke-width="0.25">N</text>
<line x1="328.50" x2="328.50" y1="608.8" y2="612.7" stroke="#383838" stroke-width="1.15"/>
<text x="308.60" y="627.50" font-size="16.2" text-anchor="start" textLength="19.0" lengthAdjust="spacingAndGlyphs" fill="#111" stroke="#111" stroke-width="0.25">90</text>
<circle cx="332.6" cy="618.1" r="1.3" fill="none" stroke="#111" stroke-width="0.8"/>
<text x="338.80" y="627.50" font-size="16.2" text-anchor="start" textLength="11.0" lengthAdjust="spacingAndGlyphs" fill="#111" stroke="#111" stroke-width="0.25">N</text>
<text x="126.80" y="333.80" font-size="15.7" text-anchor="start" fill="#111" font-style="italic" stroke="#111" stroke-width="0.25">L</text>
<text x="135.10" y="336.50" font-size="11.3" text-anchor="start" fill="#111" stroke="#111" stroke-width="0.2">S</text>
<text x="149.60" y="335.20" font-size="16" text-anchor="start" textLength="11.8" lengthAdjust="spacingAndGlyphs" fill="#111" font-weight="bold" stroke="#111" stroke-width="0.5">=</text>
<text x="168.20" y="333.80" font-size="15.7" text-anchor="start" textLength="73.2" lengthAdjust="spacingAndGlyphs" fill="#111" font-weight="bold" stroke="#111" stroke-width="0.45">200-240</text>
<circle cx="247.9" cy="324.8" r="1.45" fill="none" stroke="#111" stroke-width="0.75"/>
<text transform="translate(14.4,475.1) rotate(-90)" text-anchor="middle" font-size="18.3" textLength="116.6" lengthAdjust="spacingAndGlyphs" fill="#111" stroke="#111" stroke-width="0.25">Altitude / km</text>
<line x1="384.7" x2="664.6" y1="564.07" y2="564.07" stroke="#e2e2e2" stroke-width="0.8" stroke-dasharray="1.7,1.1"/>
<line x1="384.7" x2="664.6" y1="519.33" y2="519.33" stroke="#e2e2e2" stroke-width="0.8" stroke-dasharray="1.7,1.1"/>
<line x1="384.7" x2="664.6" y1="474.60" y2="474.60" stroke="#e2e2e2" stroke-width="0.8" stroke-dasharray="1.7,1.1"/>
<line x1="384.7" x2="664.6" y1="429.87" y2="429.87" stroke="#e2e2e2" stroke-width="0.8" stroke-dasharray="1.7,1.1"/>
<line x1="384.7" x2="664.6" y1="385.13" y2="385.13" stroke="#e2e2e2" stroke-width="0.8" stroke-dasharray="1.7,1.1"/>
<line x1="454.67" x2="454.67" y1="340.4" y2="608.8" stroke="#e2e2e2" stroke-width="0.8" stroke-dasharray="1.7,1.1"/>
<line x1="524.65" x2="524.65" y1="340.4" y2="608.8" stroke="#e2e2e2" stroke-width="0.8" stroke-dasharray="1.7,1.1"/>
<line x1="594.62" x2="594.62" y1="340.4" y2="608.8" stroke="#e2e2e2" stroke-width="0.8" stroke-dasharray="1.7,1.1"/>
<rect x="407.82" y="340.20" width="8.27" height="22.87" fill="url(#p11_8)"/>
<rect x="407.82" y="362.57" width="8.27" height="18.39" fill="url(#p11_12)"/>
<rect x="407.82" y="380.46" width="8.27" height="9.45" fill="url(#p11_14)"/>
<rect x="407.82" y="389.41" width="8.27" height="13.92" fill="url(#p11_16)"/>
<rect x="407.82" y="402.83" width="8.27" height="27.34" fill="url(#p11_18)"/>
<rect x="407.82" y="429.67" width="8.27" height="45.23" fill="url(#p11_20)"/>
<rect x="407.82" y="474.40" width="8.27" height="18.39" fill="url(#p11_22)"/>
<rect x="407.82" y="492.29" width="8.27" height="22.87" fill="url(#p11_24)"/>
<rect x="407.82" y="514.66" width="8.27" height="54.18" fill="url(#p11_28)"/>
<rect x="407.82" y="568.34" width="8.27" height="4.97" fill="url(#p11_32)"/>
<rect x="415.60" y="340.20" width="8.27" height="22.87" fill="url(#p11_8)"/>
<rect x="415.60" y="362.57" width="8.27" height="18.39" fill="url(#p11_12)"/>
<rect x="415.60" y="380.46" width="8.27" height="18.39" fill="url(#p11_14)"/>
<rect x="415.60" y="398.35" width="8.27" height="9.45" fill="url(#p11_16)"/>
<rect x="415.60" y="407.30" width="8.27" height="22.87" fill="url(#p11_18)"/>
<rect x="415.60" y="429.67" width="8.27" height="40.76" fill="url(#p11_20)"/>
<rect x="415.60" y="469.93" width="8.27" height="4.97" fill="url(#p11_24)"/>
<rect x="415.60" y="474.40" width="8.27" height="22.87" fill="url(#p11_22)"/>
<rect x="415.60" y="496.77" width="8.27" height="18.39" fill="url(#p11_24)"/>
<rect x="415.60" y="514.66" width="8.27" height="49.71" fill="url(#p11_28)"/>
<rect x="423.38" y="340.20" width="8.27" height="18.39" fill="url(#p11_12)"/>
<rect x="423.38" y="358.09" width="8.27" height="18.39" fill="url(#p11_14)"/>
<rect x="423.38" y="375.99" width="8.27" height="18.39" fill="url(#p11_16)"/>
<rect x="423.38" y="393.88" width="8.27" height="31.81" fill="url(#p11_18)"/>
<rect x="423.38" y="425.19" width="8.27" height="45.23" fill="url(#p11_20)"/>
<rect x="423.38" y="469.93" width="8.27" height="4.97" fill="url(#p11_22)"/>
<rect x="423.38" y="474.40" width="8.27" height="4.97" fill="url(#p11_24)"/>
<rect x="423.38" y="478.87" width="8.27" height="9.45" fill="url(#p11_26)"/>
<rect x="423.38" y="487.82" width="8.27" height="9.45" fill="url(#p11_28)"/>
<rect x="423.38" y="496.77" width="8.27" height="4.97" fill="url(#p11_24)"/>
<rect x="423.38" y="501.24" width="8.27" height="4.97" fill="url(#p11_30)"/>
<rect x="423.38" y="505.71" width="8.27" height="4.97" fill="url(#p11_24)"/>
<rect x="423.38" y="510.19" width="8.27" height="13.92" fill="url(#p11_28)"/>
<rect x="423.38" y="523.61" width="8.27" height="4.97" fill="url(#p11_24)"/>
<rect x="423.38" y="528.08" width="8.27" height="4.97" fill="url(#p11_28)"/>
<rect x="431.15" y="340.20" width="8.27" height="22.87" fill="url(#p11_12)"/>
<rect x="431.15" y="362.57" width="8.27" height="36.29" fill="url(#p11_16)"/>
<rect x="431.15" y="398.35" width="8.27" height="9.45" fill="url(#p11_18)"/>
<rect x="431.15" y="407.30" width="8.27" height="45.23" fill="url(#p11_20)"/>
<rect x="431.15" y="452.03" width="8.27" height="18.39" fill="url(#p11_22)"/>
<rect x="431.15" y="469.93" width="8.27" height="4.97" fill="url(#p11_28)"/>
<rect x="431.15" y="474.40" width="8.27" height="4.97" fill="url(#p11_24)"/>
<rect x="431.15" y="478.87" width="8.27" height="13.92" fill="url(#p11_28)"/>
<rect x="431.15" y="492.29" width="8.27" height="9.45" fill="url(#p11_24)"/>
<rect x="431.15" y="501.24" width="8.27" height="4.97" fill="url(#p11_28)"/>
<rect x="438.93" y="340.20" width="8.27" height="18.39" fill="url(#p11_14)"/>
<rect x="438.93" y="358.09" width="8.27" height="27.34" fill="url(#p11_16)"/>
<rect x="438.93" y="384.93" width="8.27" height="22.87" fill="url(#p11_20)"/>
<rect x="438.93" y="407.30" width="8.27" height="13.92" fill="url(#p11_22)"/>
<rect x="438.93" y="420.72" width="8.27" height="9.45" fill="url(#p11_24)"/>
<rect x="438.93" y="429.67" width="8.27" height="40.76" fill="url(#p11_26)"/>
<rect x="438.93" y="469.93" width="8.27" height="4.97" fill="url(#p11_30)"/>
<rect x="438.93" y="474.40" width="8.27" height="4.97" fill="url(#p11_24)"/>
<rect x="438.93" y="478.87" width="8.27" height="4.97" fill="url(#p11_28)"/>
<rect x="438.93" y="483.35" width="8.27" height="4.97" fill="url(#p11_24)"/>
<rect x="446.70" y="340.20" width="8.27" height="4.97" fill="url(#p11_8)"/>
<rect x="446.70" y="344.67" width="8.27" height="18.39" fill="url(#p11_12)"/>
<rect x="446.70" y="362.57" width="8.27" height="13.92" fill="url(#p11_14)"/>
<rect x="446.70" y="375.99" width="8.27" height="31.81" fill="url(#p11_16)"/>
<rect x="446.70" y="407.30" width="8.27" height="18.39" fill="url(#p11_18)"/>
<rect x="446.70" y="425.19" width="8.27" height="27.34" fill="url(#p11_20)"/>
<rect x="446.70" y="452.03" width="8.27" height="9.45" fill="url(#p11_22)"/>
<rect x="446.70" y="460.98" width="8.27" height="4.97" fill="url(#p11_24)"/>
<rect x="446.70" y="465.45" width="8.27" height="9.45" fill="url(#p11_30)"/>
<rect x="446.70" y="474.40" width="8.27" height="4.97" fill="url(#p11_28)"/>
<rect x="454.47" y="340.20" width="8.27" height="4.97" fill="url(#p11_8)"/>
<rect x="454.47" y="344.67" width="8.27" height="13.92" fill="url(#p11_12)"/>
<rect x="454.47" y="358.09" width="8.27" height="4.97" fill="url(#p11_16)"/>
<rect x="454.47" y="362.57" width="8.27" height="18.39" fill="url(#p11_14)"/>
<rect x="454.47" y="380.46" width="8.27" height="27.34" fill="url(#p11_16)"/>
<rect x="454.47" y="407.30" width="8.27" height="4.97" fill="url(#p11_18)"/>
<rect x="454.47" y="411.77" width="8.27" height="13.92" fill="url(#p11_16)"/>
<rect x="454.47" y="425.19" width="8.27" height="31.81" fill="url(#p11_18)"/>
<rect x="454.47" y="456.51" width="8.27" height="4.97" fill="url(#p11_24)"/>
<rect x="454.47" y="460.98" width="8.27" height="9.45" fill="url(#p11_20)"/>
<rect x="454.47" y="469.93" width="8.27" height="4.97" fill="url(#p11_28)"/>
<rect x="462.25" y="340.20" width="8.27" height="13.92" fill="url(#p11_12)"/>
<rect x="462.25" y="353.62" width="8.27" height="9.45" fill="url(#p11_14)"/>
<rect x="462.25" y="362.57" width="8.27" height="13.92" fill="url(#p11_16)"/>
<rect x="462.25" y="375.99" width="8.27" height="31.81" fill="url(#p11_18)"/>
<rect x="462.25" y="407.30" width="8.27" height="9.45" fill="url(#p11_20)"/>
<rect x="462.25" y="416.25" width="8.27" height="9.45" fill="url(#p11_16)"/>
<rect x="462.25" y="425.19" width="8.27" height="13.92" fill="url(#p11_20)"/>
<rect x="462.25" y="438.61" width="8.27" height="4.97" fill="url(#p11_26)"/>
<rect x="462.25" y="443.09" width="8.27" height="4.97" fill="url(#p11_22)"/>
<rect x="462.25" y="447.56" width="8.27" height="4.97" fill="url(#p11_26)"/>
<rect x="462.25" y="452.03" width="8.27" height="9.45" fill="url(#p11_20)"/>
<rect x="462.25" y="460.98" width="8.27" height="4.97" fill="url(#p11_24)"/>
<rect x="462.25" y="465.45" width="8.27" height="9.45" fill="url(#p11_18)"/>
<rect x="470.02" y="340.20" width="8.27" height="9.45" fill="url(#p11_12)"/>
<rect x="470.02" y="349.15" width="8.27" height="13.92" fill="url(#p11_14)"/>
<rect x="470.02" y="362.57" width="8.27" height="18.39" fill="url(#p11_16)"/>
<rect x="470.02" y="380.46" width="8.27" height="27.34" fill="url(#p11_18)"/>
<rect x="470.02" y="407.30" width="8.27" height="9.45" fill="url(#p11_20)"/>
<rect x="470.02" y="416.25" width="8.27" height="4.97" fill="url(#p11_16)"/>
<rect x="470.02" y="420.72" width="8.27" height="22.87" fill="url(#p11_20)"/>
<rect x="470.02" y="443.09" width="8.27" height="9.45" fill="url(#p11_22)"/>
<rect x="470.02" y="452.03" width="8.27" height="9.45" fill="url(#p11_26)"/>
<rect x="470.02" y="460.98" width="8.27" height="4.97" fill="url(#p11_30)"/>
<rect x="470.02" y="465.45" width="8.27" height="9.45" fill="url(#p11_32)"/>
<rect x="477.80" y="340.20" width="8.27" height="22.87" fill="url(#p11_12)"/>
<rect x="477.80" y="362.57" width="8.27" height="18.39" fill="url(#p11_16)"/>
<rect x="477.80" y="380.46" width="8.27" height="27.34" fill="url(#p11_18)"/>
<rect x="477.80" y="407.30" width="8.27" height="18.39" fill="url(#p11_20)"/>
<rect x="477.80" y="425.19" width="8.27" height="4.97" fill="url(#p11_24)"/>
<rect x="477.80" y="429.67" width="8.27" height="13.92" fill="url(#p11_20)"/>
<rect x="477.80" y="443.09" width="8.27" height="9.45" fill="url(#p11_22)"/>
<rect x="477.80" y="452.03" width="8.27" height="4.97" fill="url(#p11_26)"/>
<rect x="477.80" y="456.51" width="8.27" height="4.97" fill="url(#p11_24)"/>
<rect x="477.80" y="460.98" width="8.27" height="4.97" fill="url(#p11_22)"/>
<rect x="477.80" y="465.45" width="8.27" height="4.97" fill="url(#p11_20)"/>
<rect x="477.80" y="469.93" width="8.27" height="4.97" fill="url(#p11_26)"/>
<rect x="477.80" y="474.40" width="8.27" height="4.97" fill="url(#p11_18)"/>
<rect x="477.80" y="478.87" width="8.27" height="4.97" fill="url(#p11_28)"/>
<rect x="485.57" y="340.20" width="8.27" height="18.39" fill="url(#p11_12)"/>
<rect x="485.57" y="358.09" width="8.27" height="4.97" fill="url(#p11_14)"/>
<rect x="485.57" y="362.57" width="8.27" height="18.39" fill="url(#p11_16)"/>
<rect x="485.57" y="380.46" width="8.27" height="31.81" fill="url(#p11_18)"/>
<rect x="485.57" y="411.77" width="8.27" height="31.81" fill="url(#p11_20)"/>
<rect x="485.57" y="443.09" width="8.27" height="9.45" fill="url(#p11_22)"/>
<rect x="485.57" y="452.03" width="8.27" height="4.97" fill="url(#p11_28)"/>
<rect x="485.57" y="456.51" width="8.27" height="4.97" fill="url(#p11_24)"/>
<rect x="485.57" y="460.98" width="8.27" height="4.97" fill="url(#p11_28)"/>
<rect x="485.57" y="465.45" width="8.27" height="9.45" fill="url(#p11_24)"/>
<rect x="493.35" y="340.20" width="8.27" height="4.97" fill="url(#p11_10)"/>
<rect x="493.35" y="344.67" width="8.27" height="13.92" fill="url(#p11_12)"/>
<rect x="493.35" y="358.09" width="8.27" height="4.97" fill="url(#p11_14)"/>
<rect x="493.35" y="362.57" width="8.27" height="4.97" fill="url(#p11_16)"/>
<rect x="493.35" y="367.04" width="8.27" height="4.97" fill="url(#p11_18)"/>
<rect x="493.35" y="371.51" width="8.27" height="9.45" fill="url(#p11_16)"/>
<rect x="493.35" y="380.46" width="8.27" height="27.34" fill="url(#p11_18)"/>
<rect x="493.35" y="407.30" width="8.27" height="27.34" fill="url(#p11_20)"/>
<rect x="493.35" y="434.14" width="8.27" height="13.92" fill="url(#p11_24)"/>
<rect x="493.35" y="447.56" width="8.27" height="4.97" fill="url(#p11_30)"/>
<rect x="493.35" y="452.03" width="8.27" height="18.39" fill="url(#p11_28)"/>
<rect x="493.35" y="469.93" width="8.27" height="4.97" fill="url(#p11_24)"/>
<rect x="501.12" y="340.20" width="8.27" height="4.97" fill="url(#p11_10)"/>
<rect x="501.12" y="344.67" width="8.27" height="18.39" fill="url(#p11_12)"/>
<rect x="501.12" y="362.57" width="8.27" height="9.45" fill="url(#p11_14)"/>
<rect x="501.12" y="371.51" width="8.27" height="36.29" fill="url(#p11_16)"/>
<rect x="501.12" y="407.30" width="8.27" height="9.45" fill="url(#p11_18)"/>
<rect x="501.12" y="416.25" width="8.27" height="31.81" fill="url(#p11_20)"/>
<rect x="501.12" y="447.56" width="8.27" height="4.97" fill="url(#p11_22)"/>
<rect x="501.12" y="452.03" width="8.27" height="4.97" fill="url(#p11_24)"/>
<rect x="501.12" y="456.51" width="8.27" height="4.97" fill="url(#p11_26)"/>
<rect x="501.12" y="460.98" width="8.27" height="13.92" fill="url(#p11_24)"/>
<rect x="501.12" y="474.40" width="8.27" height="4.97" fill="url(#p11_28)"/>
<rect x="508.90" y="340.20" width="8.27" height="27.34" fill="url(#p11_12)"/>
<rect x="508.90" y="367.04" width="8.27" height="4.97" fill="url(#p11_14)"/>
<rect x="508.90" y="371.51" width="8.27" height="36.29" fill="url(#p11_16)"/>
<rect x="508.90" y="407.30" width="8.27" height="36.29" fill="url(#p11_20)"/>
<rect x="508.90" y="443.09" width="8.27" height="13.92" fill="url(#p11_22)"/>
<rect x="508.90" y="456.51" width="8.27" height="9.45" fill="url(#p11_24)"/>
<rect x="508.90" y="465.45" width="8.27" height="9.45" fill="url(#p11_20)"/>
<rect x="508.90" y="474.40" width="8.27" height="4.97" fill="url(#p11_24)"/>
<rect x="516.67" y="340.20" width="8.27" height="9.45" fill="url(#p11_10)"/>
<rect x="516.67" y="349.15" width="8.27" height="22.87" fill="url(#p11_12)"/>
<rect x="516.67" y="371.51" width="8.27" height="9.45" fill="url(#p11_14)"/>
<rect x="516.67" y="380.46" width="8.27" height="27.34" fill="url(#p11_16)"/>
<rect x="516.67" y="407.30" width="8.27" height="31.81" fill="url(#p11_20)"/>
<rect x="516.67" y="438.61" width="8.27" height="4.97" fill="url(#p11_26)"/>
<rect x="516.67" y="443.09" width="8.27" height="9.45" fill="url(#p11_22)"/>
<rect x="516.67" y="452.03" width="8.27" height="18.39" fill="url(#p11_24)"/>
<rect x="516.67" y="469.93" width="8.27" height="9.45" fill="url(#p11_28)"/>
<rect x="516.67" y="478.87" width="8.27" height="4.97" fill="url(#p11_32)"/>
<rect x="524.45" y="340.20" width="8.27" height="9.45" fill="url(#p11_10)"/>
<rect x="524.45" y="349.15" width="8.27" height="13.92" fill="url(#p11_12)"/>
<rect x="524.45" y="362.57" width="8.27" height="13.92" fill="url(#p11_16)"/>
<rect x="524.45" y="375.99" width="8.27" height="31.81" fill="url(#p11_18)"/>
<rect x="524.45" y="407.30" width="8.27" height="31.81" fill="url(#p11_20)"/>
<rect x="524.45" y="438.61" width="8.27" height="13.92" fill="url(#p11_24)"/>
<rect x="524.45" y="452.03" width="8.27" height="18.39" fill="url(#p11_28)"/>
<rect x="524.45" y="469.93" width="8.27" height="9.45" fill="url(#p11_32)"/>
<rect x="532.22" y="340.20" width="8.27" height="4.97" fill="url(#p11_10)"/>
<rect x="532.22" y="344.67" width="8.27" height="4.97" fill="url(#p11_12)"/>
<rect x="532.22" y="349.15" width="8.27" height="9.45" fill="url(#p11_10)"/>
<rect x="532.22" y="358.09" width="8.27" height="22.87" fill="url(#p11_14)"/>
<rect x="532.22" y="380.46" width="8.27" height="27.34" fill="url(#p11_18)"/>
<rect x="532.22" y="407.30" width="8.27" height="22.87" fill="url(#p11_20)"/>
<rect x="532.22" y="429.67" width="8.27" height="4.97" fill="url(#p11_24)"/>
<rect x="532.22" y="434.14" width="8.27" height="18.39" fill="url(#p11_20)"/>
<rect x="532.22" y="452.03" width="8.27" height="9.45" fill="url(#p11_24)"/>
<rect x="532.22" y="460.98" width="8.27" height="13.92" fill="url(#p11_28)"/>
<rect x="532.22" y="474.40" width="8.27" height="4.97" fill="url(#p11_26)"/>
<rect x="532.22" y="478.87" width="8.27" height="4.97" fill="url(#p11_24)"/>
<rect x="532.22" y="483.35" width="8.27" height="9.45" fill="url(#p11_22)"/>
<rect x="540.00" y="340.20" width="8.27" height="18.39" fill="url(#p11_10)"/>
<rect x="540.00" y="358.09" width="8.27" height="4.97" fill="url(#p11_12)"/>
<rect x="540.00" y="362.57" width="8.27" height="18.39" fill="url(#p11_14)"/>
<rect x="540.00" y="380.46" width="8.27" height="27.34" fill="url(#p11_18)"/>
<rect x="540.00" y="407.30" width="8.27" height="22.87" fill="url(#p11_20)"/>
<rect x="540.00" y="429.67" width="8.27" height="9.45" fill="url(#p11_24)"/>
<rect x="540.00" y="438.61" width="8.27" height="4.97" fill="url(#p11_20)"/>
<rect x="540.00" y="443.09" width="8.27" height="13.92" fill="url(#p11_24)"/>
<rect x="540.00" y="456.51" width="8.27" height="4.97" fill="url(#p11_30)"/>
<rect x="540.00" y="460.98" width="8.27" height="13.92" fill="url(#p11_22)"/>
<rect x="540.00" y="474.40" width="8.27" height="4.97" fill="url(#p11_24)"/>
<rect x="540.00" y="478.87" width="8.27" height="13.92" fill="url(#p11_28)"/>
<rect x="540.00" y="492.29" width="8.27" height="9.45" fill="url(#p11_24)"/>
<rect x="547.77" y="340.20" width="8.27" height="22.87" fill="url(#p11_10)"/>
<rect x="547.77" y="362.57" width="8.27" height="18.39" fill="url(#p11_14)"/>
<rect x="547.77" y="380.46" width="8.27" height="22.87" fill="url(#p11_18)"/>
<rect x="547.77" y="402.83" width="8.27" height="49.71" fill="url(#p11_20)"/>
<rect x="547.77" y="452.03" width="8.27" height="9.45" fill="url(#p11_24)"/>
<rect x="547.77" y="460.98" width="8.27" height="36.29" fill="url(#p11_28)"/>
<rect x="547.77" y="496.77" width="8.27" height="9.45" fill="url(#p11_32)"/>
<rect x="555.55" y="340.20" width="8.27" height="18.39" fill="url(#p11_10)"/>
<rect x="555.55" y="358.09" width="8.27" height="13.92" fill="url(#p11_12)"/>
<rect x="555.55" y="371.51" width="8.27" height="9.45" fill="url(#p11_16)"/>
<rect x="555.55" y="380.46" width="8.27" height="27.34" fill="url(#p11_18)"/>
<rect x="555.55" y="407.30" width="8.27" height="22.87" fill="url(#p11_20)"/>
<rect x="555.55" y="429.67" width="8.27" height="13.92" fill="url(#p11_24)"/>
<rect x="555.55" y="443.09" width="8.27" height="9.45" fill="url(#p11_20)"/>
<rect x="555.55" y="452.03" width="8.27" height="9.45" fill="url(#p11_24)"/>
<rect x="555.55" y="460.98" width="8.27" height="9.45" fill="url(#p11_26)"/>
<rect x="555.55" y="469.93" width="8.27" height="22.87" fill="url(#p11_28)"/>
<rect x="555.55" y="492.29" width="8.27" height="9.45" fill="url(#p11_32)"/>
<rect x="563.32" y="340.20" width="8.27" height="13.92" fill="url(#p11_10)"/>
<rect x="563.32" y="353.62" width="8.27" height="9.45" fill="url(#p11_12)"/>
<rect x="563.32" y="362.57" width="8.27" height="9.45" fill="url(#p11_16)"/>
<rect x="563.32" y="371.51" width="8.27" height="31.81" fill="url(#p11_18)"/>
<rect x="563.32" y="402.83" width="8.27" height="45.23" fill="url(#p11_20)"/>
<rect x="563.32" y="447.56" width="8.27" height="9.45" fill="url(#p11_24)"/>
<rect x="563.32" y="456.51" width="8.27" height="4.97" fill="url(#p11_20)"/>
<rect x="563.32" y="460.98" width="8.27" height="9.45" fill="url(#p11_24)"/>
<rect x="563.32" y="469.93" width="8.27" height="22.87" fill="url(#p11_28)"/>
<rect x="563.32" y="492.29" width="8.27" height="9.45" fill="url(#p11_32)"/>
<rect x="563.32" y="501.24" width="8.27" height="9.45" fill="url(#p11_28)"/>
<rect x="571.10" y="340.20" width="8.27" height="13.92" fill="url(#p11_10)"/>
<rect x="571.10" y="353.62" width="8.27" height="4.97" fill="url(#p11_12)"/>
<rect x="571.10" y="358.09" width="8.27" height="4.97" fill="url(#p11_14)"/>
<rect x="571.10" y="362.57" width="8.27" height="9.45" fill="url(#p11_16)"/>
<rect x="571.10" y="371.51" width="8.27" height="31.81" fill="url(#p11_18)"/>
<rect x="571.10" y="402.83" width="8.27" height="45.23" fill="url(#p11_20)"/>
<rect x="571.10" y="447.56" width="8.27" height="22.87" fill="url(#p11_24)"/>
<rect x="571.10" y="469.93" width="8.27" height="36.29" fill="url(#p11_28)"/>
<rect x="571.10" y="505.71" width="8.27" height="9.45" fill="url(#p11_32)"/>
<rect x="571.10" y="528.08" width="8.27" height="18.39" fill="url(#p11_28)"/>
<rect x="578.88" y="340.20" width="8.27" height="9.45" fill="url(#p11_6)"/>
<rect x="578.88" y="349.15" width="8.27" height="31.81" fill="url(#p11_10)"/>
<rect x="578.88" y="380.46" width="8.27" height="4.97" fill="url(#p11_12)"/>
<rect x="578.88" y="384.93" width="8.27" height="22.87" fill="url(#p11_18)"/>
<rect x="578.88" y="407.30" width="8.27" height="40.76" fill="url(#p11_20)"/>
<rect x="578.88" y="447.56" width="8.27" height="27.34" fill="url(#p11_24)"/>
<rect x="578.88" y="474.40" width="8.27" height="13.92" fill="url(#p11_26)"/>
<rect x="578.88" y="487.82" width="8.27" height="31.81" fill="url(#p11_28)"/>
<rect x="578.88" y="519.13" width="8.27" height="9.45" fill="url(#p11_32)"/>
<rect x="578.88" y="528.08" width="8.27" height="4.97" fill="url(#p11_34)"/>
<rect x="578.88" y="532.55" width="8.27" height="4.97" fill="url(#p11_36)"/>
<rect x="586.65" y="340.20" width="8.27" height="22.87" fill="url(#p11_10)"/>
<rect x="586.65" y="362.57" width="8.27" height="4.97" fill="url(#p11_12)"/>
<rect x="586.65" y="367.04" width="8.27" height="13.92" fill="url(#p11_10)"/>
<rect x="586.65" y="380.46" width="8.27" height="4.97" fill="url(#p11_16)"/>
<rect x="586.65" y="384.93" width="8.27" height="45.23" fill="url(#p11_18)"/>
<rect x="586.65" y="429.67" width="8.27" height="22.87" fill="url(#p11_20)"/>
<rect x="586.65" y="452.03" width="8.27" height="40.76" fill="url(#p11_24)"/>
<rect x="586.65" y="492.29" width="8.27" height="36.29" fill="url(#p11_28)"/>
<rect x="586.65" y="528.08" width="8.27" height="9.45" fill="url(#p11_32)"/>
<rect x="586.65" y="537.03" width="8.27" height="18.39" fill="url(#p11_28)"/>
<rect x="586.65" y="554.92" width="8.27" height="13.92" fill="url(#p11_32)"/>
<rect x="586.65" y="568.34" width="8.27" height="4.97" fill="url(#p11_36)"/>
<rect x="586.65" y="572.81" width="8.27" height="4.97" fill="url(#p11_34)"/>
<rect x="586.65" y="577.29" width="8.27" height="13.92" fill="url(#p11_36)"/>
<rect x="594.42" y="340.20" width="8.27" height="9.45" fill="url(#p11_8)"/>
<rect x="594.42" y="349.15" width="8.27" height="31.81" fill="url(#p11_10)"/>
<rect x="594.42" y="380.46" width="8.27" height="9.45" fill="url(#p11_12)"/>
<rect x="594.42" y="389.41" width="8.27" height="4.97" fill="url(#p11_16)"/>
<rect x="594.42" y="393.88" width="8.27" height="54.18" fill="url(#p11_18)"/>
<rect x="594.42" y="447.56" width="8.27" height="18.39" fill="url(#p11_20)"/>
<rect x="594.42" y="465.45" width="8.27" height="31.81" fill="url(#p11_24)"/>
<rect x="594.42" y="496.77" width="8.27" height="54.18" fill="url(#p11_28)"/>
<rect x="594.42" y="550.45" width="8.27" height="4.97" fill="url(#p11_32)"/>
<rect x="594.42" y="554.92" width="8.27" height="4.97" fill="url(#p11_28)"/>
<rect x="594.42" y="559.39" width="8.27" height="27.34" fill="url(#p11_32)"/>
<rect x="594.42" y="586.23" width="8.27" height="13.92" fill="url(#p11_36)"/>
<rect x="594.42" y="599.65" width="8.27" height="9.45" fill="url(#p11_32)"/>
<rect x="602.20" y="340.20" width="8.27" height="45.23" fill="url(#p11_8)"/>
<rect x="602.20" y="384.93" width="8.27" height="13.92" fill="url(#p11_12)"/>
<rect x="602.20" y="398.35" width="8.27" height="9.45" fill="url(#p11_16)"/>
<rect x="602.20" y="407.30" width="8.27" height="49.71" fill="url(#p11_18)"/>
<rect x="602.20" y="456.51" width="8.27" height="18.39" fill="url(#p11_20)"/>
<rect x="602.20" y="474.40" width="8.27" height="40.76" fill="url(#p11_24)"/>
<rect x="602.20" y="514.66" width="8.27" height="27.34" fill="url(#p11_28)"/>
<rect x="602.20" y="541.50" width="8.27" height="9.45" fill="url(#p11_32)"/>
<rect x="602.20" y="550.45" width="8.27" height="13.92" fill="url(#p11_28)"/>
<rect x="602.20" y="563.87" width="8.27" height="31.81" fill="url(#p11_30)"/>
<rect x="602.20" y="595.18" width="8.27" height="13.92" fill="url(#p11_26)"/>
<rect x="609.97" y="340.20" width="8.27" height="49.71" fill="url(#p11_8)"/>
<rect x="609.97" y="389.41" width="8.27" height="13.92" fill="url(#p11_12)"/>
<rect x="609.97" y="402.83" width="8.27" height="4.97" fill="url(#p11_16)"/>
<rect x="609.97" y="407.30" width="8.27" height="58.65" fill="url(#p11_18)"/>
<rect x="609.97" y="465.45" width="8.27" height="18.39" fill="url(#p11_20)"/>
<rect x="609.97" y="483.35" width="8.27" height="36.29" fill="url(#p11_24)"/>
<rect x="609.97" y="519.13" width="8.27" height="13.92" fill="url(#p11_28)"/>
<rect x="609.97" y="532.55" width="8.27" height="4.97" fill="url(#p11_24)"/>
<rect x="609.97" y="537.03" width="8.27" height="58.65" fill="url(#p11_28)"/>
<rect x="617.75" y="340.20" width="8.27" height="31.81" fill="url(#p11_6)"/>
<rect x="617.75" y="371.51" width="8.27" height="36.29" fill="url(#p11_8)"/>
<rect x="617.75" y="407.30" width="8.27" height="18.39" fill="url(#p11_12)"/>
<rect x="617.75" y="425.19" width="8.27" height="13.92" fill="url(#p11_16)"/>
<rect x="617.75" y="438.61" width="8.27" height="36.29" fill="url(#p11_18)"/>
<rect x="617.75" y="474.40" width="8.27" height="45.23" fill="url(#p11_20)"/>
<rect x="617.75" y="519.13" width="8.27" height="13.92" fill="url(#p11_24)"/>
<rect x="617.75" y="532.55" width="8.27" height="22.87" fill="url(#p11_22)"/>
<rect x="617.75" y="554.92" width="8.27" height="4.97" fill="url(#p11_24)"/>
<rect x="617.75" y="559.39" width="8.27" height="22.87" fill="url(#p11_20)"/>
<rect x="625.52" y="340.20" width="8.27" height="13.92" fill="url(#p11_4)"/>
<rect x="625.52" y="353.62" width="8.27" height="36.29" fill="url(#p11_6)"/>
<rect x="625.52" y="389.41" width="8.27" height="36.29" fill="url(#p11_8)"/>
<rect x="625.52" y="425.19" width="8.27" height="9.45" fill="url(#p11_12)"/>
<rect x="625.52" y="434.14" width="8.27" height="18.39" fill="url(#p11_14)"/>
<rect x="625.52" y="452.03" width="8.27" height="22.87" fill="url(#p11_16)"/>
<rect x="625.52" y="474.40" width="8.27" height="18.39" fill="url(#p11_18)"/>
<rect x="625.52" y="492.29" width="8.27" height="49.71" fill="url(#p11_20)"/>
<rect x="625.52" y="541.50" width="8.27" height="4.97" fill="url(#p11_24)"/>
<rect x="625.52" y="545.97" width="8.27" height="27.34" fill="url(#p11_20)"/>
<rect x="384.7" y="340.4" width="279.9" height="268.4" fill="none" stroke="#383838" stroke-width="1.15"/>
<line x1="380.8" x2="384.7" y1="608.80" y2="608.80" stroke="#383838" stroke-width="1.15"/>
<text x="377.20" y="615.20" font-size="16.2" text-anchor="end" textLength="9.3" lengthAdjust="spacingAndGlyphs" fill="#111" stroke="#111" stroke-width="0.25">0</text>
<line x1="380.8" x2="384.7" y1="564.07" y2="564.07" stroke="#383838" stroke-width="1.15"/>
<text x="377.20" y="570.47" font-size="16.2" text-anchor="end" textLength="18.2" lengthAdjust="spacingAndGlyphs" fill="#111" stroke="#111" stroke-width="0.25">10</text>
<line x1="380.8" x2="384.7" y1="519.33" y2="519.33" stroke="#383838" stroke-width="1.15"/>
<text x="377.20" y="525.73" font-size="16.2" text-anchor="end" textLength="18.2" lengthAdjust="spacingAndGlyphs" fill="#111" stroke="#111" stroke-width="0.25">20</text>
<line x1="380.8" x2="384.7" y1="474.60" y2="474.60" stroke="#383838" stroke-width="1.15"/>
<text x="377.20" y="481.00" font-size="16.2" text-anchor="end" textLength="18.2" lengthAdjust="spacingAndGlyphs" fill="#111" stroke="#111" stroke-width="0.25">30</text>
<line x1="380.8" x2="384.7" y1="429.87" y2="429.87" stroke="#383838" stroke-width="1.15"/>
<text x="377.20" y="436.27" font-size="16.2" text-anchor="end" textLength="18.2" lengthAdjust="spacingAndGlyphs" fill="#111" stroke="#111" stroke-width="0.25">40</text>
<line x1="380.8" x2="384.7" y1="385.13" y2="385.13" stroke="#383838" stroke-width="1.15"/>
<text x="377.20" y="391.53" font-size="16.2" text-anchor="end" textLength="18.2" lengthAdjust="spacingAndGlyphs" fill="#111" stroke="#111" stroke-width="0.25">50</text>
<line x1="380.8" x2="384.7" y1="340.40" y2="340.40" stroke="#383838" stroke-width="1.15"/>
<text x="377.20" y="346.80" font-size="16.2" text-anchor="end" textLength="18.2" lengthAdjust="spacingAndGlyphs" fill="#111" stroke="#111" stroke-width="0.25">60</text>
<line x1="384.70" x2="384.70" y1="608.8" y2="612.7" stroke="#383838" stroke-width="1.15"/>
<text x="365.40" y="627.50" font-size="16.2" text-anchor="start" textLength="19.0" lengthAdjust="spacingAndGlyphs" fill="#111" stroke="#111" stroke-width="0.25">90</text>
<circle cx="390.3" cy="618.1" r="1.3" fill="none" stroke="#111" stroke-width="0.8"/>
<text x="395.00" y="627.50" font-size="16.2" text-anchor="start" textLength="10.0" lengthAdjust="spacingAndGlyphs" fill="#111" stroke="#111" stroke-width="0.25">S</text>
<line x1="454.67" x2="454.67" y1="608.8" y2="612.7" stroke="#383838" stroke-width="1.15"/>
<text x="435.02" y="627.50" font-size="16.2" text-anchor="start" textLength="19.0" lengthAdjust="spacingAndGlyphs" fill="#111" stroke="#111" stroke-width="0.25">45</text>
<circle cx="459.9" cy="618.1" r="1.3" fill="none" stroke="#111" stroke-width="0.8"/>
<text x="464.62" y="627.50" font-size="16.2" text-anchor="start" textLength="10.0" lengthAdjust="spacingAndGlyphs" fill="#111" stroke="#111" stroke-width="0.25">S</text>
<line x1="524.65" x2="524.65" y1="608.8" y2="612.7" stroke="#383838" stroke-width="1.15"/>
<text x="516.05" y="627.50" font-size="16.2" text-anchor="start" textLength="9.7" lengthAdjust="spacingAndGlyphs" fill="#111" stroke="#111" stroke-width="0.25">0</text>
<circle cx="531.0" cy="618.1" r="1.3" fill="none" stroke="#111" stroke-width="0.8"/>
<line x1="594.62" x2="594.62" y1="608.8" y2="612.7" stroke="#383838" stroke-width="1.15"/>
<text x="574.27" y="627.50" font-size="16.2" text-anchor="start" textLength="19.0" lengthAdjust="spacingAndGlyphs" fill="#111" stroke="#111" stroke-width="0.25">45</text>
<circle cx="598.3" cy="618.1" r="1.3" fill="none" stroke="#111" stroke-width="0.8"/>
<text x="604.48" y="627.50" font-size="16.2" text-anchor="start" textLength="11.0" lengthAdjust="spacingAndGlyphs" fill="#111" stroke="#111" stroke-width="0.25">N</text>
<line x1="664.60" x2="664.60" y1="608.8" y2="612.7" stroke="#383838" stroke-width="1.15"/>
<text x="644.70" y="627.50" font-size="16.2" text-anchor="start" textLength="19.0" lengthAdjust="spacingAndGlyphs" fill="#111" stroke="#111" stroke-width="0.25">90</text>
<circle cx="668.7" cy="618.1" r="1.3" fill="none" stroke="#111" stroke-width="0.8"/>
<text x="674.90" y="627.50" font-size="16.2" text-anchor="start" textLength="11.0" lengthAdjust="spacingAndGlyphs" fill="#111" stroke="#111" stroke-width="0.25">N</text>
<text x="463.05" y="333.80" font-size="15.7" text-anchor="start" fill="#111" font-style="italic" stroke="#111" stroke-width="0.25">L</text>
<text x="471.35" y="336.50" font-size="11.3" text-anchor="start" fill="#111" stroke="#111" stroke-width="0.2">S</text>
<text x="485.85" y="335.20" font-size="16" text-anchor="start" textLength="11.8" lengthAdjust="spacingAndGlyphs" fill="#111" font-weight="bold" stroke="#111" stroke-width="0.5">=</text>
<text x="504.45" y="333.80" font-size="15.7" text-anchor="start" textLength="73.2" lengthAdjust="spacingAndGlyphs" fill="#111" font-weight="bold" stroke="#111" stroke-width="0.45">200-240</text>
<circle cx="584.1" cy="324.8" r="1.45" fill="none" stroke="#111" stroke-width="0.75"/>
<line x1="48.3" x2="328.5" y1="886.07" y2="886.07" stroke="#e2e2e2" stroke-width="0.8" stroke-dasharray="1.7,1.1"/>
<line x1="48.3" x2="328.5" y1="841.33" y2="841.33" stroke="#e2e2e2" stroke-width="0.8" stroke-dasharray="1.7,1.1"/>
<line x1="48.3" x2="328.5" y1="796.60" y2="796.60" stroke="#e2e2e2" stroke-width="0.8" stroke-dasharray="1.7,1.1"/>
<line x1="48.3" x2="328.5" y1="751.87" y2="751.87" stroke="#e2e2e2" stroke-width="0.8" stroke-dasharray="1.7,1.1"/>
<line x1="48.3" x2="328.5" y1="707.13" y2="707.13" stroke="#e2e2e2" stroke-width="0.8" stroke-dasharray="1.7,1.1"/>
<line x1="118.35" x2="118.35" y1="662.4" y2="930.8" stroke="#e2e2e2" stroke-width="0.8" stroke-dasharray="1.7,1.1"/>
<line x1="188.40" x2="188.40" y1="662.4" y2="930.8" stroke="#e2e2e2" stroke-width="0.8" stroke-dasharray="1.7,1.1"/>
<line x1="258.45" x2="258.45" y1="662.4" y2="930.8" stroke="#e2e2e2" stroke-width="0.8" stroke-dasharray="1.7,1.1"/>
<rect x="79.23" y="662.20" width="8.28" height="76.55" fill="url(#p20_0)"/>
<rect x="79.23" y="738.25" width="8.28" height="9.45" fill="url(#p20_4)"/>
<rect x="79.23" y="747.19" width="8.28" height="36.29" fill="url(#p20_0)"/>
<rect x="79.23" y="782.98" width="8.28" height="13.92" fill="url(#p20_4)"/>
<rect x="79.23" y="796.40" width="8.28" height="9.45" fill="url(#p20_8)"/>
<rect x="79.23" y="805.35" width="8.28" height="4.97" fill="url(#p20_16)"/>
<rect x="79.23" y="809.82" width="8.28" height="18.39" fill="url(#p20_20)"/>
<rect x="79.23" y="827.71" width="8.28" height="13.92" fill="url(#p20_22)"/>
<rect x="87.02" y="662.20" width="8.28" height="121.28" fill="url(#p20_4)"/>
<rect x="87.02" y="782.98" width="8.28" height="22.87" fill="url(#p20_8)"/>
<rect x="87.02" y="805.35" width="8.28" height="4.97" fill="url(#p20_12)"/>
<rect x="87.02" y="809.82" width="8.28" height="9.45" fill="url(#p20_16)"/>
<rect x="87.02" y="818.77" width="8.28" height="27.34" fill="url(#p20_20)"/>
<rect x="87.02" y="845.61" width="8.28" height="9.45" fill="url(#p20_18)"/>
<rect x="94.80" y="662.20" width="8.28" height="13.92" fill="url(#p20_4)"/>
<rect x="94.80" y="675.62" width="8.28" height="13.92" fill="url(#p20_8)"/>
<rect x="94.80" y="689.04" width="8.28" height="67.60" fill="url(#p20_4)"/>
<rect x="94.80" y="756.14" width="8.28" height="9.45" fill="url(#p20_8)"/>
<rect x="94.80" y="765.09" width="8.28" height="9.45" fill="url(#p20_4)"/>
<rect x="94.80" y="774.03" width="8.28" height="9.45" fill="url(#p20_8)"/>
<rect x="94.80" y="782.98" width="8.28" height="4.97" fill="url(#p20_6)"/>
<rect x="94.80" y="787.45" width="8.28" height="31.81" fill="url(#p20_8)"/>
<rect x="94.80" y="818.77" width="8.28" height="4.97" fill="url(#p20_16)"/>
<rect x="94.80" y="823.24" width="8.28" height="27.34" fill="url(#p20_20)"/>
<rect x="94.80" y="850.08" width="8.28" height="4.97" fill="url(#p20_18)"/>
<rect x="94.80" y="854.55" width="8.28" height="4.97" fill="url(#p20_16)"/>
<rect x="102.58" y="662.20" width="8.28" height="27.34" fill="url(#p20_8)"/>
<rect x="102.58" y="689.04" width="8.28" height="9.45" fill="url(#p20_6)"/>
<rect x="102.58" y="697.99" width="8.28" height="4.97" fill="url(#p20_10)"/>
<rect x="102.58" y="702.46" width="8.28" height="54.18" fill="url(#p20_8)"/>
<rect x="102.58" y="756.14" width="8.28" height="9.45" fill="url(#p20_10)"/>
<rect x="102.58" y="765.09" width="8.28" height="45.23" fill="url(#p20_8)"/>
<rect x="102.58" y="809.82" width="8.28" height="4.97" fill="url(#p20_10)"/>
<rect x="102.58" y="814.29" width="8.28" height="4.97" fill="url(#p20_14)"/>
<rect x="102.58" y="818.77" width="8.28" height="4.97" fill="url(#p20_16)"/>
<rect x="102.58" y="823.24" width="8.28" height="27.34" fill="url(#p20_20)"/>
<rect x="102.58" y="850.08" width="8.28" height="18.39" fill="url(#p20_22)"/>
<rect x="110.37" y="662.20" width="8.28" height="9.45" fill="url(#p20_4)"/>
<rect x="110.37" y="671.15" width="8.28" height="4.97" fill="url(#p20_0)"/>
<rect x="110.37" y="675.62" width="8.28" height="13.92" fill="url(#p20_6)"/>
<rect x="110.37" y="689.04" width="8.28" height="18.39" fill="url(#p20_8)"/>
<rect x="110.37" y="706.93" width="8.28" height="4.97" fill="url(#p20_4)"/>
<rect x="110.37" y="711.41" width="8.28" height="36.29" fill="url(#p20_8)"/>
<rect x="110.37" y="747.19" width="8.28" height="22.87" fill="url(#p20_6)"/>
<rect x="110.37" y="769.56" width="8.28" height="9.45" fill="url(#p20_10)"/>
<rect x="110.37" y="778.51" width="8.28" height="27.34" fill="url(#p20_8)"/>
<rect x="110.37" y="805.35" width="8.28" height="4.97" fill="url(#p20_10)"/>
<rect x="110.37" y="809.82" width="8.28" height="4.97" fill="url(#p20_12)"/>
<rect x="110.37" y="814.29" width="8.28" height="4.97" fill="url(#p20_14)"/>
<rect x="110.37" y="818.77" width="8.28" height="9.45" fill="url(#p20_16)"/>
<rect x="110.37" y="827.71" width="8.28" height="13.92" fill="url(#p20_20)"/>
<rect x="110.37" y="841.13" width="8.28" height="9.45" fill="url(#p20_22)"/>
<rect x="110.37" y="850.08" width="8.28" height="9.45" fill="url(#p20_18)"/>
<rect x="118.15" y="662.20" width="8.28" height="45.23" fill="url(#p20_4)"/>
<rect x="118.15" y="706.93" width="8.28" height="4.97" fill="url(#p20_0)"/>
<rect x="118.15" y="711.41" width="8.28" height="4.97" fill="url(#p20_4)"/>
<rect x="118.15" y="715.88" width="8.28" height="4.97" fill="url(#p20_0)"/>
<rect x="118.15" y="720.35" width="8.28" height="22.87" fill="url(#p20_4)"/>
<rect x="118.15" y="742.72" width="8.28" height="4.97" fill="url(#p20_0)"/>
<rect x="118.15" y="747.19" width="8.28" height="4.97" fill="url(#p20_4)"/>
<rect x="118.15" y="751.67" width="8.28" height="4.97" fill="url(#p20_8)"/>
<rect x="118.15" y="756.14" width="8.28" height="18.39" fill="url(#p20_4)"/>
<rect x="118.15" y="774.03" width="8.28" height="9.45" fill="url(#p20_8)"/>
<rect x="118.15" y="782.98" width="8.28" height="4.97" fill="url(#p20_6)"/>
<rect x="118.15" y="787.45" width="8.28" height="18.39" fill="url(#p20_8)"/>
<rect x="118.15" y="805.35" width="8.28" height="4.97" fill="url(#p20_10)"/>
<rect x="118.15" y="809.82" width="8.28" height="4.97" fill="url(#p20_14)"/>
<rect x="118.15" y="814.29" width="8.28" height="4.97" fill="url(#p20_16)"/>
<rect x="118.15" y="818.77" width="8.28" height="18.39" fill="url(#p20_20)"/>
<rect x="118.15" y="836.66" width="8.28" height="9.45" fill="url(#p20_16)"/>
<rect x="125.93" y="662.20" width="8.28" height="9.45" fill="url(#p20_8)"/>
<rect x="125.93" y="671.15" width="8.28" height="18.39" fill="url(#p20_4)"/>
<rect x="125.93" y="689.04" width="8.28" height="9.45" fill="url(#p20_8)"/>
<rect x="125.93" y="697.99" width="8.28" height="9.45" fill="url(#p20_4)"/>
<rect x="125.93" y="706.93" width="8.28" height="4.97" fill="url(#p20_6)"/>
<rect x="125.93" y="711.41" width="8.28" height="4.97" fill="url(#p20_8)"/>
<rect x="125.93" y="715.88" width="8.28" height="9.45" fill="url(#p20_10)"/>
<rect x="125.93" y="724.83" width="8.28" height="13.92" fill="url(#p20_8)"/>
<rect x="125.93" y="738.25" width="8.28" height="49.71" fill="url(#p20_4)"/>
<rect x="125.93" y="787.45" width="8.28" height="18.39" fill="url(#p20_8)"/>
<rect x="125.93" y="805.35" width="8.28" height="4.97" fill="url(#p20_10)"/>
<rect x="125.93" y="809.82" width="8.28" height="4.97" fill="url(#p20_14)"/>
<rect x="125.93" y="814.29" width="8.28" height="4.97" fill="url(#p20_16)"/>
<rect x="125.93" y="818.77" width="8.28" height="18.39" fill="url(#p20_20)"/>
<rect x="133.72" y="662.20" width="8.28" height="9.45" fill="url(#p20_8)"/>
<rect x="133.72" y="671.15" width="8.28" height="40.76" fill="url(#p20_4)"/>
<rect x="133.72" y="711.41" width="8.28" height="4.97" fill="url(#p20_8)"/>
<rect x="133.72" y="715.88" width="8.28" height="72.07" fill="url(#p20_4)"/>
<rect x="133.72" y="787.45" width="8.28" height="9.45" fill="url(#p20_8)"/>
<rect x="133.72" y="796.40" width="8.28" height="4.97" fill="url(#p20_16)"/>
<rect x="133.72" y="800.87" width="8.28" height="9.45" fill="url(#p20_20)"/>
<rect x="133.72" y="809.82" width="8.28" height="4.97" fill="url(#p20_10)"/>
<rect x="133.72" y="814.29" width="8.28" height="9.45" fill="url(#p20_0)"/>
<rect x="133.72" y="823.24" width="8.28" height="4.97" fill="url(#p20_20)"/>
<rect x="133.72" y="827.71" width="8.28" height="4.97" fill="url(#p20_12)"/>
<rect x="141.50" y="662.20" width="8.28" height="4.97" fill="url(#p20_6)"/>
<rect x="141.50" y="666.67" width="8.28" height="13.92" fill="url(#p20_10)"/>
<rect x="141.50" y="680.09" width="8.28" height="72.07" fill="url(#p20_6)"/>
<rect x="141.50" y="751.67" width="8.28" height="9.45" fill="url(#p20_10)"/>
<rect x="141.50" y="760.61" width="8.28" height="36.29" fill="url(#p20_8)"/>
<rect x="141.50" y="796.40" width="8.28" height="4.97" fill="url(#p20_18)"/>
<rect x="141.50" y="800.87" width="8.28" height="4.97" fill="url(#p20_12)"/>
<rect x="141.50" y="805.35" width="8.28" height="13.92" fill="url(#p20_20)"/>
<rect x="149.28" y="662.20" width="8.28" height="63.13" fill="url(#p20_4)"/>
<rect x="149.28" y="724.83" width="8.28" height="4.97" fill="url(#p20_6)"/>
<rect x="149.28" y="729.30" width="8.28" height="31.81" fill="url(#p20_4)"/>
<rect x="149.28" y="760.61" width="8.28" height="4.97" fill="url(#p20_6)"/>
<rect x="149.28" y="765.09" width="8.28" height="4.97" fill="url(#p20_8)"/>
<rect x="149.28" y="769.56" width="8.28" height="9.45" fill="url(#p20_10)"/>
<rect x="149.28" y="778.51" width="8.28" height="18.39" fill="url(#p20_8)"/>
<rect x="149.28" y="796.40" width="8.28" height="4.97" fill="url(#p20_12)"/>
<rect x="149.28" y="800.87" width="8.28" height="22.87" fill="url(#p20_0)"/>
<rect x="157.07" y="662.20" width="8.28" height="36.29" fill="url(#p20_0)"/>
<rect x="157.07" y="697.99" width="8.28" height="27.34" fill="url(#p20_4)"/>
<rect x="157.07" y="724.83" width="8.28" height="22.87" fill="url(#p20_8)"/>
<rect x="157.07" y="747.19" width="8.28" height="22.87" fill="url(#p20_4)"/>
<rect x="157.07" y="769.56" width="8.28" height="13.92" fill="url(#p20_8)"/>
<rect x="157.07" y="782.98" width="8.28" height="13.92" fill="url(#p20_4)"/>
<rect x="157.07" y="796.40" width="8.28" height="22.87" fill="url(#p20_0)"/>
<rect x="164.85" y="662.20" width="8.28" height="22.87" fill="url(#p20_4)"/>
<rect x="164.85" y="684.57" width="8.28" height="9.45" fill="url(#p20_8)"/>
<rect x="164.85" y="693.51" width="8.28" height="13.92" fill="url(#p20_12)"/>
<rect x="164.85" y="706.93" width="8.28" height="27.34" fill="url(#p20_8)"/>
<rect x="164.85" y="733.77" width="8.28" height="13.92" fill="url(#p20_12)"/>
<rect x="164.85" y="747.19" width="8.28" height="31.81" fill="url(#p20_10)"/>
<rect x="164.85" y="778.51" width="8.28" height="4.97" fill="url(#p20_8)"/>
<rect x="164.85" y="782.98" width="8.28" height="4.97" fill="url(#p20_6)"/>
<rect x="164.85" y="787.45" width="8.28" height="18.39" fill="url(#p20_4)"/>
<rect x="164.85" y="805.35" width="8.28" height="4.97" fill="url(#p20_14)"/>
<rect x="164.85" y="809.82" width="8.28" height="4.97" fill="url(#p20_20)"/>
<rect x="172.63" y="662.20" width="8.28" height="4.97" fill="url(#p20_4)"/>
<rect x="172.63" y="666.67" width="8.28" height="9.45" fill="url(#p20_0)"/>
<rect x="172.63" y="675.62" width="8.28" height="4.97" fill="url(#p20_4)"/>
<rect x="172.63" y="680.09" width="8.28" height="4.97" fill="url(#p20_6)"/>
<rect x="172.63" y="684.57" width="8.28" height="4.97" fill="url(#p20_8)"/>
<rect x="172.63" y="689.04" width="8.28" height="13.92" fill="url(#p20_10)"/>
<rect x="172.63" y="702.46" width="8.28" height="67.60" fill="url(#p20_8)"/>
<rect x="172.63" y="769.56" width="8.28" height="18.39" fill="url(#p20_4)"/>
<rect x="172.63" y="787.45" width="8.28" height="4.97" fill="url(#p20_8)"/>
<rect x="172.63" y="791.93" width="8.28" height="9.45" fill="url(#p20_0)"/>
<rect x="172.63" y="800.87" width="8.28" height="4.97" fill="url(#p20_12)"/>
<rect x="180.42" y="662.20" width="8.28" height="31.81" fill="url(#p20_4)"/>
<rect x="180.42" y="693.51" width="8.28" height="4.97" fill="url(#p20_0)"/>
<rect x="180.42" y="697.99" width="8.28" height="63.13" fill="url(#p20_4)"/>
<rect x="180.42" y="760.61" width="8.28" height="4.97" fill="url(#p20_8)"/>
<rect x="180.42" y="765.09" width="8.28" height="22.87" fill="url(#p20_4)"/>
<rect x="180.42" y="787.45" width="8.28" height="4.97" fill="url(#p20_6)"/>
<rect x="180.42" y="791.93" width="8.28" height="4.97" fill="url(#p20_12)"/>
<rect x="180.42" y="796.40" width="8.28" height="13.92" fill="url(#p20_8)"/>
<rect x="180.42" y="809.82" width="8.28" height="4.97" fill="url(#p20_0)"/>
<rect x="180.42" y="814.29" width="8.28" height="4.97" fill="url(#p20_22)"/>
<rect x="180.42" y="818.77" width="8.28" height="4.97" fill="url(#p20_10)"/>
<rect x="188.20" y="662.20" width="8.28" height="9.45" fill="url(#p20_0)"/>
<rect x="188.20" y="671.15" width="8.28" height="9.45" fill="url(#p20_4)"/>
<rect x="188.20" y="680.09" width="8.28" height="9.45" fill="url(#p20_8)"/>
<rect x="188.20" y="689.04" width="8.28" height="27.34" fill="url(#p20_4)"/>
<rect x="188.20" y="715.88" width="8.28" height="9.45" fill="url(#p20_8)"/>
<rect x="188.20" y="724.83" width="8.28" height="27.34" fill="url(#p20_6)"/>
<rect x="188.20" y="751.67" width="8.28" height="18.39" fill="url(#p20_8)"/>
<rect x="188.20" y="769.56" width="8.28" height="18.39" fill="url(#p20_10)"/>
<rect x="188.20" y="787.45" width="8.28" height="4.97" fill="url(#p20_18)"/>
<rect x="188.20" y="791.93" width="8.28" height="9.45" fill="url(#p20_20)"/>
<rect x="195.98" y="662.20" width="8.28" height="31.81" fill="url(#p20_8)"/>
<rect x="195.98" y="693.51" width="8.28" height="9.45" fill="url(#p20_10)"/>
<rect x="195.98" y="702.46" width="8.28" height="27.34" fill="url(#p20_8)"/>
<rect x="195.98" y="729.30" width="8.28" height="40.76" fill="url(#p20_4)"/>
<rect x="195.98" y="769.56" width="8.28" height="4.97" fill="url(#p20_8)"/>
<rect x="195.98" y="774.03" width="8.28" height="4.97" fill="url(#p20_6)"/>
<rect x="195.98" y="778.51" width="8.28" height="4.97" fill="url(#p20_4)"/>
<rect x="195.98" y="782.98" width="8.28" height="4.97" fill="url(#p20_2)"/>
<rect x="195.98" y="787.45" width="8.28" height="4.97" fill="url(#p20_4)"/>
<rect x="227.12" y="662.20" width="8.28" height="18.39" fill="url(#p20_4)"/>
<rect x="227.12" y="680.09" width="8.28" height="9.45" fill="url(#p20_8)"/>
<rect x="227.12" y="689.04" width="8.28" height="18.39" fill="url(#p20_4)"/>
<rect x="227.12" y="706.93" width="8.28" height="9.45" fill="url(#p20_8)"/>
<rect x="227.12" y="715.88" width="8.28" height="9.45" fill="url(#p20_4)"/>
<rect x="227.12" y="724.83" width="8.28" height="4.97" fill="url(#p20_6)"/>
<rect x="227.12" y="729.30" width="8.28" height="4.97" fill="url(#p20_8)"/>
<rect x="227.12" y="733.77" width="8.28" height="9.45" fill="url(#p20_10)"/>
<rect x="227.12" y="742.72" width="8.28" height="4.97" fill="url(#p20_18)"/>
<rect x="227.12" y="747.19" width="8.28" height="13.92" fill="url(#p20_8)"/>
<rect x="227.12" y="760.61" width="8.28" height="4.97" fill="url(#p20_4)"/>
<rect x="227.12" y="765.09" width="8.28" height="9.45" fill="url(#p20_8)"/>
<rect x="227.12" y="774.03" width="8.28" height="9.45" fill="url(#p20_4)"/>
<rect x="227.12" y="782.98" width="8.28" height="27.34" fill="url(#p20_8)"/>
<rect x="227.12" y="809.82" width="8.28" height="4.97" fill="url(#p20_14)"/>
<rect x="227.12" y="814.29" width="8.28" height="9.45" fill="url(#p20_10)"/>
<rect x="242.68" y="662.20" width="8.28" height="9.45" fill="url(#p20_4)"/>
<rect x="242.68" y="671.15" width="8.28" height="121.28" fill="url(#p20_0)"/>
<rect x="242.68" y="791.93" width="8.28" height="4.97" fill="url(#p20_8)"/>
<rect x="242.68" y="796.40" width="8.28" height="4.97" fill="url(#p20_20)"/>
<rect x="242.68" y="800.87" width="8.28" height="4.97" fill="url(#p20_12)"/>
<rect x="242.68" y="805.35" width="8.28" height="9.45" fill="url(#p20_6)"/>
<rect x="250.47" y="662.20" width="8.28" height="139.17" fill="url(#p20_0)"/>
<rect x="250.47" y="800.87" width="8.28" height="4.97" fill="url(#p20_2)"/>
<rect x="250.47" y="805.35" width="8.28" height="4.97" fill="url(#p20_6)"/>
<rect x="250.47" y="809.82" width="8.28" height="4.97" fill="url(#p20_8)"/>
<rect x="250.47" y="814.29" width="8.28" height="22.87" fill="url(#p20_10)"/>
<rect x="258.25" y="662.20" width="8.28" height="9.45" fill="url(#p20_4)"/>
<rect x="258.25" y="671.15" width="8.28" height="9.45" fill="url(#p20_0)"/>
<rect x="258.25" y="680.09" width="8.28" height="18.39" fill="url(#p20_4)"/>
<rect x="258.25" y="697.99" width="8.28" height="40.76" fill="url(#p20_0)"/>
<rect x="258.25" y="738.25" width="8.28" height="4.97" fill="url(#p20_4)"/>
<rect x="258.25" y="742.72" width="8.28" height="58.65" fill="url(#p20_8)"/>
<rect x="258.25" y="800.87" width="8.28" height="4.97" fill="url(#p20_14)"/>
<rect x="258.25" y="805.35" width="8.28" height="22.87" fill="url(#p20_10)"/>
<rect x="258.25" y="827.71" width="8.28" height="4.97" fill="url(#p20_16)"/>
<rect x="258.25" y="832.19" width="8.28" height="27.34" fill="url(#p20_20)"/>
<rect x="258.25" y="859.03" width="8.28" height="22.87" fill="url(#p20_22)"/>
<rect x="258.25" y="881.39" width="8.28" height="9.45" fill="url(#p20_24)"/>
<rect x="266.03" y="662.20" width="8.28" height="45.23" fill="url(#p20_0)"/>
<rect x="266.03" y="706.93" width="8.28" height="18.39" fill="url(#p20_4)"/>
<rect x="266.03" y="724.83" width="8.28" height="4.97" fill="url(#p20_8)"/>
<rect x="266.03" y="729.30" width="8.28" height="31.81" fill="url(#p20_12)"/>
<rect x="266.03" y="760.61" width="8.28" height="13.92" fill="url(#p20_8)"/>
<rect x="266.03" y="774.03" width="8.28" height="4.97" fill="url(#p20_12)"/>
<rect x="266.03" y="778.51" width="8.28" height="40.76" fill="url(#p20_8)"/>
<rect x="266.03" y="818.77" width="8.28" height="4.97" fill="url(#p20_10)"/>
<rect x="266.03" y="823.24" width="8.28" height="4.97" fill="url(#p20_14)"/>
<rect x="266.03" y="827.71" width="8.28" height="18.39" fill="url(#p20_16)"/>
<rect x="266.03" y="845.61" width="8.28" height="22.87" fill="url(#p20_18)"/>
<rect x="266.03" y="867.97" width="8.28" height="13.92" fill="url(#p20_20)"/>
<rect x="266.03" y="881.39" width="8.28" height="9.45" fill="url(#p20_24)"/>
<rect x="266.03" y="890.34" width="8.28" height="9.45" fill="url(#p20_26)"/>
<rect x="266.03" y="899.29" width="8.28" height="4.97" fill="url(#p20_28)"/>
<rect x="273.82" y="662.20" width="8.28" height="36.29" fill="url(#p20_0)"/>
<rect x="273.82" y="697.99" width="8.28" height="22.87" fill="url(#p20_4)"/>
<rect x="273.82" y="720.35" width="8.28" height="9.45" fill="url(#p20_0)"/>
<rect x="273.82" y="729.30" width="8.28" height="9.45" fill="url(#p20_4)"/>
<rect x="273.82" y="738.25" width="8.28" height="4.97" fill="url(#p20_10)"/>
<rect x="273.82" y="742.72" width="8.28" height="9.45" fill="url(#p20_6)"/>
<rect x="273.82" y="751.67" width="8.28" height="31.81" fill="url(#p20_10)"/>
<rect x="273.82" y="782.98" width="8.28" height="36.29" fill="url(#p20_6)"/>
<rect x="273.82" y="818.77" width="8.28" height="13.92" fill="url(#p20_8)"/>
<rect x="273.82" y="832.19" width="8.28" height="13.92" fill="url(#p20_12)"/>
<rect x="273.82" y="845.61" width="8.28" height="9.45" fill="url(#p20_16)"/>
<rect x="273.82" y="854.55" width="8.28" height="13.92" fill="url(#p20_18)"/>
<rect x="273.82" y="867.97" width="8.28" height="9.45" fill="url(#p20_20)"/>
<rect x="273.82" y="876.92" width="8.28" height="4.97" fill="url(#p20_24)"/>
<rect x="273.82" y="881.39" width="8.28" height="13.92" fill="url(#p20_30)"/>
<rect x="273.82" y="894.81" width="8.28" height="4.97" fill="url(#p20_26)"/>
<rect x="273.82" y="899.29" width="8.28" height="4.97" fill="url(#p20_22)"/>
<rect x="281.60" y="662.20" width="8.28" height="18.39" fill="url(#p20_4)"/>
<rect x="281.60" y="680.09" width="8.28" height="22.87" fill="url(#p20_0)"/>
<rect x="281.60" y="702.46" width="8.28" height="107.86" fill="url(#p20_4)"/>
<rect x="281.60" y="809.82" width="8.28" height="27.34" fill="url(#p20_8)"/>
<rect x="281.60" y="836.66" width="8.28" height="9.45" fill="url(#p20_12)"/>
<rect x="281.60" y="845.61" width="8.28" height="9.45" fill="url(#p20_16)"/>
<rect x="281.60" y="854.55" width="8.28" height="22.87" fill="url(#p20_20)"/>
<rect x="281.60" y="876.92" width="8.28" height="4.97" fill="url(#p20_24)"/>
<rect x="281.60" y="881.39" width="8.28" height="4.97" fill="url(#p20_28)"/>
<rect x="48.3" y="662.4" width="280.2" height="268.4" fill="none" stroke="#383838" stroke-width="1.15"/>
<line x1="44.4" x2="48.3" y1="930.80" y2="930.80" stroke="#383838" stroke-width="1.15"/>
<text x="40.80" y="937.20" font-size="16.2" text-anchor="end" textLength="9.3" lengthAdjust="spacingAndGlyphs" fill="#111" stroke="#111" stroke-width="0.25">0</text>
<line x1="44.4" x2="48.3" y1="886.07" y2="886.07" stroke="#383838" stroke-width="1.15"/>
<text x="40.80" y="892.47" font-size="16.2" text-anchor="end" textLength="18.2" lengthAdjust="spacingAndGlyphs" fill="#111" stroke="#111" stroke-width="0.25">10</text>
<line x1="44.4" x2="48.3" y1="841.33" y2="841.33" stroke="#383838" stroke-width="1.15"/>
<text x="40.80" y="847.73" font-size="16.2" text-anchor="end" textLength="18.2" lengthAdjust="spacingAndGlyphs" fill="#111" stroke="#111" stroke-width="0.25">20</text>
<line x1="44.4" x2="48.3" y1="796.60" y2="796.60" stroke="#383838" stroke-width="1.15"/>
<text x="40.80" y="803.00" font-size="16.2" text-anchor="end" textLength="18.2" lengthAdjust="spacingAndGlyphs" fill="#111" stroke="#111" stroke-width="0.25">30</text>
<line x1="44.4" x2="48.3" y1="751.87" y2="751.87" stroke="#383838" stroke-width="1.15"/>
<text x="40.80" y="758.27" font-size="16.2" text-anchor="end" textLength="18.2" lengthAdjust="spacingAndGlyphs" fill="#111" stroke="#111" stroke-width="0.25">40</text>
<line x1="44.4" x2="48.3" y1="707.13" y2="707.13" stroke="#383838" stroke-width="1.15"/>
<text x="40.80" y="713.53" font-size="16.2" text-anchor="end" textLength="18.2" lengthAdjust="spacingAndGlyphs" fill="#111" stroke="#111" stroke-width="0.25">50</text>
<line x1="44.4" x2="48.3" y1="662.40" y2="662.40" stroke="#383838" stroke-width="1.15"/>
<text x="40.80" y="668.80" font-size="16.2" text-anchor="end" textLength="18.2" lengthAdjust="spacingAndGlyphs" fill="#111" stroke="#111" stroke-width="0.25">60</text>
<line x1="48.30" x2="48.30" y1="930.8" y2="934.7" stroke="#383838" stroke-width="1.15"/>
<text x="29.00" y="949.50" font-size="16.2" text-anchor="start" textLength="19.0" lengthAdjust="spacingAndGlyphs" fill="#111" stroke="#111" stroke-width="0.25">90</text>
<circle cx="53.9" cy="940.1" r="1.3" fill="none" stroke="#111" stroke-width="0.8"/>
<text x="58.60" y="949.50" font-size="16.2" text-anchor="start" textLength="10.0" lengthAdjust="spacingAndGlyphs" fill="#111" stroke="#111" stroke-width="0.25">S</text>
<line x1="118.35" x2="118.35" y1="930.8" y2="934.7" stroke="#383838" stroke-width="1.15"/>
<text x="98.70" y="949.50" font-size="16.2" text-anchor="start" textLength="19.0" lengthAdjust="spacingAndGlyphs" fill="#111" stroke="#111" stroke-width="0.25">45</text>
<circle cx="123.6" cy="940.1" r="1.3" fill="none" stroke="#111" stroke-width="0.8"/>
<text x="128.30" y="949.50" font-size="16.2" text-anchor="start" textLength="10.0" lengthAdjust="spacingAndGlyphs" fill="#111" stroke="#111" stroke-width="0.25">S</text>
<line x1="188.40" x2="188.40" y1="930.8" y2="934.7" stroke="#383838" stroke-width="1.15"/>
<text x="179.80" y="949.50" font-size="16.2" text-anchor="start" textLength="9.7" lengthAdjust="spacingAndGlyphs" fill="#111" stroke="#111" stroke-width="0.25">0</text>
<circle cx="194.7" cy="940.1" r="1.3" fill="none" stroke="#111" stroke-width="0.8"/>
<line x1="258.45" x2="258.45" y1="930.8" y2="934.7" stroke="#383838" stroke-width="1.15"/>
<text x="238.10" y="949.50" font-size="16.2" text-anchor="start" textLength="19.0" lengthAdjust="spacingAndGlyphs" fill="#111" stroke="#111" stroke-width="0.25">45</text>
<circle cx="262.1" cy="940.1" r="1.3" fill="none" stroke="#111" stroke-width="0.8"/>
<text x="268.30" y="949.50" font-size="16.2" text-anchor="start" textLength="11.0" lengthAdjust="spacingAndGlyphs" fill="#111" stroke="#111" stroke-width="0.25">N</text>
<line x1="328.50" x2="328.50" y1="930.8" y2="934.7" stroke="#383838" stroke-width="1.15"/>
<text x="308.60" y="949.50" font-size="16.2" text-anchor="start" textLength="19.0" lengthAdjust="spacingAndGlyphs" fill="#111" stroke="#111" stroke-width="0.25">90</text>
<circle cx="332.6" cy="940.1" r="1.3" fill="none" stroke="#111" stroke-width="0.8"/>
<text x="338.80" y="949.50" font-size="16.2" text-anchor="start" textLength="11.0" lengthAdjust="spacingAndGlyphs" fill="#111" stroke="#111" stroke-width="0.25">N</text>
<text x="126.80" y="655.80" font-size="15.7" text-anchor="start" fill="#111" font-style="italic" stroke="#111" stroke-width="0.25">L</text>
<text x="135.10" y="658.50" font-size="11.3" text-anchor="start" fill="#111" stroke="#111" stroke-width="0.2">S</text>
<text x="149.60" y="657.20" font-size="16" text-anchor="start" textLength="11.8" lengthAdjust="spacingAndGlyphs" fill="#111" font-weight="bold" stroke="#111" stroke-width="0.5">=</text>
<text x="168.20" y="655.80" font-size="15.7" text-anchor="start" textLength="73.2" lengthAdjust="spacingAndGlyphs" fill="#111" font-weight="bold" stroke="#111" stroke-width="0.45">240-280</text>
<circle cx="247.9" cy="646.8" r="1.45" fill="none" stroke="#111" stroke-width="0.75"/>
<text transform="translate(14.4,797.1) rotate(-90)" text-anchor="middle" font-size="18.3" textLength="116.6" lengthAdjust="spacingAndGlyphs" fill="#111" stroke="#111" stroke-width="0.25">Altitude / km</text>
<line x1="384.7" x2="664.6" y1="886.07" y2="886.07" stroke="#e2e2e2" stroke-width="0.8" stroke-dasharray="1.7,1.1"/>
<line x1="384.7" x2="664.6" y1="841.33" y2="841.33" stroke="#e2e2e2" stroke-width="0.8" stroke-dasharray="1.7,1.1"/>
<line x1="384.7" x2="664.6" y1="796.60" y2="796.60" stroke="#e2e2e2" stroke-width="0.8" stroke-dasharray="1.7,1.1"/>
<line x1="384.7" x2="664.6" y1="751.87" y2="751.87" stroke="#e2e2e2" stroke-width="0.8" stroke-dasharray="1.7,1.1"/>
<line x1="384.7" x2="664.6" y1="707.13" y2="707.13" stroke="#e2e2e2" stroke-width="0.8" stroke-dasharray="1.7,1.1"/>
<line x1="454.67" x2="454.67" y1="662.4" y2="930.8" stroke="#e2e2e2" stroke-width="0.8" stroke-dasharray="1.7,1.1"/>
<line x1="524.65" x2="524.65" y1="662.4" y2="930.8" stroke="#e2e2e2" stroke-width="0.8" stroke-dasharray="1.7,1.1"/>
<line x1="594.62" x2="594.62" y1="662.4" y2="930.8" stroke="#e2e2e2" stroke-width="0.8" stroke-dasharray="1.7,1.1"/>
<rect x="415.60" y="662.20" width="8.27" height="13.92" fill="url(#p21_10)"/>
<rect x="415.60" y="675.62" width="8.27" height="9.45" fill="url(#p21_12)"/>
<rect x="415.60" y="684.57" width="8.27" height="13.92" fill="url(#p21_16)"/>
<rect x="415.60" y="697.99" width="8.27" height="31.81" fill="url(#p21_18)"/>
<rect x="415.60" y="729.30" width="8.27" height="40.76" fill="url(#p21_20)"/>
<rect x="415.60" y="769.56" width="8.27" height="27.34" fill="url(#p21_24)"/>
<rect x="415.60" y="796.40" width="8.27" height="22.87" fill="url(#p21_26)"/>
<rect x="415.60" y="818.77" width="8.27" height="45.23" fill="url(#p21_28)"/>
<rect x="415.60" y="863.50" width="8.27" height="18.39" fill="url(#p21_32)"/>
<rect x="423.38" y="662.20" width="8.27" height="18.39" fill="url(#p21_10)"/>
<rect x="423.38" y="680.09" width="8.27" height="18.39" fill="url(#p21_14)"/>
<rect x="423.38" y="697.99" width="8.27" height="31.81" fill="url(#p21_18)"/>
<rect x="423.38" y="729.30" width="8.27" height="40.76" fill="url(#p21_20)"/>
<rect x="423.38" y="769.56" width="8.27" height="27.34" fill="url(#p21_24)"/>
<rect x="423.38" y="796.40" width="8.27" height="18.39" fill="url(#p21_26)"/>
<rect x="423.38" y="814.29" width="8.27" height="49.71" fill="url(#p21_28)"/>
<rect x="423.38" y="863.50" width="8.27" height="18.39" fill="url(#p21_32)"/>
<rect x="431.15" y="662.20" width="8.27" height="13.92" fill="url(#p21_10)"/>
<rect x="431.15" y="675.62" width="8.27" height="9.45" fill="url(#p21_12)"/>
<rect x="431.15" y="684.57" width="8.27" height="9.45" fill="url(#p21_16)"/>
<rect x="431.15" y="693.51" width="8.27" height="36.29" fill="url(#p21_18)"/>
<rect x="431.15" y="729.30" width="8.27" height="40.76" fill="url(#p21_20)"/>
<rect x="431.15" y="769.56" width="8.27" height="22.87" fill="url(#p21_24)"/>
<rect x="431.15" y="791.93" width="8.27" height="22.87" fill="url(#p21_26)"/>
<rect x="431.15" y="814.29" width="8.27" height="36.29" fill="url(#p21_28)"/>
<rect x="431.15" y="850.08" width="8.27" height="4.97" fill="url(#p21_32)"/>
<rect x="431.15" y="854.55" width="8.27" height="9.45" fill="url(#p21_28)"/>
<rect x="431.15" y="863.50" width="8.27" height="22.87" fill="url(#p21_32)"/>
<rect x="438.93" y="662.20" width="8.27" height="18.39" fill="url(#p21_10)"/>
<rect x="438.93" y="680.09" width="8.27" height="9.45" fill="url(#p21_12)"/>
<rect x="438.93" y="689.04" width="8.27" height="13.92" fill="url(#p21_16)"/>
<rect x="438.93" y="702.46" width="8.27" height="27.34" fill="url(#p21_18)"/>
<rect x="438.93" y="729.30" width="8.27" height="40.76" fill="url(#p21_20)"/>
<rect x="438.93" y="769.56" width="8.27" height="22.87" fill="url(#p21_24)"/>
<rect x="438.93" y="791.93" width="8.27" height="18.39" fill="url(#p21_26)"/>
<rect x="438.93" y="809.82" width="8.27" height="54.18" fill="url(#p21_28)"/>
<rect x="438.93" y="863.50" width="8.27" height="22.87" fill="url(#p21_32)"/>
<rect x="438.93" y="885.87" width="8.27" height="4.97" fill="url(#p21_36)"/>
<rect x="446.70" y="662.20" width="8.27" height="13.92" fill="url(#p21_10)"/>
<rect x="446.70" y="675.62" width="8.27" height="9.45" fill="url(#p21_14)"/>
<rect x="446.70" y="684.57" width="8.27" height="45.23" fill="url(#p21_18)"/>
<rect x="446.70" y="729.30" width="8.27" height="40.76" fill="url(#p21_20)"/>
<rect x="446.70" y="769.56" width="8.27" height="22.87" fill="url(#p21_24)"/>
<rect x="446.70" y="791.93" width="8.27" height="9.45" fill="url(#p21_26)"/>
<rect x="446.70" y="800.87" width="8.27" height="40.76" fill="url(#p21_28)"/>
<rect x="446.70" y="841.13" width="8.27" height="4.97" fill="url(#p21_32)"/>
<rect x="446.70" y="845.61" width="8.27" height="4.97" fill="url(#p21_34)"/>
<rect x="446.70" y="850.08" width="8.27" height="4.97" fill="url(#p21_32)"/>
<rect x="446.70" y="854.55" width="8.27" height="18.39" fill="url(#p21_28)"/>
<rect x="446.70" y="872.45" width="8.27" height="9.45" fill="url(#p21_32)"/>
<rect x="454.47" y="662.20" width="8.27" height="22.87" fill="url(#p21_10)"/>
<rect x="454.47" y="684.57" width="8.27" height="9.45" fill="url(#p21_12)"/>
<rect x="454.47" y="693.51" width="8.27" height="9.45" fill="url(#p21_16)"/>
<rect x="454.47" y="702.46" width="8.27" height="27.34" fill="url(#p21_18)"/>
<rect x="454.47" y="729.30" width="8.27" height="27.34" fill="url(#p21_20)"/>
<rect x="454.47" y="756.14" width="8.27" height="31.81" fill="url(#p21_24)"/>
<rect x="454.47" y="787.45" width="8.27" height="9.45" fill="url(#p21_26)"/>
<rect x="454.47" y="796.40" width="8.27" height="40.76" fill="url(#p21_28)"/>
<rect x="454.47" y="836.66" width="8.27" height="9.45" fill="url(#p21_32)"/>
<rect x="454.47" y="845.61" width="8.27" height="9.45" fill="url(#p21_36)"/>
<rect x="454.47" y="854.55" width="8.27" height="4.97" fill="url(#p21_34)"/>
<rect x="454.47" y="859.03" width="8.27" height="4.97" fill="url(#p21_28)"/>
<rect x="462.25" y="662.20" width="8.27" height="18.39" fill="url(#p21_10)"/>
<rect x="462.25" y="680.09" width="8.27" height="4.97" fill="url(#p21_12)"/>
<rect x="462.25" y="684.57" width="8.27" height="4.97" fill="url(#p21_14)"/>
<rect x="462.25" y="689.04" width="8.27" height="13.92" fill="url(#p21_16)"/>
<rect x="462.25" y="702.46" width="8.27" height="22.87" fill="url(#p21_18)"/>
<rect x="462.25" y="724.83" width="8.27" height="40.76" fill="url(#p21_20)"/>
<rect x="462.25" y="765.09" width="8.27" height="27.34" fill="url(#p21_24)"/>
<rect x="462.25" y="791.93" width="8.27" height="18.39" fill="url(#p21_26)"/>
<rect x="462.25" y="809.82" width="8.27" height="31.81" fill="url(#p21_28)"/>
<rect x="462.25" y="841.13" width="8.27" height="4.97" fill="url(#p21_30)"/>
<rect x="462.25" y="845.61" width="8.27" height="4.97" fill="url(#p21_32)"/>
<rect x="462.25" y="850.08" width="8.27" height="4.97" fill="url(#p21_34)"/>
<rect x="462.25" y="854.55" width="8.27" height="4.97" fill="url(#p21_28)"/>
<rect x="470.02" y="662.20" width="8.27" height="22.87" fill="url(#p21_8)"/>
<rect x="470.02" y="684.57" width="8.27" height="9.45" fill="url(#p21_12)"/>
<rect x="470.02" y="693.51" width="8.27" height="13.92" fill="url(#p21_16)"/>
<rect x="470.02" y="706.93" width="8.27" height="22.87" fill="url(#p21_18)"/>
<rect x="470.02" y="729.30" width="8.27" height="22.87" fill="url(#p21_20)"/>
<rect x="470.02" y="751.67" width="8.27" height="31.81" fill="url(#p21_24)"/>
<rect x="470.02" y="782.98" width="8.27" height="67.60" fill="url(#p21_28)"/>
<rect x="477.80" y="662.20" width="8.27" height="22.87" fill="url(#p21_8)"/>
<rect x="477.80" y="684.57" width="8.27" height="18.39" fill="url(#p21_12)"/>
<rect x="477.80" y="702.46" width="8.27" height="4.97" fill="url(#p21_16)"/>
<rect x="477.80" y="706.93" width="8.27" height="27.34" fill="url(#p21_18)"/>
<rect x="477.80" y="733.77" width="8.27" height="36.29" fill="url(#p21_20)"/>
<rect x="477.80" y="769.56" width="8.27" height="27.34" fill="url(#p21_24)"/>
<rect x="477.80" y="796.40" width="8.27" height="13.92" fill="url(#p21_26)"/>
<rect x="477.80" y="809.82" width="8.27" height="54.18" fill="url(#p21_28)"/>
<rect x="485.57" y="662.20" width="8.27" height="18.39" fill="url(#p21_8)"/>
<rect x="485.57" y="680.09" width="8.27" height="9.45" fill="url(#p21_10)"/>
<rect x="485.57" y="689.04" width="8.27" height="9.45" fill="url(#p21_12)"/>
<rect x="485.57" y="697.99" width="8.27" height="9.45" fill="url(#p21_16)"/>
<rect x="485.57" y="706.93" width="8.27" height="27.34" fill="url(#p21_18)"/>
<rect x="485.57" y="733.77" width="8.27" height="40.76" fill="url(#p21_20)"/>
<rect x="485.57" y="774.03" width="8.27" height="18.39" fill="url(#p21_24)"/>
<rect x="485.57" y="791.93" width="8.27" height="18.39" fill="url(#p21_26)"/>
<rect x="485.57" y="809.82" width="8.27" height="22.87" fill="url(#p21_28)"/>
<rect x="485.57" y="832.19" width="8.27" height="4.97" fill="url(#p21_32)"/>
<rect x="485.57" y="836.66" width="8.27" height="4.97" fill="url(#p21_28)"/>
<rect x="493.35" y="662.20" width="8.27" height="18.39" fill="url(#p21_8)"/>
<rect x="493.35" y="680.09" width="8.27" height="18.39" fill="url(#p21_12)"/>
<rect x="493.35" y="697.99" width="8.27" height="9.45" fill="url(#p21_16)"/>
<rect x="493.35" y="706.93" width="8.27" height="27.34" fill="url(#p21_18)"/>
<rect x="493.35" y="733.77" width="8.27" height="36.29" fill="url(#p21_20)"/>
<rect x="493.35" y="769.56" width="8.27" height="27.34" fill="url(#p21_24)"/>
<rect x="493.35" y="796.40" width="8.27" height="13.92" fill="url(#p21_26)"/>
<rect x="493.35" y="809.82" width="8.27" height="27.34" fill="url(#p21_28)"/>
<rect x="501.12" y="662.20" width="8.27" height="9.45" fill="url(#p21_8)"/>
<rect x="501.12" y="671.15" width="8.27" height="13.92" fill="url(#p21_12)"/>
<rect x="501.12" y="684.57" width="8.27" height="18.39" fill="url(#p21_10)"/>
<rect x="501.12" y="702.46" width="8.27" height="9.45" fill="url(#p21_14)"/>
<rect x="501.12" y="711.41" width="8.27" height="22.87" fill="url(#p21_18)"/>
<rect x="501.12" y="733.77" width="8.27" height="9.45" fill="url(#p21_16)"/>
<rect x="501.12" y="742.72" width="8.27" height="27.34" fill="url(#p21_20)"/>
<rect x="501.12" y="769.56" width="8.27" height="9.45" fill="url(#p21_24)"/>
<rect x="501.12" y="778.51" width="8.27" height="9.45" fill="url(#p21_28)"/>
<rect x="501.12" y="787.45" width="8.27" height="9.45" fill="url(#p21_24)"/>
<rect x="501.12" y="796.40" width="8.27" height="36.29" fill="url(#p21_28)"/>
<rect x="508.90" y="662.20" width="8.27" height="4.97" fill="url(#p21_6)"/>
<rect x="508.90" y="666.67" width="8.27" height="18.39" fill="url(#p21_8)"/>
<rect x="508.90" y="684.57" width="8.27" height="22.87" fill="url(#p21_10)"/>
<rect x="508.90" y="706.93" width="8.27" height="9.45" fill="url(#p21_14)"/>
<rect x="508.90" y="715.88" width="8.27" height="18.39" fill="url(#p21_18)"/>
<rect x="508.90" y="733.77" width="8.27" height="36.29" fill="url(#p21_20)"/>
<rect x="508.90" y="769.56" width="8.27" height="22.87" fill="url(#p21_24)"/>
<rect x="508.90" y="791.93" width="8.27" height="13.92" fill="url(#p21_26)"/>
<rect x="508.90" y="805.35" width="8.27" height="18.39" fill="url(#p21_28)"/>
<rect x="508.90" y="823.24" width="8.27" height="4.97" fill="url(#p21_24)"/>
<rect x="516.67" y="662.20" width="8.27" height="22.87" fill="url(#p21_8)"/>
<rect x="516.67" y="684.57" width="8.27" height="27.34" fill="url(#p21_10)"/>
<rect x="516.67" y="711.41" width="8.27" height="13.92" fill="url(#p21_14)"/>
<rect x="516.67" y="724.83" width="8.27" height="9.45" fill="url(#p21_18)"/>
<rect x="516.67" y="733.77" width="8.27" height="4.97" fill="url(#p21_28)"/>
<rect x="516.67" y="738.25" width="8.27" height="18.39" fill="url(#p21_20)"/>
<rect x="516.67" y="756.14" width="8.27" height="18.39" fill="url(#p21_24)"/>
<rect x="516.67" y="774.03" width="8.27" height="4.97" fill="url(#p21_28)"/>
<rect x="516.67" y="778.51" width="8.27" height="4.97" fill="url(#p21_24)"/>
<rect x="516.67" y="782.98" width="8.27" height="4.97" fill="url(#p21_26)"/>
<rect x="516.67" y="787.45" width="8.27" height="22.87" fill="url(#p21_28)"/>
<rect x="516.67" y="809.82" width="8.27" height="9.45" fill="url(#p21_32)"/>
<rect x="524.45" y="662.20" width="8.27" height="22.87" fill="url(#p21_8)"/>
<rect x="524.45" y="684.57" width="8.27" height="22.87" fill="url(#p21_10)"/>
<rect x="524.45" y="706.93" width="8.27" height="9.45" fill="url(#p21_14)"/>
<rect x="524.45" y="715.88" width="8.27" height="18.39" fill="url(#p21_18)"/>
<rect x="524.45" y="733.77" width="8.27" height="27.34" fill="url(#p21_20)"/>
<rect x="524.45" y="760.61" width="8.27" height="9.45" fill="url(#p21_18)"/>
<rect x="524.45" y="769.56" width="8.27" height="4.97" fill="url(#p21_24)"/>
<rect x="524.45" y="774.03" width="8.27" height="18.39" fill="url(#p21_26)"/>
<rect x="524.45" y="791.93" width="8.27" height="36.29" fill="url(#p21_28)"/>
<rect x="532.22" y="662.20" width="8.27" height="22.87" fill="url(#p21_8)"/>
<rect x="532.22" y="684.57" width="8.27" height="27.34" fill="url(#p21_10)"/>
<rect x="532.22" y="711.41" width="8.27" height="9.45" fill="url(#p21_14)"/>
<rect x="532.22" y="720.35" width="8.27" height="13.92" fill="url(#p21_18)"/>
<rect x="532.22" y="733.77" width="8.27" height="9.45" fill="url(#p21_20)"/>
<rect x="532.22" y="742.72" width="8.27" height="4.97" fill="url(#p21_18)"/>
<rect x="532.22" y="747.19" width="8.27" height="9.45" fill="url(#p21_20)"/>
<rect x="532.22" y="756.14" width="8.27" height="4.97" fill="url(#p21_26)"/>
<rect x="532.22" y="760.61" width="8.27" height="4.97" fill="url(#p21_20)"/>
<rect x="532.22" y="765.09" width="8.27" height="13.92" fill="url(#p21_24)"/>
<rect x="532.22" y="778.51" width="8.27" height="4.97" fill="url(#p21_28)"/>
<rect x="532.22" y="782.98" width="8.27" height="9.45" fill="url(#p21_24)"/>
<rect x="532.22" y="791.93" width="8.27" height="13.92" fill="url(#p21_28)"/>
<rect x="532.22" y="805.35" width="8.27" height="4.97" fill="url(#p21_24)"/>
<rect x="532.22" y="809.82" width="8.27" height="9.45" fill="url(#p21_28)"/>
<rect x="540.00" y="715.88" width="8.27" height="4.97" fill="url(#p21_20)"/>
<rect x="540.00" y="720.35" width="8.27" height="4.97" fill="url(#p21_14)"/>
<rect x="540.00" y="724.83" width="8.27" height="27.34" fill="url(#p21_20)"/>
<rect x="540.00" y="751.67" width="8.27" height="4.97" fill="url(#p21_24)"/>
<rect x="540.00" y="756.14" width="8.27" height="9.45" fill="url(#p21_26)"/>
<rect x="540.00" y="765.09" width="8.27" height="4.97" fill="url(#p21_22)"/>
<rect x="540.00" y="769.56" width="8.27" height="4.97" fill="url(#p21_16)"/>
<rect x="540.00" y="774.03" width="8.27" height="4.97" fill="url(#p21_32)"/>
<rect x="540.00" y="778.51" width="8.27" height="4.97" fill="url(#p21_28)"/>
<rect x="540.00" y="782.98" width="8.27" height="4.97" fill="url(#p21_24)"/>
<rect x="540.00" y="787.45" width="8.27" height="9.45" fill="url(#p21_28)"/>
<rect x="540.00" y="796.40" width="8.27" height="9.45" fill="url(#p21_32)"/>
<rect x="540.00" y="805.35" width="8.27" height="4.97" fill="url(#p21_34)"/>
<rect x="571.10" y="800.87" width="8.27" height="4.97" fill="url(#p21_24)"/>
<rect x="571.10" y="805.35" width="8.27" height="31.81" fill="url(#p21_28)"/>
<rect x="571.10" y="836.66" width="8.27" height="9.45" fill="url(#p21_32)"/>
<rect x="571.10" y="845.61" width="8.27" height="9.45" fill="url(#p21_36)"/>
<rect x="578.88" y="662.20" width="8.27" height="18.39" fill="url(#p21_2)"/>
<rect x="578.88" y="680.09" width="8.27" height="9.45" fill="url(#p21_6)"/>
<rect x="578.88" y="689.04" width="8.27" height="13.92" fill="url(#p21_10)"/>
<rect x="578.88" y="702.46" width="8.27" height="13.92" fill="url(#p21_14)"/>
<rect x="578.88" y="715.88" width="8.27" height="36.29" fill="url(#p21_18)"/>
<rect x="578.88" y="751.67" width="8.27" height="36.29" fill="url(#p21_20)"/>
<rect x="578.88" y="787.45" width="8.27" height="9.45" fill="url(#p21_22)"/>
<rect x="578.88" y="796.40" width="8.27" height="18.39" fill="url(#p21_24)"/>
<rect x="578.88" y="814.29" width="8.27" height="27.34" fill="url(#p21_28)"/>
<rect x="578.88" y="841.13" width="8.27" height="4.97" fill="url(#p21_30)"/>
<rect x="578.88" y="845.61" width="8.27" height="4.97" fill="url(#p21_34)"/>
<rect x="578.88" y="850.08" width="8.27" height="4.97" fill="url(#p21_36)"/>
<rect x="586.65" y="662.20" width="8.27" height="4.97" fill="url(#p21_2)"/>
<rect x="586.65" y="666.67" width="8.27" height="13.92" fill="url(#p21_6)"/>
<rect x="586.65" y="680.09" width="8.27" height="22.87" fill="url(#p21_8)"/>
<rect x="586.65" y="702.46" width="8.27" height="4.97" fill="url(#p21_6)"/>
<rect x="586.65" y="706.93" width="8.27" height="9.45" fill="url(#p21_8)"/>
<rect x="586.65" y="715.88" width="8.27" height="13.92" fill="url(#p21_12)"/>
<rect x="586.65" y="729.30" width="8.27" height="4.97" fill="url(#p21_16)"/>
<rect x="586.65" y="733.77" width="8.27" height="4.97" fill="url(#p21_14)"/>
<rect x="586.65" y="738.25" width="8.27" height="13.92" fill="url(#p21_18)"/>
<rect x="586.65" y="751.67" width="8.27" height="9.45" fill="url(#p21_16)"/>
<rect x="586.65" y="760.61" width="8.27" height="31.81" fill="url(#p21_20)"/>
<rect x="586.65" y="791.93" width="8.27" height="4.97" fill="url(#p21_26)"/>
<rect x="586.65" y="796.40" width="8.27" height="13.92" fill="url(#p21_24)"/>
<rect x="586.65" y="809.82" width="8.27" height="36.29" fill="url(#p21_28)"/>
<rect x="586.65" y="845.61" width="8.27" height="58.65" fill="url(#p21_32)"/>
<rect x="586.65" y="903.76" width="8.27" height="22.87" fill="url(#p21_34)"/>
<rect x="586.65" y="926.13" width="8.27" height="4.97" fill="url(#p21_32)"/>
<rect x="594.42" y="662.20" width="8.27" height="4.97" fill="url(#p21_6)"/>
<rect x="594.42" y="666.67" width="8.27" height="45.23" fill="url(#p21_8)"/>
<rect x="594.42" y="711.41" width="8.27" height="9.45" fill="url(#p21_12)"/>
<rect x="594.42" y="720.35" width="8.27" height="9.45" fill="url(#p21_16)"/>
<rect x="594.42" y="729.30" width="8.27" height="22.87" fill="url(#p21_18)"/>
<rect x="594.42" y="751.67" width="8.27" height="45.23" fill="url(#p21_20)"/>
<rect x="594.42" y="796.40" width="8.27" height="18.39" fill="url(#p21_24)"/>
<rect x="594.42" y="814.29" width="8.27" height="49.71" fill="url(#p21_28)"/>
<rect x="594.42" y="863.50" width="8.27" height="27.34" fill="url(#p21_32)"/>
<rect x="594.42" y="890.34" width="8.27" height="18.39" fill="url(#p21_34)"/>
<rect x="594.42" y="908.23" width="8.27" height="22.87" fill="url(#p21_32)"/>
<rect x="602.20" y="662.20" width="8.27" height="13.92" fill="url(#p21_4)"/>
<rect x="602.20" y="675.62" width="8.27" height="36.29" fill="url(#p21_8)"/>
<rect x="602.20" y="711.41" width="8.27" height="13.92" fill="url(#p21_12)"/>
<rect x="602.20" y="724.83" width="8.27" height="4.97" fill="url(#p21_16)"/>
<rect x="602.20" y="729.30" width="8.27" height="22.87" fill="url(#p21_18)"/>
<rect x="602.20" y="751.67" width="8.27" height="45.23" fill="url(#p21_20)"/>
<rect x="602.20" y="796.40" width="8.27" height="9.45" fill="url(#p21_24)"/>
<rect x="602.20" y="805.35" width="8.27" height="13.92" fill="url(#p21_26)"/>
<rect x="602.20" y="818.77" width="8.27" height="58.65" fill="url(#p21_28)"/>
<rect x="602.20" y="876.92" width="8.27" height="45.23" fill="url(#p21_32)"/>
<rect x="609.97" y="662.20" width="8.27" height="13.92" fill="url(#p21_4)"/>
<rect x="609.97" y="675.62" width="8.27" height="36.29" fill="url(#p21_8)"/>
<rect x="609.97" y="711.41" width="8.27" height="4.97" fill="url(#p21_10)"/>
<rect x="609.97" y="715.88" width="8.27" height="4.97" fill="url(#p21_12)"/>
<rect x="609.97" y="720.35" width="8.27" height="4.97" fill="url(#p21_14)"/>
<rect x="609.97" y="724.83" width="8.27" height="4.97" fill="url(#p21_16)"/>
<rect x="609.97" y="729.30" width="8.27" height="36.29" fill="url(#p21_18)"/>
<rect x="609.97" y="765.09" width="8.27" height="31.81" fill="url(#p21_20)"/>
<rect x="609.97" y="796.40" width="8.27" height="36.29" fill="url(#p21_24)"/>
<rect x="609.97" y="832.19" width="8.27" height="76.55" fill="url(#p21_28)"/>
<rect x="609.97" y="908.23" width="8.27" height="9.45" fill="url(#p21_32)"/>
<rect x="617.75" y="662.20" width="8.27" height="4.97" fill="url(#p21_2)"/>
<rect x="617.75" y="666.67" width="8.27" height="13.92" fill="url(#p21_4)"/>
<rect x="617.75" y="680.09" width="8.27" height="31.81" fill="url(#p21_8)"/>
<rect x="617.75" y="711.41" width="8.27" height="9.45" fill="url(#p21_12)"/>
<rect x="617.75" y="720.35" width="8.27" height="4.97" fill="url(#p21_14)"/>
<rect x="617.75" y="724.83" width="8.27" height="4.97" fill="url(#p21_16)"/>
<rect x="617.75" y="729.30" width="8.27" height="36.29" fill="url(#p21_18)"/>
<rect x="617.75" y="765.09" width="8.27" height="4.97" fill="url(#p21_14)"/>
<rect x="617.75" y="769.56" width="8.27" height="22.87" fill="url(#p21_20)"/>
<rect x="617.75" y="791.93" width="8.27" height="4.97" fill="url(#p21_18)"/>
<rect x="617.75" y="796.40" width="8.27" height="18.39" fill="url(#p21_22)"/>
<rect x="617.75" y="814.29" width="8.27" height="22.87" fill="url(#p21_24)"/>
<rect x="617.75" y="836.66" width="8.27" height="63.13" fill="url(#p21_28)"/>
<rect x="384.7" y="662.4" width="279.9" height="268.4" fill="none" stroke="#383838" stroke-width="1.15"/>
<line x1="380.8" x2="384.7" y1="930.80" y2="930.80" stroke="#383838" stroke-width="1.15"/>
<text x="377.20" y="937.20" font-size="16.2" text-anchor="end" textLength="9.3" lengthAdjust="spacingAndGlyphs" fill="#111" stroke="#111" stroke-width="0.25">0</text>
<line x1="380.8" x2="384.7" y1="886.07" y2="886.07" stroke="#383838" stroke-width="1.15"/>
<text x="377.20" y="892.47" font-size="16.2" text-anchor="end" textLength="18.2" lengthAdjust="spacingAndGlyphs" fill="#111" stroke="#111" stroke-width="0.25">10</text>
<line x1="380.8" x2="384.7" y1="841.33" y2="841.33" stroke="#383838" stroke-width="1.15"/>
<text x="377.20" y="847.73" font-size="16.2" text-anchor="end" textLength="18.2" lengthAdjust="spacingAndGlyphs" fill="#111" stroke="#111" stroke-width="0.25">20</text>
<line x1="380.8" x2="384.7" y1="796.60" y2="796.60" stroke="#383838" stroke-width="1.15"/>
<text x="377.20" y="803.00" font-size="16.2" text-anchor="end" textLength="18.2" lengthAdjust="spacingAndGlyphs" fill="#111" stroke="#111" stroke-width="0.25">30</text>
<line x1="380.8" x2="384.7" y1="751.87" y2="751.87" stroke="#383838" stroke-width="1.15"/>
<text x="377.20" y="758.27" font-size="16.2" text-anchor="end" textLength="18.2" lengthAdjust="spacingAndGlyphs" fill="#111" stroke="#111" stroke-width="0.25">40</text>
<line x1="380.8" x2="384.7" y1="707.13" y2="707.13" stroke="#383838" stroke-width="1.15"/>
<text x="377.20" y="713.53" font-size="16.2" text-anchor="end" textLength="18.2" lengthAdjust="spacingAndGlyphs" fill="#111" stroke="#111" stroke-width="0.25">50</text>
<line x1="380.8" x2="384.7" y1="662.40" y2="662.40" stroke="#383838" stroke-width="1.15"/>
<text x="377.20" y="668.80" font-size="16.2" text-anchor="end" textLength="18.2" lengthAdjust="spacingAndGlyphs" fill="#111" stroke="#111" stroke-width="0.25">60</text>
<line x1="384.70" x2="384.70" y1="930.8" y2="934.7" stroke="#383838" stroke-width="1.15"/>
<text x="365.40" y="949.50" font-size="16.2" text-anchor="start" textLength="19.0" lengthAdjust="spacingAndGlyphs" fill="#111" stroke="#111" stroke-width="0.25">90</text>
<circle cx="390.3" cy="940.1" r="1.3" fill="none" stroke="#111" stroke-width="0.8"/>
<text x="395.00" y="949.50" font-size="16.2" text-anchor="start" textLength="10.0" lengthAdjust="spacingAndGlyphs" fill="#111" stroke="#111" stroke-width="0.25">S</text>
<line x1="454.67" x2="454.67" y1="930.8" y2="934.7" stroke="#383838" stroke-width="1.15"/>
<text x="435.02" y="949.50" font-size="16.2" text-anchor="start" textLength="19.0" lengthAdjust="spacingAndGlyphs" fill="#111" stroke="#111" stroke-width="0.25">45</text>
<circle cx="459.9" cy="940.1" r="1.3" fill="none" stroke="#111" stroke-width="0.8"/>
<text x="464.62" y="949.50" font-size="16.2" text-anchor="start" textLength="10.0" lengthAdjust="spacingAndGlyphs" fill="#111" stroke="#111" stroke-width="0.25">S</text>
<line x1="524.65" x2="524.65" y1="930.8" y2="934.7" stroke="#383838" stroke-width="1.15"/>
<text x="516.05" y="949.50" font-size="16.2" text-anchor="start" textLength="9.7" lengthAdjust="spacingAndGlyphs" fill="#111" stroke="#111" stroke-width="0.25">0</text>
<circle cx="531.0" cy="940.1" r="1.3" fill="none" stroke="#111" stroke-width="0.8"/>
<line x1="594.62" x2="594.62" y1="930.8" y2="934.7" stroke="#383838" stroke-width="1.15"/>
<text x="574.27" y="949.50" font-size="16.2" text-anchor="start" textLength="19.0" lengthAdjust="spacingAndGlyphs" fill="#111" stroke="#111" stroke-width="0.25">45</text>
<circle cx="598.3" cy="940.1" r="1.3" fill="none" stroke="#111" stroke-width="0.8"/>
<text x="604.48" y="949.50" font-size="16.2" text-anchor="start" textLength="11.0" lengthAdjust="spacingAndGlyphs" fill="#111" stroke="#111" stroke-width="0.25">N</text>
<line x1="664.60" x2="664.60" y1="930.8" y2="934.7" stroke="#383838" stroke-width="1.15"/>
<text x="644.70" y="949.50" font-size="16.2" text-anchor="start" textLength="19.0" lengthAdjust="spacingAndGlyphs" fill="#111" stroke="#111" stroke-width="0.25">90</text>
<circle cx="668.7" cy="940.1" r="1.3" fill="none" stroke="#111" stroke-width="0.8"/>
<text x="674.90" y="949.50" font-size="16.2" text-anchor="start" textLength="11.0" lengthAdjust="spacingAndGlyphs" fill="#111" stroke="#111" stroke-width="0.25">N</text>
<text x="463.05" y="655.80" font-size="15.7" text-anchor="start" fill="#111" font-style="italic" stroke="#111" stroke-width="0.25">L</text>
<text x="471.35" y="658.50" font-size="11.3" text-anchor="start" fill="#111" stroke="#111" stroke-width="0.2">S</text>
<text x="485.85" y="657.20" font-size="16" text-anchor="start" textLength="11.8" lengthAdjust="spacingAndGlyphs" fill="#111" font-weight="bold" stroke="#111" stroke-width="0.5">=</text>
<text x="504.45" y="655.80" font-size="15.7" text-anchor="start" textLength="73.2" lengthAdjust="spacingAndGlyphs" fill="#111" font-weight="bold" stroke="#111" stroke-width="0.45">240-280</text>
<circle cx="584.1" cy="646.8" r="1.45" fill="none" stroke="#111" stroke-width="0.75"/>
<line x1="48.3" x2="328.5" y1="1208.07" y2="1208.07" stroke="#e2e2e2" stroke-width="0.8" stroke-dasharray="1.7,1.1"/>
<line x1="48.3" x2="328.5" y1="1163.33" y2="1163.33" stroke="#e2e2e2" stroke-width="0.8" stroke-dasharray="1.7,1.1"/>
<line x1="48.3" x2="328.5" y1="1118.60" y2="1118.60" stroke="#e2e2e2" stroke-width="0.8" stroke-dasharray="1.7,1.1"/>
<line x1="48.3" x2="328.5" y1="1073.87" y2="1073.87" stroke="#e2e2e2" stroke-width="0.8" stroke-dasharray="1.7,1.1"/>
<line x1="48.3" x2="328.5" y1="1029.13" y2="1029.13" stroke="#e2e2e2" stroke-width="0.8" stroke-dasharray="1.7,1.1"/>
<line x1="118.35" x2="118.35" y1="984.4" y2="1252.8" stroke="#e2e2e2" stroke-width="0.8" stroke-dasharray="1.7,1.1"/>
<line x1="188.40" x2="188.40" y1="984.4" y2="1252.8" stroke="#e2e2e2" stroke-width="0.8" stroke-dasharray="1.7,1.1"/>
<line x1="258.45" x2="258.45" y1="984.4" y2="1252.8" stroke="#e2e2e2" stroke-width="0.8" stroke-dasharray="1.7,1.1"/>
<rect x="71.45" y="984.20" width="8.28" height="58.65" fill="url(#p30_4)"/>
<rect x="71.45" y="1042.35" width="8.28" height="18.39" fill="url(#p30_6)"/>
<rect x="71.45" y="1060.25" width="8.28" height="18.39" fill="url(#p30_4)"/>
<rect x="71.45" y="1078.14" width="8.28" height="40.76" fill="url(#p30_8)"/>
<rect x="71.45" y="1118.40" width="8.28" height="45.23" fill="url(#p30_10)"/>
<rect x="71.45" y="1163.13" width="8.28" height="13.92" fill="url(#p30_14)"/>
<rect x="71.45" y="1176.55" width="8.28" height="9.45" fill="url(#p30_18)"/>
<rect x="71.45" y="1185.50" width="8.28" height="9.45" fill="url(#p30_20)"/>
<rect x="71.45" y="1194.45" width="8.28" height="9.45" fill="url(#p30_22)"/>
<rect x="71.45" y="1203.39" width="8.28" height="4.97" fill="url(#p30_24)"/>
<rect x="79.23" y="984.20" width="8.28" height="4.97" fill="url(#p30_2)"/>
<rect x="79.23" y="988.67" width="8.28" height="58.65" fill="url(#p30_4)"/>
<rect x="79.23" y="1046.83" width="8.28" height="4.97" fill="url(#p30_6)"/>
<rect x="79.23" y="1051.30" width="8.28" height="27.34" fill="url(#p30_4)"/>
<rect x="79.23" y="1078.14" width="8.28" height="40.76" fill="url(#p30_6)"/>
<rect x="79.23" y="1118.40" width="8.28" height="22.87" fill="url(#p30_8)"/>
<rect x="79.23" y="1140.77" width="8.28" height="13.92" fill="url(#p30_12)"/>
<rect x="79.23" y="1154.19" width="8.28" height="22.87" fill="url(#p30_16)"/>
<rect x="79.23" y="1176.55" width="8.28" height="18.39" fill="url(#p30_18)"/>
<rect x="79.23" y="1194.45" width="8.28" height="4.97" fill="url(#p30_20)"/>
<rect x="79.23" y="1198.92" width="8.28" height="9.45" fill="url(#p30_22)"/>
<rect x="87.02" y="984.20" width="8.28" height="94.44" fill="url(#p30_4)"/>
<rect x="87.02" y="1078.14" width="8.28" height="13.92" fill="url(#p30_6)"/>
<rect x="87.02" y="1091.56" width="8.28" height="22.87" fill="url(#p30_4)"/>
<rect x="87.02" y="1113.93" width="8.28" height="9.45" fill="url(#p30_6)"/>
<rect x="87.02" y="1122.87" width="8.28" height="18.39" fill="url(#p30_8)"/>
<rect x="87.02" y="1140.77" width="8.28" height="4.97" fill="url(#p30_12)"/>
<rect x="87.02" y="1145.24" width="8.28" height="4.97" fill="url(#p30_14)"/>
<rect x="87.02" y="1149.71" width="8.28" height="4.97" fill="url(#p30_16)"/>
<rect x="87.02" y="1154.19" width="8.28" height="4.97" fill="url(#p30_18)"/>
<rect x="87.02" y="1158.66" width="8.28" height="36.29" fill="url(#p30_20)"/>
<rect x="94.80" y="984.20" width="8.28" height="4.97" fill="url(#p30_4)"/>
<rect x="94.80" y="988.67" width="8.28" height="4.97" fill="url(#p30_2)"/>
<rect x="94.80" y="993.15" width="8.28" height="76.55" fill="url(#p30_4)"/>
<rect x="94.80" y="1069.19" width="8.28" height="4.97" fill="url(#p30_6)"/>
<rect x="94.80" y="1073.67" width="8.28" height="18.39" fill="url(#p30_4)"/>
<rect x="94.80" y="1091.56" width="8.28" height="18.39" fill="url(#p30_8)"/>
<rect x="94.80" y="1109.45" width="8.28" height="13.92" fill="url(#p30_6)"/>
<rect x="94.80" y="1122.87" width="8.28" height="22.87" fill="url(#p30_8)"/>
<rect x="94.80" y="1145.24" width="8.28" height="4.97" fill="url(#p30_10)"/>
<rect x="94.80" y="1149.71" width="8.28" height="4.97" fill="url(#p30_14)"/>
<rect x="94.80" y="1154.19" width="8.28" height="4.97" fill="url(#p30_16)"/>
<rect x="94.80" y="1158.66" width="8.28" height="9.45" fill="url(#p30_12)"/>
<rect x="94.80" y="1167.61" width="8.28" height="4.97" fill="url(#p30_10)"/>
<rect x="94.80" y="1172.08" width="8.28" height="22.87" fill="url(#p30_20)"/>
<rect x="102.58" y="984.20" width="8.28" height="18.39" fill="url(#p30_4)"/>
<rect x="102.58" y="1002.09" width="8.28" height="9.45" fill="url(#p30_2)"/>
<rect x="102.58" y="1011.04" width="8.28" height="49.71" fill="url(#p30_4)"/>
<rect x="102.58" y="1060.25" width="8.28" height="9.45" fill="url(#p30_8)"/>
<rect x="102.58" y="1069.19" width="8.28" height="4.97" fill="url(#p30_4)"/>
<rect x="102.58" y="1073.67" width="8.28" height="18.39" fill="url(#p30_8)"/>
<rect x="102.58" y="1091.56" width="8.28" height="9.45" fill="url(#p30_6)"/>
<rect x="102.58" y="1100.51" width="8.28" height="4.97" fill="url(#p30_10)"/>
<rect x="102.58" y="1104.98" width="8.28" height="49.71" fill="url(#p30_8)"/>
<rect x="102.58" y="1154.19" width="8.28" height="4.97" fill="url(#p30_10)"/>
<rect x="102.58" y="1158.66" width="8.28" height="4.97" fill="url(#p30_12)"/>
<rect x="102.58" y="1163.13" width="8.28" height="4.97" fill="url(#p30_16)"/>
<rect x="102.58" y="1167.61" width="8.28" height="4.97" fill="url(#p30_18)"/>
<rect x="102.58" y="1172.08" width="8.28" height="13.92" fill="url(#p30_20)"/>
<rect x="110.37" y="984.20" width="8.28" height="9.45" fill="url(#p30_4)"/>
<rect x="110.37" y="993.15" width="8.28" height="22.87" fill="url(#p30_2)"/>
<rect x="110.37" y="1015.51" width="8.28" height="27.34" fill="url(#p30_4)"/>
<rect x="110.37" y="1042.35" width="8.28" height="13.92" fill="url(#p30_8)"/>
<rect x="110.37" y="1055.77" width="8.28" height="22.87" fill="url(#p30_6)"/>
<rect x="110.37" y="1078.14" width="8.28" height="22.87" fill="url(#p30_10)"/>
<rect x="110.37" y="1100.51" width="8.28" height="31.81" fill="url(#p30_8)"/>
<rect x="110.37" y="1131.82" width="8.28" height="9.45" fill="url(#p30_12)"/>
<rect x="110.37" y="1140.77" width="8.28" height="22.87" fill="url(#p30_8)"/>
<rect x="110.37" y="1163.13" width="8.28" height="4.97" fill="url(#p30_14)"/>
<rect x="110.37" y="1167.61" width="8.28" height="9.45" fill="url(#p30_20)"/>
<rect x="118.15" y="984.20" width="8.28" height="72.07" fill="url(#p30_4)"/>
<rect x="118.15" y="1055.77" width="8.28" height="9.45" fill="url(#p30_0)"/>
<rect x="118.15" y="1064.72" width="8.28" height="31.81" fill="url(#p30_4)"/>
<rect x="118.15" y="1096.03" width="8.28" height="27.34" fill="url(#p30_2)"/>
<rect x="118.15" y="1122.87" width="8.28" height="9.45" fill="url(#p30_6)"/>
<rect x="118.15" y="1131.82" width="8.28" height="13.92" fill="url(#p30_8)"/>
<rect x="118.15" y="1145.24" width="8.28" height="4.97" fill="url(#p30_10)"/>
<rect x="118.15" y="1149.71" width="8.28" height="4.97" fill="url(#p30_14)"/>
<rect x="118.15" y="1154.19" width="8.28" height="9.45" fill="url(#p30_16)"/>
<rect x="118.15" y="1163.13" width="8.28" height="4.97" fill="url(#p30_8)"/>
<rect x="125.93" y="984.20" width="8.28" height="27.34" fill="url(#p30_4)"/>
<rect x="125.93" y="1011.04" width="8.28" height="4.97" fill="url(#p30_8)"/>
<rect x="125.93" y="1015.51" width="8.28" height="22.87" fill="url(#p30_4)"/>
<rect x="125.93" y="1037.88" width="8.28" height="22.87" fill="url(#p30_8)"/>
<rect x="125.93" y="1060.25" width="8.28" height="36.29" fill="url(#p30_10)"/>
<rect x="125.93" y="1096.03" width="8.28" height="13.92" fill="url(#p30_8)"/>
<rect x="125.93" y="1109.45" width="8.28" height="4.97" fill="url(#p30_11)"/>
<rect x="125.93" y="1113.93" width="8.28" height="4.97" fill="url(#p30_17)"/>
<rect x="125.93" y="1118.40" width="8.28" height="9.45" fill="url(#p30_20)"/>
<rect x="125.93" y="1127.35" width="8.28" height="4.97" fill="url(#p30_24)"/>
<rect x="125.93" y="1131.82" width="8.28" height="18.39" fill="url(#p30_20)"/>
<rect x="125.93" y="1149.71" width="8.28" height="4.97" fill="url(#p30_10)"/>
<rect x="125.93" y="1154.19" width="8.28" height="13.92" fill="url(#p30_20)"/>
<rect x="125.93" y="1167.61" width="8.28" height="4.97" fill="url(#p30_10)"/>
<rect x="125.93" y="1172.08" width="8.28" height="4.97" fill="url(#p30_16)"/>
<rect x="133.72" y="984.20" width="8.28" height="4.97" fill="url(#p30_4)"/>
<rect x="133.72" y="988.67" width="8.28" height="40.76" fill="url(#p30_8)"/>
<rect x="133.72" y="1028.93" width="8.28" height="9.45" fill="url(#p30_4)"/>
<rect x="133.72" y="1037.88" width="8.28" height="18.39" fill="url(#p30_8)"/>
<rect x="133.72" y="1055.77" width="8.28" height="9.45" fill="url(#p30_12)"/>
<rect x="133.72" y="1064.72" width="8.28" height="18.39" fill="url(#p30_8)"/>
<rect x="133.72" y="1082.61" width="8.28" height="13.92" fill="url(#p30_4)"/>
<rect x="133.72" y="1096.03" width="8.28" height="27.34" fill="url(#p30_8)"/>
<rect x="133.72" y="1122.87" width="8.28" height="18.39" fill="url(#p30_12)"/>
<rect x="133.72" y="1140.77" width="8.28" height="18.39" fill="url(#p30_16)"/>
<rect x="133.72" y="1158.66" width="8.28" height="4.97" fill="url(#p30_18)"/>
<rect x="133.72" y="1163.13" width="8.28" height="4.97" fill="url(#p30_22)"/>
<rect x="133.72" y="1167.61" width="8.28" height="4.97" fill="url(#p30_24)"/>
<rect x="141.50" y="984.20" width="8.28" height="4.97" fill="url(#p30_4)"/>
<rect x="141.50" y="988.67" width="8.28" height="4.97" fill="url(#p30_8)"/>
<rect x="141.50" y="993.15" width="8.28" height="31.81" fill="url(#p30_10)"/>
<rect x="141.50" y="1024.46" width="8.28" height="18.39" fill="url(#p30_8)"/>
<rect x="141.50" y="1042.35" width="8.28" height="13.92" fill="url(#p30_10)"/>
<rect x="141.50" y="1055.77" width="8.28" height="27.34" fill="url(#p30_8)"/>
<rect x="141.50" y="1082.61" width="8.28" height="13.92" fill="url(#p30_4)"/>
<rect x="141.50" y="1096.03" width="8.28" height="22.87" fill="url(#p30_8)"/>
<rect x="141.50" y="1118.40" width="8.28" height="13.92" fill="url(#p30_4)"/>
<rect x="141.50" y="1131.82" width="8.28" height="4.97" fill="url(#p30_8)"/>
<rect x="141.50" y="1136.29" width="8.28" height="4.97" fill="url(#p30_10)"/>
<rect x="141.50" y="1140.77" width="8.28" height="4.97" fill="url(#p30_12)"/>
<rect x="141.50" y="1145.24" width="8.28" height="9.45" fill="url(#p30_14)"/>
<rect x="149.28" y="984.20" width="8.28" height="45.23" fill="url(#p30_0)"/>
<rect x="149.28" y="1028.93" width="8.28" height="13.92" fill="url(#p30_4)"/>
<rect x="149.28" y="1042.35" width="8.28" height="13.92" fill="url(#p30_8)"/>
<rect x="149.28" y="1055.77" width="8.28" height="63.13" fill="url(#p30_4)"/>
<rect x="149.28" y="1118.40" width="8.28" height="4.97" fill="url(#p30_8)"/>
<rect x="149.28" y="1122.87" width="8.28" height="18.39" fill="url(#p30_4)"/>
<rect x="157.07" y="984.20" width="8.28" height="40.76" fill="url(#p30_0)"/>
<rect x="157.07" y="1024.46" width="8.28" height="9.45" fill="url(#p30_4)"/>
<rect x="157.07" y="1033.41" width="8.28" height="9.45" fill="url(#p30_8)"/>
<rect x="157.07" y="1042.35" width="8.28" height="22.87" fill="url(#p30_4)"/>
<rect x="157.07" y="1064.72" width="8.28" height="13.92" fill="url(#p30_8)"/>
<rect x="157.07" y="1078.14" width="8.28" height="36.29" fill="url(#p30_4)"/>
<rect x="157.07" y="1113.93" width="8.28" height="4.97" fill="url(#p30_6)"/>
<rect x="157.07" y="1118.40" width="8.28" height="4.97" fill="url(#p30_8)"/>
<rect x="157.07" y="1122.87" width="8.28" height="4.97" fill="url(#p30_10)"/>
<rect x="157.07" y="1127.35" width="8.28" height="4.97" fill="url(#p30_0)"/>
<rect x="157.07" y="1131.82" width="8.28" height="4.97" fill="url(#p30_8)"/>
<rect x="157.07" y="1136.29" width="8.28" height="4.97" fill="url(#p30_18)"/>
<rect x="157.07" y="1140.77" width="8.28" height="4.97" fill="url(#p30_10)"/>
<rect x="164.85" y="984.20" width="8.28" height="4.97" fill="url(#p30_0)"/>
<rect x="164.85" y="988.67" width="8.28" height="4.97" fill="url(#p30_6)"/>
<rect x="164.85" y="993.15" width="8.28" height="9.45" fill="url(#p30_0)"/>
<rect x="164.85" y="1002.09" width="8.28" height="4.97" fill="url(#p30_2)"/>
<rect x="164.85" y="1006.57" width="8.28" height="4.97" fill="url(#p30_6)"/>
<rect x="164.85" y="1011.04" width="8.28" height="18.39" fill="url(#p30_8)"/>
<rect x="164.85" y="1028.93" width="8.28" height="9.45" fill="url(#p30_4)"/>
<rect x="164.85" y="1037.88" width="8.28" height="72.07" fill="url(#p30_0)"/>
<rect x="164.85" y="1109.45" width="8.28" height="4.97" fill="url(#p30_2)"/>
<rect x="164.85" y="1113.93" width="8.28" height="4.97" fill="url(#p30_6)"/>
<rect x="164.85" y="1118.40" width="8.28" height="13.92" fill="url(#p30_8)"/>
<rect x="164.85" y="1131.82" width="8.28" height="4.97" fill="url(#p30_10)"/>
<rect x="164.85" y="1136.29" width="8.28" height="4.97" fill="url(#p30_12)"/>
<rect x="164.85" y="1140.77" width="8.28" height="4.97" fill="url(#p30_14)"/>
<rect x="172.63" y="984.20" width="8.28" height="49.71" fill="url(#p30_0)"/>
<rect x="172.63" y="1033.41" width="8.28" height="4.97" fill="url(#p30_2)"/>
<rect x="172.63" y="1037.88" width="8.28" height="4.97" fill="url(#p30_6)"/>
<rect x="172.63" y="1042.35" width="8.28" height="13.92" fill="url(#p30_8)"/>
<rect x="172.63" y="1055.77" width="8.28" height="9.45" fill="url(#p30_12)"/>
<rect x="172.63" y="1064.72" width="8.28" height="27.34" fill="url(#p30_8)"/>
<rect x="172.63" y="1091.56" width="8.28" height="18.39" fill="url(#p30_4)"/>
<rect x="172.63" y="1109.45" width="8.28" height="9.45" fill="url(#p30_0)"/>
<rect x="180.42" y="984.20" width="8.28" height="9.45" fill="url(#p30_0)"/>
<rect x="180.42" y="993.15" width="8.28" height="4.97" fill="url(#p30_2)"/>
<rect x="180.42" y="997.62" width="8.28" height="4.97" fill="url(#p30_4)"/>
<rect x="180.42" y="1002.09" width="8.28" height="22.87" fill="url(#p30_6)"/>
<rect x="180.42" y="1024.46" width="8.28" height="4.97" fill="url(#p30_4)"/>
<rect x="180.42" y="1028.93" width="8.28" height="4.97" fill="url(#p30_2)"/>
<rect x="180.42" y="1033.41" width="8.28" height="13.92" fill="url(#p30_0)"/>
<rect x="180.42" y="1046.83" width="8.28" height="13.92" fill="url(#p30_4)"/>
<rect x="180.42" y="1060.25" width="8.28" height="13.92" fill="url(#p30_8)"/>
<rect x="180.42" y="1073.67" width="8.28" height="4.97" fill="url(#p30_18)"/>
<rect x="180.42" y="1078.14" width="8.28" height="9.45" fill="url(#p30_12)"/>
<rect x="180.42" y="1087.09" width="8.28" height="4.97" fill="url(#p30_18)"/>
<rect x="180.42" y="1091.56" width="8.28" height="9.45" fill="url(#p30_12)"/>
<rect x="180.42" y="1100.51" width="8.28" height="4.97" fill="url(#p30_0)"/>
<rect x="188.20" y="984.20" width="8.28" height="22.87" fill="url(#p30_4)"/>
<rect x="188.20" y="1006.57" width="8.28" height="22.87" fill="url(#p30_8)"/>
<rect x="188.20" y="1028.93" width="8.28" height="13.92" fill="url(#p30_4)"/>
<rect x="188.20" y="1042.35" width="8.28" height="27.34" fill="url(#p30_6)"/>
<rect x="188.20" y="1069.19" width="8.28" height="40.76" fill="url(#p30_4)"/>
<rect x="195.98" y="984.20" width="8.28" height="58.65" fill="url(#p30_4)"/>
<rect x="195.98" y="1042.35" width="8.28" height="22.87" fill="url(#p30_8)"/>
<rect x="195.98" y="1064.72" width="8.28" height="36.29" fill="url(#p30_4)"/>
<rect x="203.77" y="984.20" width="8.28" height="4.97" fill="url(#p30_0)"/>
<rect x="203.77" y="988.67" width="8.28" height="9.45" fill="url(#p30_4)"/>
<rect x="203.77" y="997.62" width="8.28" height="4.97" fill="url(#p30_6)"/>
<rect x="203.77" y="1002.09" width="8.28" height="4.97" fill="url(#p30_8)"/>
<rect x="203.77" y="1006.57" width="8.28" height="9.45" fill="url(#p30_10)"/>
<rect x="203.77" y="1015.51" width="8.28" height="22.87" fill="url(#p30_8)"/>
<rect x="203.77" y="1037.88" width="8.28" height="67.60" fill="url(#p30_4)"/>
<rect x="203.77" y="1104.98" width="8.28" height="49.71" fill="url(#p30_0)"/>
<rect x="211.55" y="984.20" width="8.28" height="9.45" fill="url(#p30_0)"/>
<rect x="211.55" y="993.15" width="8.28" height="27.34" fill="url(#p30_4)"/>
<rect x="211.55" y="1019.99" width="8.28" height="22.87" fill="url(#p30_8)"/>
<rect x="211.55" y="1042.35" width="8.28" height="13.92" fill="url(#p30_12)"/>
<rect x="211.55" y="1055.77" width="8.28" height="9.45" fill="url(#p30_16)"/>
<rect x="211.55" y="1064.72" width="8.28" height="4.97" fill="url(#p30_12)"/>
<rect x="211.55" y="1069.19" width="8.28" height="4.97" fill="url(#p30_16)"/>
<rect x="211.55" y="1073.67" width="8.28" height="9.45" fill="url(#p30_12)"/>
<rect x="211.55" y="1082.61" width="8.28" height="4.97" fill="url(#p30_16)"/>
<rect x="211.55" y="1087.09" width="8.28" height="22.87" fill="url(#p30_12)"/>
<rect x="211.55" y="1109.45" width="8.28" height="4.97" fill="url(#p30_16)"/>
<rect x="211.55" y="1113.93" width="8.28" height="4.97" fill="url(#p30_20)"/>
<rect x="211.55" y="1118.40" width="8.28" height="9.45" fill="url(#p30_16)"/>
<rect x="211.55" y="1127.35" width="8.28" height="13.92" fill="url(#p30_12)"/>
<rect x="211.55" y="1140.77" width="8.28" height="4.97" fill="url(#p30_9)"/>
<rect x="211.55" y="1145.24" width="8.28" height="4.97" fill="url(#p30_3)"/>
<rect x="211.55" y="1149.71" width="8.28" height="4.97" fill="url(#p30_0)"/>
<rect x="211.55" y="1154.19" width="8.28" height="4.97" fill="url(#p30_8)"/>
<rect x="211.55" y="1158.66" width="8.28" height="4.97" fill="url(#p30_20)"/>
<rect x="219.33" y="984.20" width="8.28" height="36.29" fill="url(#p30_0)"/>
<rect x="219.33" y="1019.99" width="8.28" height="4.97" fill="url(#p30_2)"/>
<rect x="219.33" y="1024.46" width="8.28" height="4.97" fill="url(#p30_4)"/>
<rect x="219.33" y="1028.93" width="8.28" height="4.97" fill="url(#p30_6)"/>
<rect x="219.33" y="1033.41" width="8.28" height="4.97" fill="url(#p30_8)"/>
<rect x="219.33" y="1037.88" width="8.28" height="4.97" fill="url(#p30_10)"/>
<rect x="219.33" y="1042.35" width="8.28" height="9.45" fill="url(#p30_12)"/>
<rect x="219.33" y="1051.30" width="8.28" height="4.97" fill="url(#p30_16)"/>
<rect x="219.33" y="1055.77" width="8.28" height="9.45" fill="url(#p30_12)"/>
<rect x="219.33" y="1064.72" width="8.28" height="4.97" fill="url(#p30_16)"/>
<rect x="219.33" y="1069.19" width="8.28" height="81.02" fill="url(#p30_12)"/>
<rect x="227.12" y="984.20" width="8.28" height="4.97" fill="url(#p30_0)"/>
<rect x="227.12" y="988.67" width="8.28" height="4.97" fill="url(#p30_6)"/>
<rect x="227.12" y="993.15" width="8.28" height="40.76" fill="url(#p30_0)"/>
<rect x="227.12" y="1033.41" width="8.28" height="4.97" fill="url(#p30_4)"/>
<rect x="227.12" y="1037.88" width="8.28" height="58.65" fill="url(#p30_10)"/>
<rect x="227.12" y="1096.03" width="8.28" height="18.39" fill="url(#p30_14)"/>
<rect x="227.12" y="1113.93" width="8.28" height="13.92" fill="url(#p30_12)"/>
<rect x="227.12" y="1127.35" width="8.28" height="18.39" fill="url(#p30_10)"/>
<rect x="227.12" y="1145.24" width="8.28" height="4.97" fill="url(#p30_12)"/>
<rect x="227.12" y="1149.71" width="8.28" height="4.97" fill="url(#p30_16)"/>
<rect x="227.12" y="1154.19" width="8.28" height="4.97" fill="url(#p30_18)"/>
<rect x="227.12" y="1158.66" width="8.28" height="9.45" fill="url(#p30_16)"/>
<rect x="234.90" y="984.20" width="8.28" height="152.59" fill="url(#p30_0)"/>
<rect x="234.90" y="1136.29" width="8.28" height="4.97" fill="url(#p30_2)"/>
<rect x="234.90" y="1140.77" width="8.28" height="4.97" fill="url(#p30_6)"/>
<rect x="234.90" y="1145.24" width="8.28" height="4.97" fill="url(#p30_8)"/>
<rect x="234.90" y="1149.71" width="8.28" height="4.97" fill="url(#p30_16)"/>
<rect x="234.90" y="1154.19" width="8.28" height="9.45" fill="url(#p30_10)"/>
<rect x="242.68" y="984.20" width="8.28" height="63.13" fill="url(#p30_0)"/>
<rect x="242.68" y="1046.83" width="8.28" height="4.97" fill="url(#p30_2)"/>
<rect x="242.68" y="1051.30" width="8.28" height="4.97" fill="url(#p30_8)"/>
<rect x="242.68" y="1055.77" width="8.28" height="22.87" fill="url(#p30_10)"/>
<rect x="242.68" y="1078.14" width="8.28" height="4.97" fill="url(#p30_18)"/>
<rect x="242.68" y="1082.61" width="8.28" height="4.97" fill="url(#p30_14)"/>
<rect x="242.68" y="1087.09" width="8.28" height="9.45" fill="url(#p30_20)"/>
<rect x="242.68" y="1096.03" width="8.28" height="4.97" fill="url(#p30_12)"/>
<rect x="242.68" y="1100.51" width="8.28" height="45.23" fill="url(#p30_8)"/>
<rect x="242.68" y="1145.24" width="8.28" height="18.39" fill="url(#p30_12)"/>
<rect x="242.68" y="1163.13" width="8.28" height="18.39" fill="url(#p30_10)"/>
<rect x="250.47" y="984.20" width="8.28" height="36.29" fill="url(#p30_0)"/>
<rect x="250.47" y="1019.99" width="8.28" height="13.92" fill="url(#p30_4)"/>
<rect x="250.47" y="1033.41" width="8.28" height="13.92" fill="url(#p30_0)"/>
<rect x="250.47" y="1046.83" width="8.28" height="4.97" fill="url(#p30_3)"/>
<rect x="250.47" y="1051.30" width="8.28" height="4.97" fill="url(#p30_9)"/>
<rect x="250.47" y="1055.77" width="8.28" height="36.29" fill="url(#p30_12)"/>
<rect x="250.47" y="1091.56" width="8.28" height="9.45" fill="url(#p30_16)"/>
<rect x="250.47" y="1100.51" width="8.28" height="4.97" fill="url(#p30_14)"/>
<rect x="250.47" y="1104.98" width="8.28" height="4.97" fill="url(#p30_12)"/>
<rect x="250.47" y="1109.45" width="8.28" height="18.39" fill="url(#p30_10)"/>
<rect x="250.47" y="1127.35" width="8.28" height="4.97" fill="url(#p30_12)"/>
<rect x="250.47" y="1131.82" width="8.28" height="4.97" fill="url(#p30_14)"/>
<rect x="250.47" y="1136.29" width="8.28" height="4.97" fill="url(#p30_16)"/>
<rect x="250.47" y="1140.77" width="8.28" height="18.39" fill="url(#p30_20)"/>
<rect x="250.47" y="1158.66" width="8.28" height="13.92" fill="url(#p30_16)"/>
<rect x="250.47" y="1172.08" width="8.28" height="22.87" fill="url(#p30_18)"/>
<rect x="250.47" y="1194.45" width="8.28" height="9.45" fill="url(#p30_20)"/>
<rect x="250.47" y="1203.39" width="8.28" height="4.97" fill="url(#p30_22)"/>
<rect x="250.47" y="1207.87" width="8.28" height="4.97" fill="url(#p30_26)"/>
<rect x="250.47" y="1212.34" width="8.28" height="13.92" fill="url(#p30_28)"/>
<rect x="258.25" y="984.20" width="8.28" height="9.45" fill="url(#p30_4)"/>
<rect x="258.25" y="993.15" width="8.28" height="40.76" fill="url(#p30_0)"/>
<rect x="258.25" y="1033.41" width="8.28" height="4.97" fill="url(#p30_4)"/>
<rect x="258.25" y="1037.88" width="8.28" height="18.39" fill="url(#p30_8)"/>
<rect x="258.25" y="1055.77" width="8.28" height="9.45" fill="url(#p30_10)"/>
<rect x="258.25" y="1064.72" width="8.28" height="31.81" fill="url(#p30_8)"/>
<rect x="258.25" y="1096.03" width="8.28" height="22.87" fill="url(#p30_10)"/>
<rect x="258.25" y="1118.40" width="8.28" height="13.92" fill="url(#p30_8)"/>
<rect x="258.25" y="1131.82" width="8.28" height="18.39" fill="url(#p30_12)"/>
<rect x="258.25" y="1149.71" width="8.28" height="13.92" fill="url(#p30_16)"/>
<rect x="258.25" y="1163.13" width="8.28" height="36.29" fill="url(#p30_18)"/>
<rect x="258.25" y="1198.92" width="8.28" height="13.92" fill="url(#p30_20)"/>
<rect x="258.25" y="1212.34" width="8.28" height="4.97" fill="url(#p30_22)"/>
<rect x="258.25" y="1216.81" width="8.28" height="4.97" fill="url(#p30_26)"/>
<rect x="258.25" y="1221.29" width="8.28" height="4.97" fill="url(#p30_28)"/>
<rect x="258.25" y="1225.76" width="8.28" height="4.97" fill="url(#p30_32)"/>
<rect x="266.03" y="984.20" width="8.28" height="58.65" fill="url(#p30_4)"/>
<rect x="266.03" y="1042.35" width="8.28" height="31.81" fill="url(#p30_8)"/>
<rect x="266.03" y="1073.67" width="8.28" height="13.92" fill="url(#p30_12)"/>
<rect x="266.03" y="1087.09" width="8.28" height="31.81" fill="url(#p30_8)"/>
<rect x="266.03" y="1118.40" width="8.28" height="4.97" fill="url(#p30_10)"/>
<rect x="266.03" y="1122.87" width="8.28" height="18.39" fill="url(#p30_8)"/>
<rect x="266.03" y="1140.77" width="8.28" height="22.87" fill="url(#p30_12)"/>
<rect x="266.03" y="1163.13" width="8.28" height="4.97" fill="url(#p30_10)"/>
<rect x="266.03" y="1167.61" width="8.28" height="4.97" fill="url(#p30_12)"/>
<rect x="266.03" y="1172.08" width="8.28" height="4.97" fill="url(#p30_14)"/>
<rect x="266.03" y="1176.55" width="8.28" height="4.97" fill="url(#p30_16)"/>
<rect x="266.03" y="1181.03" width="8.28" height="9.45" fill="url(#p30_18)"/>
<rect x="266.03" y="1189.97" width="8.28" height="9.45" fill="url(#p30_20)"/>
<rect x="266.03" y="1198.92" width="8.28" height="4.97" fill="url(#p30_24)"/>
<rect x="266.03" y="1203.39" width="8.28" height="4.97" fill="url(#p30_28)"/>
<rect x="266.03" y="1207.87" width="8.28" height="9.45" fill="url(#p30_32)"/>
<rect x="266.03" y="1216.81" width="8.28" height="4.97" fill="url(#p30_34)"/>
<rect x="273.82" y="984.20" width="8.28" height="67.60" fill="url(#p30_4)"/>
<rect x="273.82" y="1051.30" width="8.28" height="67.60" fill="url(#p30_8)"/>
<rect x="273.82" y="1118.40" width="8.28" height="40.76" fill="url(#p30_10)"/>
<rect x="273.82" y="1158.66" width="8.28" height="4.97" fill="url(#p30_16)"/>
<rect x="273.82" y="1163.13" width="8.28" height="22.87" fill="url(#p30_18)"/>
<rect x="273.82" y="1185.50" width="8.28" height="9.45" fill="url(#p30_20)"/>
<rect x="273.82" y="1194.45" width="8.28" height="4.97" fill="url(#p30_28)"/>
<rect x="273.82" y="1198.92" width="8.28" height="4.97" fill="url(#p30_22)"/>
<rect x="273.82" y="1203.39" width="8.28" height="4.97" fill="url(#p30_30)"/>
<rect x="273.82" y="1207.87" width="8.28" height="4.97" fill="url(#p30_20)"/>
<rect x="281.60" y="984.20" width="8.28" height="36.29" fill="url(#p30_4)"/>
<rect x="281.60" y="1019.99" width="8.28" height="9.45" fill="url(#p30_8)"/>
<rect x="281.60" y="1028.93" width="8.28" height="22.87" fill="url(#p30_4)"/>
<rect x="281.60" y="1051.30" width="8.28" height="9.45" fill="url(#p30_8)"/>
<rect x="281.60" y="1060.25" width="8.28" height="4.97" fill="url(#p30_16)"/>
<rect x="281.60" y="1064.72" width="8.28" height="76.55" fill="url(#p30_8)"/>
<rect x="281.60" y="1140.77" width="8.28" height="4.97" fill="url(#p30_16)"/>
<rect x="281.60" y="1145.24" width="8.28" height="31.81" fill="url(#p30_20)"/>
<rect x="281.60" y="1176.55" width="8.28" height="4.97" fill="url(#p30_24)"/>
<rect x="281.60" y="1181.03" width="8.28" height="18.39" fill="url(#p30_28)"/>
<rect x="289.38" y="984.20" width="8.28" height="27.34" fill="url(#p30_4)"/>
<rect x="289.38" y="1011.04" width="8.28" height="18.39" fill="url(#p30_8)"/>
<rect x="289.38" y="1028.93" width="8.28" height="9.45" fill="url(#p30_4)"/>
<rect x="289.38" y="1037.88" width="8.28" height="18.39" fill="url(#p30_8)"/>
<rect x="289.38" y="1055.77" width="8.28" height="4.97" fill="url(#p30_4)"/>
<rect x="289.38" y="1060.25" width="8.28" height="72.07" fill="url(#p30_8)"/>
<rect x="289.38" y="1131.82" width="8.28" height="4.97" fill="url(#p30_10)"/>
<rect x="289.38" y="1136.29" width="8.28" height="4.97" fill="url(#p30_12)"/>
<rect x="289.38" y="1140.77" width="8.28" height="4.97" fill="url(#p30_14)"/>
<rect x="289.38" y="1145.24" width="8.28" height="4.97" fill="url(#p30_20)"/>
<rect x="289.38" y="1149.71" width="8.28" height="9.45" fill="url(#p30_24)"/>
<rect x="289.38" y="1158.66" width="8.28" height="9.45" fill="url(#p30_28)"/>
<rect x="48.3" y="984.4" width="280.2" height="268.4" fill="none" stroke="#383838" stroke-width="1.15"/>
<line x1="44.4" x2="48.3" y1="1252.80" y2="1252.80" stroke="#383838" stroke-width="1.15"/>
<text x="40.80" y="1259.20" font-size="16.2" text-anchor="end" textLength="9.3" lengthAdjust="spacingAndGlyphs" fill="#111" stroke="#111" stroke-width="0.25">0</text>
<line x1="44.4" x2="48.3" y1="1208.07" y2="1208.07" stroke="#383838" stroke-width="1.15"/>
<text x="40.80" y="1214.47" font-size="16.2" text-anchor="end" textLength="18.2" lengthAdjust="spacingAndGlyphs" fill="#111" stroke="#111" stroke-width="0.25">10</text>
<line x1="44.4" x2="48.3" y1="1163.33" y2="1163.33" stroke="#383838" stroke-width="1.15"/>
<text x="40.80" y="1169.73" font-size="16.2" text-anchor="end" textLength="18.2" lengthAdjust="spacingAndGlyphs" fill="#111" stroke="#111" stroke-width="0.25">20</text>
<line x1="44.4" x2="48.3" y1="1118.60" y2="1118.60" stroke="#383838" stroke-width="1.15"/>
<text x="40.80" y="1125.00" font-size="16.2" text-anchor="end" textLength="18.2" lengthAdjust="spacingAndGlyphs" fill="#111" stroke="#111" stroke-width="0.25">30</text>
<line x1="44.4" x2="48.3" y1="1073.87" y2="1073.87" stroke="#383838" stroke-width="1.15"/>
<text x="40.80" y="1080.27" font-size="16.2" text-anchor="end" textLength="18.2" lengthAdjust="spacingAndGlyphs" fill="#111" stroke="#111" stroke-width="0.25">40</text>
<line x1="44.4" x2="48.3" y1="1029.13" y2="1029.13" stroke="#383838" stroke-width="1.15"/>
<text x="40.80" y="1035.53" font-size="16.2" text-anchor="end" textLength="18.2" lengthAdjust="spacingAndGlyphs" fill="#111" stroke="#111" stroke-width="0.25">50</text>
<line x1="44.4" x2="48.3" y1="984.40" y2="984.40" stroke="#383838" stroke-width="1.15"/>
<text x="40.80" y="990.80" font-size="16.2" text-anchor="end" textLength="18.2" lengthAdjust="spacingAndGlyphs" fill="#111" stroke="#111" stroke-width="0.25">60</text>
<line x1="48.30" x2="48.30" y1="1252.8" y2="1256.7" stroke="#383838" stroke-width="1.15"/>
<text x="29.00" y="1271.50" font-size="16.2" text-anchor="start" textLength="19.0" lengthAdjust="spacingAndGlyphs" fill="#111" stroke="#111" stroke-width="0.25">90</text>
<circle cx="53.9" cy="1262.1" r="1.3" fill="none" stroke="#111" stroke-width="0.8"/>
<text x="58.60" y="1271.50" font-size="16.2" text-anchor="start" textLength="10.0" lengthAdjust="spacingAndGlyphs" fill="#111" stroke="#111" stroke-width="0.25">S</text>
<line x1="118.35" x2="118.35" y1="1252.8" y2="1256.7" stroke="#383838" stroke-width="1.15"/>
<text x="98.70" y="1271.50" font-size="16.2" text-anchor="start" textLength="19.0" lengthAdjust="spacingAndGlyphs" fill="#111" stroke="#111" stroke-width="0.25">45</text>
<circle cx="123.6" cy="1262.1" r="1.3" fill="none" stroke="#111" stroke-width="0.8"/>
<text x="128.30" y="1271.50" font-size="16.2" text-anchor="start" textLength="10.0" lengthAdjust="spacingAndGlyphs" fill="#111" stroke="#111" stroke-width="0.25">S</text>
<line x1="188.40" x2="188.40" y1="1252.8" y2="1256.7" stroke="#383838" stroke-width="1.15"/>
<text x="179.80" y="1271.50" font-size="16.2" text-anchor="start" textLength="9.7" lengthAdjust="spacingAndGlyphs" fill="#111" stroke="#111" stroke-width="0.25">0</text>
<circle cx="194.7" cy="1262.1" r="1.3" fill="none" stroke="#111" stroke-width="0.8"/>
<line x1="258.45" x2="258.45" y1="1252.8" y2="1256.7" stroke="#383838" stroke-width="1.15"/>
<text x="238.10" y="1271.50" font-size="16.2" text-anchor="start" textLength="19.0" lengthAdjust="spacingAndGlyphs" fill="#111" stroke="#111" stroke-width="0.25">45</text>
<circle cx="262.1" cy="1262.1" r="1.3" fill="none" stroke="#111" stroke-width="0.8"/>
<text x="268.30" y="1271.50" font-size="16.2" text-anchor="start" textLength="11.0" lengthAdjust="spacingAndGlyphs" fill="#111" stroke="#111" stroke-width="0.25">N</text>
<line x1="328.50" x2="328.50" y1="1252.8" y2="1256.7" stroke="#383838" stroke-width="1.15"/>
<text x="308.60" y="1271.50" font-size="16.2" text-anchor="start" textLength="19.0" lengthAdjust="spacingAndGlyphs" fill="#111" stroke="#111" stroke-width="0.25">90</text>
<circle cx="332.6" cy="1262.1" r="1.3" fill="none" stroke="#111" stroke-width="0.8"/>
<text x="338.80" y="1271.50" font-size="16.2" text-anchor="start" textLength="11.0" lengthAdjust="spacingAndGlyphs" fill="#111" stroke="#111" stroke-width="0.25">N</text>
<text x="126.80" y="977.80" font-size="15.7" text-anchor="start" fill="#111" font-style="italic" stroke="#111" stroke-width="0.25">L</text>
<text x="135.10" y="980.50" font-size="11.3" text-anchor="start" fill="#111" stroke="#111" stroke-width="0.2">S</text>
<text x="149.60" y="979.20" font-size="16" text-anchor="start" textLength="11.8" lengthAdjust="spacingAndGlyphs" fill="#111" font-weight="bold" stroke="#111" stroke-width="0.5">=</text>
<text x="168.20" y="977.80" font-size="15.7" text-anchor="start" textLength="73.2" lengthAdjust="spacingAndGlyphs" fill="#111" font-weight="bold" stroke="#111" stroke-width="0.45">280-320</text>
<circle cx="247.9" cy="968.8" r="1.45" fill="none" stroke="#111" stroke-width="0.75"/>
<text transform="translate(14.4,1119.1) rotate(-90)" text-anchor="middle" font-size="18.3" textLength="116.6" lengthAdjust="spacingAndGlyphs" fill="#111" stroke="#111" stroke-width="0.25">Altitude / km</text>
<line x1="384.7" x2="664.6" y1="1208.07" y2="1208.07" stroke="#e2e2e2" stroke-width="0.8" stroke-dasharray="1.7,1.1"/>
<line x1="384.7" x2="664.6" y1="1163.33" y2="1163.33" stroke="#e2e2e2" stroke-width="0.8" stroke-dasharray="1.7,1.1"/>
<line x1="384.7" x2="664.6" y1="1118.60" y2="1118.60" stroke="#e2e2e2" stroke-width="0.8" stroke-dasharray="1.7,1.1"/>
<line x1="384.7" x2="664.6" y1="1073.87" y2="1073.87" stroke="#e2e2e2" stroke-width="0.8" stroke-dasharray="1.7,1.1"/>
<line x1="384.7" x2="664.6" y1="1029.13" y2="1029.13" stroke="#e2e2e2" stroke-width="0.8" stroke-dasharray="1.7,1.1"/>
<line x1="454.67" x2="454.67" y1="984.4" y2="1252.8" stroke="#e2e2e2" stroke-width="0.8" stroke-dasharray="1.7,1.1"/>
<line x1="524.65" x2="524.65" y1="984.4" y2="1252.8" stroke="#e2e2e2" stroke-width="0.8" stroke-dasharray="1.7,1.1"/>
<line x1="594.62" x2="594.62" y1="984.4" y2="1252.8" stroke="#e2e2e2" stroke-width="0.8" stroke-dasharray="1.7,1.1"/>
<rect x="407.82" y="984.20" width="8.27" height="45.23" fill="url(#p31_2)"/>
<rect x="407.82" y="1028.93" width="8.27" height="13.92" fill="url(#p31_6)"/>
<rect x="407.82" y="1042.35" width="8.27" height="18.39" fill="url(#p31_8)"/>
<rect x="407.82" y="1060.25" width="8.27" height="22.87" fill="url(#p31_10)"/>
<rect x="407.82" y="1082.61" width="8.27" height="13.92" fill="url(#p31_12)"/>
<rect x="407.82" y="1096.03" width="8.27" height="13.92" fill="url(#p31_16)"/>
<rect x="407.82" y="1109.45" width="8.27" height="27.34" fill="url(#p31_18)"/>
<rect x="407.82" y="1136.29" width="8.27" height="18.39" fill="url(#p31_20)"/>
<rect x="407.82" y="1154.19" width="8.27" height="9.45" fill="url(#p31_22)"/>
<rect x="407.82" y="1163.13" width="8.27" height="4.97" fill="url(#p31_24)"/>
<rect x="407.82" y="1167.61" width="8.27" height="18.39" fill="url(#p31_28)"/>
<rect x="407.82" y="1185.50" width="8.27" height="22.87" fill="url(#p31_32)"/>
<rect x="407.82" y="1207.87" width="8.27" height="22.87" fill="url(#p31_34)"/>
<rect x="407.82" y="1230.23" width="8.27" height="13.92" fill="url(#p31_36)"/>
<rect x="415.60" y="984.20" width="8.27" height="18.39" fill="url(#p31_10)"/>
<rect x="415.60" y="1002.09" width="8.27" height="4.97" fill="url(#p31_12)"/>
<rect x="415.60" y="1006.57" width="8.27" height="18.39" fill="url(#p31_16)"/>
<rect x="415.60" y="1024.46" width="8.27" height="27.34" fill="url(#p31_18)"/>
<rect x="415.60" y="1051.30" width="8.27" height="36.29" fill="url(#p31_20)"/>
<rect x="415.60" y="1087.09" width="8.27" height="22.87" fill="url(#p31_24)"/>
<rect x="415.60" y="1109.45" width="8.27" height="4.97" fill="url(#p31_22)"/>
<rect x="415.60" y="1113.93" width="8.27" height="4.97" fill="url(#p31_24)"/>
<rect x="415.60" y="1118.40" width="8.27" height="4.97" fill="url(#p31_26)"/>
<rect x="415.60" y="1122.87" width="8.27" height="54.18" fill="url(#p31_28)"/>
<rect x="415.60" y="1176.55" width="8.27" height="40.76" fill="url(#p31_32)"/>
<rect x="415.60" y="1216.81" width="8.27" height="9.45" fill="url(#p31_34)"/>
<rect x="415.60" y="1225.76" width="8.27" height="13.92" fill="url(#p31_36)"/>
<rect x="423.38" y="984.20" width="8.27" height="13.92" fill="url(#p31_10)"/>
<rect x="423.38" y="997.62" width="8.27" height="9.45" fill="url(#p31_14)"/>
<rect x="423.38" y="1006.57" width="8.27" height="13.92" fill="url(#p31_16)"/>
<rect x="423.38" y="1019.99" width="8.27" height="31.81" fill="url(#p31_18)"/>
<rect x="423.38" y="1051.30" width="8.27" height="22.87" fill="url(#p31_20)"/>
<rect x="423.38" y="1073.67" width="8.27" height="22.87" fill="url(#p31_24)"/>
<rect x="423.38" y="1096.03" width="8.27" height="13.92" fill="url(#p31_28)"/>
<rect x="423.38" y="1109.45" width="8.27" height="9.45" fill="url(#p31_26)"/>
<rect x="423.38" y="1118.40" width="8.27" height="49.71" fill="url(#p31_28)"/>
<rect x="423.38" y="1167.61" width="8.27" height="49.71" fill="url(#p31_32)"/>
<rect x="423.38" y="1216.81" width="8.27" height="9.45" fill="url(#p31_34)"/>
<rect x="423.38" y="1225.76" width="8.27" height="9.45" fill="url(#p31_36)"/>
<rect x="423.38" y="1234.71" width="8.27" height="4.97" fill="url(#p31_32)"/>
<rect x="431.15" y="984.20" width="8.27" height="27.34" fill="url(#p31_8)"/>
<rect x="431.15" y="1011.04" width="8.27" height="22.87" fill="url(#p31_12)"/>
<rect x="431.15" y="1033.41" width="8.27" height="13.92" fill="url(#p31_16)"/>
<rect x="431.15" y="1046.83" width="8.27" height="18.39" fill="url(#p31_18)"/>
<rect x="431.15" y="1064.72" width="8.27" height="31.81" fill="url(#p31_20)"/>
<rect x="431.15" y="1096.03" width="8.27" height="18.39" fill="url(#p31_22)"/>
<rect x="431.15" y="1113.93" width="8.27" height="22.87" fill="url(#p31_24)"/>
<rect x="431.15" y="1136.29" width="8.27" height="45.23" fill="url(#p31_28)"/>
<rect x="431.15" y="1181.03" width="8.27" height="31.81" fill="url(#p31_32)"/>
<rect x="431.15" y="1212.34" width="8.27" height="18.39" fill="url(#p31_30)"/>
<rect x="438.93" y="984.20" width="8.27" height="49.71" fill="url(#p31_8)"/>
<rect x="438.93" y="1033.41" width="8.27" height="13.92" fill="url(#p31_12)"/>
<rect x="438.93" y="1046.83" width="8.27" height="13.92" fill="url(#p31_16)"/>
<rect x="438.93" y="1060.25" width="8.27" height="9.45" fill="url(#p31_18)"/>
<rect x="438.93" y="1069.19" width="8.27" height="31.81" fill="url(#p31_20)"/>
<rect x="438.93" y="1100.51" width="8.27" height="4.97" fill="url(#p31_18)"/>
<rect x="438.93" y="1104.98" width="8.27" height="13.92" fill="url(#p31_22)"/>
<rect x="438.93" y="1118.40" width="8.27" height="18.39" fill="url(#p31_24)"/>
<rect x="438.93" y="1136.29" width="8.27" height="45.23" fill="url(#p31_28)"/>
<rect x="438.93" y="1181.03" width="8.27" height="31.81" fill="url(#p31_32)"/>
<rect x="438.93" y="1212.34" width="8.27" height="9.45" fill="url(#p31_34)"/>
<rect x="438.93" y="1221.29" width="8.27" height="22.87" fill="url(#p31_36)"/>
<rect x="446.70" y="984.20" width="8.27" height="31.81" fill="url(#p31_8)"/>
<rect x="446.70" y="1015.51" width="8.27" height="4.97" fill="url(#p31_12)"/>
<rect x="446.70" y="1019.99" width="8.27" height="9.45" fill="url(#p31_16)"/>
<rect x="446.70" y="1028.93" width="8.27" height="22.87" fill="url(#p31_20)"/>
<rect x="446.70" y="1051.30" width="8.27" height="18.39" fill="url(#p31_18)"/>
<rect x="446.70" y="1069.19" width="8.27" height="4.97" fill="url(#p31_22)"/>
<rect x="446.70" y="1073.67" width="8.27" height="18.39" fill="url(#p31_26)"/>
<rect x="446.70" y="1091.56" width="8.27" height="27.34" fill="url(#p31_30)"/>
<rect x="446.70" y="1118.40" width="8.27" height="49.71" fill="url(#p31_28)"/>
<rect x="446.70" y="1167.61" width="8.27" height="9.45" fill="url(#p31_32)"/>
<rect x="446.70" y="1176.55" width="8.27" height="4.97" fill="url(#p31_28)"/>
<rect x="446.70" y="1181.03" width="8.27" height="13.92" fill="url(#p31_32)"/>
<rect x="454.47" y="984.20" width="8.27" height="13.92" fill="url(#p31_8)"/>
<rect x="454.47" y="997.62" width="8.27" height="13.92" fill="url(#p31_10)"/>
<rect x="454.47" y="1011.04" width="8.27" height="13.92" fill="url(#p31_12)"/>
<rect x="454.47" y="1024.46" width="8.27" height="9.45" fill="url(#p31_14)"/>
<rect x="454.47" y="1033.41" width="8.27" height="9.45" fill="url(#p31_16)"/>
<rect x="454.47" y="1042.35" width="8.27" height="27.34" fill="url(#p31_18)"/>
<rect x="454.47" y="1069.19" width="8.27" height="22.87" fill="url(#p31_20)"/>
<rect x="454.47" y="1091.56" width="8.27" height="22.87" fill="url(#p31_24)"/>
<rect x="454.47" y="1113.93" width="8.27" height="45.23" fill="url(#p31_28)"/>
<rect x="454.47" y="1158.66" width="8.27" height="13.92" fill="url(#p31_32)"/>
<rect x="454.47" y="1172.08" width="8.27" height="4.97" fill="url(#p31_30)"/>
<rect x="454.47" y="1176.55" width="8.27" height="9.45" fill="url(#p31_34)"/>
<rect x="454.47" y="1185.50" width="8.27" height="4.97" fill="url(#p31_32)"/>
<rect x="454.47" y="1189.97" width="8.27" height="4.97" fill="url(#p31_36)"/>
<rect x="454.47" y="1194.45" width="8.27" height="4.97" fill="url(#p31_32)"/>
<rect x="454.47" y="1198.92" width="8.27" height="4.97" fill="url(#p31_28)"/>
<rect x="454.47" y="1203.39" width="8.27" height="4.97" fill="url(#p31_32)"/>
<rect x="454.47" y="1207.87" width="8.27" height="4.97" fill="url(#p31_26)"/>
<rect x="462.25" y="984.20" width="8.27" height="4.97" fill="url(#p31_2)"/>
<rect x="462.25" y="988.67" width="8.27" height="9.45" fill="url(#p31_4)"/>
<rect x="462.25" y="997.62" width="8.27" height="45.23" fill="url(#p31_8)"/>
<rect x="462.25" y="1042.35" width="8.27" height="18.39" fill="url(#p31_12)"/>
<rect x="462.25" y="1060.25" width="8.27" height="31.81" fill="url(#p31_16)"/>
<rect x="462.25" y="1091.56" width="8.27" height="13.92" fill="url(#p31_18)"/>
<rect x="462.25" y="1104.98" width="8.27" height="4.97" fill="url(#p31_20)"/>
<rect x="462.25" y="1109.45" width="8.27" height="4.97" fill="url(#p31_22)"/>
<rect x="462.25" y="1113.93" width="8.27" height="9.45" fill="url(#p31_24)"/>
<rect x="462.25" y="1122.87" width="8.27" height="49.71" fill="url(#p31_28)"/>
<rect x="462.25" y="1172.08" width="8.27" height="4.97" fill="url(#p31_32)"/>
<rect x="462.25" y="1176.55" width="8.27" height="31.81" fill="url(#p31_28)"/>
<rect x="470.02" y="984.20" width="8.27" height="31.81" fill="url(#p31_8)"/>
<rect x="470.02" y="1015.51" width="8.27" height="18.39" fill="url(#p31_12)"/>
<rect x="470.02" y="1033.41" width="8.27" height="4.97" fill="url(#p31_14)"/>
<rect x="470.02" y="1037.88" width="8.27" height="4.97" fill="url(#p31_16)"/>
<rect x="470.02" y="1042.35" width="8.27" height="27.34" fill="url(#p31_18)"/>
<rect x="470.02" y="1069.19" width="8.27" height="22.87" fill="url(#p31_20)"/>
<rect x="470.02" y="1091.56" width="8.27" height="18.39" fill="url(#p31_22)"/>
<rect x="470.02" y="1109.45" width="8.27" height="18.39" fill="url(#p31_24)"/>
<rect x="470.02" y="1127.35" width="8.27" height="94.44" fill="url(#p31_28)"/>
<rect x="477.80" y="984.20" width="8.27" height="40.76" fill="url(#p31_8)"/>
<rect x="477.80" y="1024.46" width="8.27" height="18.39" fill="url(#p31_12)"/>
<rect x="477.80" y="1042.35" width="8.27" height="4.97" fill="url(#p31_16)"/>
<rect x="477.80" y="1046.83" width="8.27" height="22.87" fill="url(#p31_18)"/>
<rect x="477.80" y="1069.19" width="8.27" height="18.39" fill="url(#p31_20)"/>
<rect x="477.80" y="1087.09" width="8.27" height="9.45" fill="url(#p31_22)"/>
<rect x="477.80" y="1096.03" width="8.27" height="22.87" fill="url(#p31_24)"/>
<rect x="477.80" y="1118.40" width="8.27" height="67.60" fill="url(#p31_28)"/>
<rect x="477.80" y="1185.50" width="8.27" height="22.87" fill="url(#p31_30)"/>
<rect x="485.57" y="984.20" width="8.27" height="18.39" fill="url(#p31_6)"/>
<rect x="485.57" y="1002.09" width="8.27" height="27.34" fill="url(#p31_8)"/>
<rect x="485.57" y="1028.93" width="8.27" height="13.92" fill="url(#p31_12)"/>
<rect x="485.57" y="1042.35" width="8.27" height="4.97" fill="url(#p31_16)"/>
<rect x="485.57" y="1046.83" width="8.27" height="22.87" fill="url(#p31_18)"/>
<rect x="485.57" y="1069.19" width="8.27" height="22.87" fill="url(#p31_20)"/>
<rect x="485.57" y="1091.56" width="8.27" height="13.92" fill="url(#p31_24)"/>
<rect x="485.57" y="1104.98" width="8.27" height="4.97" fill="url(#p31_30)"/>
<rect x="485.57" y="1109.45" width="8.27" height="4.97" fill="url(#p31_24)"/>
<rect x="485.57" y="1113.93" width="8.27" height="31.81" fill="url(#p31_28)"/>
<rect x="485.57" y="1145.24" width="8.27" height="49.71" fill="url(#p31_32)"/>
<rect x="485.57" y="1194.45" width="8.27" height="4.97" fill="url(#p31_34)"/>
<rect x="493.35" y="984.20" width="8.27" height="45.23" fill="url(#p31_8)"/>
<rect x="493.35" y="1028.93" width="8.27" height="13.92" fill="url(#p31_12)"/>
<rect x="493.35" y="1042.35" width="8.27" height="4.97" fill="url(#p31_16)"/>
<rect x="493.35" y="1046.83" width="8.27" height="9.45" fill="url(#p31_18)"/>
<rect x="493.35" y="1055.77" width="8.27" height="9.45" fill="url(#p31_22)"/>
<rect x="493.35" y="1064.72" width="8.27" height="4.97" fill="url(#p31_18)"/>
<rect x="493.35" y="1069.19" width="8.27" height="13.92" fill="url(#p31_20)"/>
<rect x="493.35" y="1082.61" width="8.27" height="9.45" fill="url(#p31_22)"/>
<rect x="493.35" y="1091.56" width="8.27" height="9.45" fill="url(#p31_26)"/>
<rect x="493.35" y="1100.51" width="8.27" height="18.39" fill="url(#p31_28)"/>
<rect x="493.35" y="1118.40" width="8.27" height="9.45" fill="url(#p31_32)"/>
<rect x="493.35" y="1127.35" width="8.27" height="9.45" fill="url(#p31_28)"/>
<rect x="493.35" y="1136.29" width="8.27" height="4.97" fill="url(#p31_32)"/>
<rect x="493.35" y="1140.77" width="8.27" height="4.97" fill="url(#p31_28)"/>
<rect x="493.35" y="1145.24" width="8.27" height="22.87" fill="url(#p31_32)"/>
<rect x="493.35" y="1167.61" width="8.27" height="9.45" fill="url(#p31_34)"/>
<rect x="493.35" y="1176.55" width="8.27" height="9.45" fill="url(#p31_36)"/>
<rect x="493.35" y="1185.50" width="8.27" height="4.97" fill="url(#p31_32)"/>
<rect x="501.12" y="984.20" width="8.27" height="22.87" fill="url(#p31_8)"/>
<rect x="501.12" y="1006.57" width="8.27" height="18.39" fill="url(#p31_10)"/>
<rect x="501.12" y="1024.46" width="8.27" height="4.97" fill="url(#p31_12)"/>
<rect x="501.12" y="1028.93" width="8.27" height="13.92" fill="url(#p31_16)"/>
<rect x="501.12" y="1042.35" width="8.27" height="31.81" fill="url(#p31_18)"/>
<rect x="501.12" y="1073.67" width="8.27" height="22.87" fill="url(#p31_20)"/>
<rect x="501.12" y="1096.03" width="8.27" height="18.39" fill="url(#p31_22)"/>
<rect x="501.12" y="1113.93" width="8.27" height="4.97" fill="url(#p31_26)"/>
<rect x="501.12" y="1118.40" width="8.27" height="45.23" fill="url(#p31_28)"/>
<rect x="501.12" y="1163.13" width="8.27" height="22.87" fill="url(#p31_30)"/>
<rect x="501.12" y="1185.50" width="8.27" height="4.97" fill="url(#p31_20)"/>
<rect x="508.90" y="984.20" width="8.27" height="18.39" fill="url(#p31_8)"/>
<rect x="508.90" y="1002.09" width="8.27" height="13.92" fill="url(#p31_10)"/>
<rect x="508.90" y="1015.51" width="8.27" height="9.45" fill="url(#p31_12)"/>
<rect x="508.90" y="1024.46" width="8.27" height="13.92" fill="url(#p31_16)"/>
<rect x="508.90" y="1037.88" width="8.27" height="40.76" fill="url(#p31_18)"/>
<rect x="508.90" y="1078.14" width="8.27" height="13.92" fill="url(#p31_20)"/>
<rect x="508.90" y="1091.56" width="8.27" height="13.92" fill="url(#p31_22)"/>
<rect x="508.90" y="1104.98" width="8.27" height="13.92" fill="url(#p31_26)"/>
<rect x="508.90" y="1118.40" width="8.27" height="4.97" fill="url(#p31_24)"/>
<rect x="508.90" y="1122.87" width="8.27" height="4.97" fill="url(#p31_20)"/>
<rect x="508.90" y="1127.35" width="8.27" height="4.97" fill="url(#p31_20)"/>
<rect x="508.90" y="1131.82" width="8.27" height="4.97" fill="url(#p31_26)"/>
<rect x="508.90" y="1136.29" width="8.27" height="13.92" fill="url(#p31_28)"/>
<rect x="516.67" y="984.20" width="8.27" height="22.87" fill="url(#p31_8)"/>
<rect x="516.67" y="1006.57" width="8.27" height="27.34" fill="url(#p31_12)"/>
<rect x="516.67" y="1033.41" width="8.27" height="18.39" fill="url(#p31_16)"/>
<rect x="516.67" y="1051.30" width="8.27" height="31.81" fill="url(#p31_18)"/>
<rect x="516.67" y="1082.61" width="8.27" height="4.97" fill="url(#p31_20)"/>
<rect x="516.67" y="1087.09" width="8.27" height="4.97" fill="url(#p31_22)"/>
<rect x="516.67" y="1091.56" width="8.27" height="4.97" fill="url(#p31_26)"/>
<rect x="516.67" y="1096.03" width="8.27" height="4.97" fill="url(#p31_28)"/>
<rect x="516.67" y="1100.51" width="8.27" height="4.97" fill="url(#p31_26)"/>
<rect x="516.67" y="1104.98" width="8.27" height="4.97" fill="url(#p31_22)"/>
<rect x="516.67" y="1109.45" width="8.27" height="4.97" fill="url(#p31_22)"/>
<rect x="516.67" y="1113.93" width="8.27" height="4.97" fill="url(#p31_24)"/>
<rect x="516.67" y="1118.40" width="8.27" height="4.97" fill="url(#p31_26)"/>
<rect x="516.67" y="1122.87" width="8.27" height="31.81" fill="url(#p31_28)"/>
<rect x="524.45" y="984.20" width="8.27" height="22.87" fill="url(#p31_8)"/>
<rect x="524.45" y="1006.57" width="8.27" height="18.39" fill="url(#p31_10)"/>
<rect x="524.45" y="1024.46" width="8.27" height="13.92" fill="url(#p31_12)"/>
<rect x="524.45" y="1037.88" width="8.27" height="18.39" fill="url(#p31_16)"/>
<rect x="524.45" y="1055.77" width="8.27" height="36.29" fill="url(#p31_18)"/>
<rect x="524.45" y="1091.56" width="8.27" height="9.45" fill="url(#p31_20)"/>
<rect x="524.45" y="1100.51" width="8.27" height="4.97" fill="url(#p31_28)"/>
<rect x="524.45" y="1104.98" width="8.27" height="4.97" fill="url(#p31_18)"/>
<rect x="524.45" y="1122.87" width="8.27" height="4.97" fill="url(#p31_32)"/>
<rect x="532.22" y="984.20" width="8.27" height="13.92" fill="url(#p31_4)"/>
<rect x="532.22" y="997.62" width="8.27" height="36.29" fill="url(#p31_8)"/>
<rect x="532.22" y="1033.41" width="8.27" height="13.92" fill="url(#p31_12)"/>
<rect x="532.22" y="1046.83" width="8.27" height="13.92" fill="url(#p31_16)"/>
<rect x="532.22" y="1060.25" width="8.27" height="31.81" fill="url(#p31_18)"/>
<rect x="532.22" y="1091.56" width="8.27" height="18.39" fill="url(#p31_20)"/>
<rect x="532.22" y="1109.45" width="8.27" height="9.45" fill="url(#p31_22)"/>
<rect x="532.22" y="1127.35" width="8.27" height="27.34" fill="url(#p31_32)"/>
<rect x="532.22" y="1154.19" width="8.27" height="4.97" fill="url(#p31_30)"/>
<rect x="532.22" y="1158.66" width="8.27" height="18.39" fill="url(#p31_36)"/>
<rect x="540.00" y="984.20" width="8.27" height="22.87" fill="url(#p31_8)"/>
<rect x="540.00" y="1006.57" width="8.27" height="36.29" fill="url(#p31_10)"/>
<rect x="540.00" y="1042.35" width="8.27" height="9.45" fill="url(#p31_14)"/>
<rect x="540.00" y="1051.30" width="8.27" height="9.45" fill="url(#p31_16)"/>
<rect x="540.00" y="1060.25" width="8.27" height="36.29" fill="url(#p31_18)"/>
<rect x="540.00" y="1096.03" width="8.27" height="9.45" fill="url(#p31_20)"/>
<rect x="540.00" y="1104.98" width="8.27" height="13.92" fill="url(#p31_24)"/>
<rect x="540.00" y="1118.40" width="8.27" height="36.29" fill="url(#p31_28)"/>
<rect x="540.00" y="1154.19" width="8.27" height="22.87" fill="url(#p31_32)"/>
<rect x="540.00" y="1176.55" width="8.27" height="4.97" fill="url(#p31_34)"/>
<rect x="540.00" y="1181.03" width="8.27" height="9.45" fill="url(#p31_36)"/>
<rect x="547.77" y="984.20" width="8.27" height="22.87" fill="url(#p31_4)"/>
<rect x="547.77" y="1006.57" width="8.27" height="31.81" fill="url(#p31_8)"/>
<rect x="547.77" y="1037.88" width="8.27" height="31.81" fill="url(#p31_10)"/>
<rect x="547.77" y="1069.19" width="8.27" height="4.97" fill="url(#p31_14)"/>
<rect x="547.77" y="1073.67" width="8.27" height="22.87" fill="url(#p31_18)"/>
<rect x="547.77" y="1096.03" width="8.27" height="22.87" fill="url(#p31_20)"/>
<rect x="547.77" y="1118.40" width="8.27" height="4.97" fill="url(#p31_18)"/>
<rect x="547.77" y="1122.87" width="8.27" height="31.81" fill="url(#p31_28)"/>
<rect x="547.77" y="1154.19" width="8.27" height="9.45" fill="url(#p31_32)"/>
<rect x="547.77" y="1163.13" width="8.27" height="4.97" fill="url(#p31_28)"/>
<rect x="547.77" y="1167.61" width="8.27" height="9.45" fill="url(#p31_32)"/>
<rect x="547.77" y="1176.55" width="8.27" height="4.97" fill="url(#p31_34)"/>
<rect x="547.77" y="1181.03" width="8.27" height="4.97" fill="url(#p31_28)"/>
<rect x="547.77" y="1185.50" width="8.27" height="4.97" fill="url(#p31_32)"/>
<rect x="547.77" y="1189.97" width="8.27" height="9.45" fill="url(#p31_28)"/>
<rect x="555.55" y="984.20" width="8.27" height="4.97" fill="url(#p31_6)"/>
<rect x="555.55" y="988.67" width="8.27" height="27.34" fill="url(#p31_8)"/>
<rect x="555.55" y="1015.51" width="8.27" height="27.34" fill="url(#p31_10)"/>
<rect x="555.55" y="1042.35" width="8.27" height="18.39" fill="url(#p31_14)"/>
<rect x="555.55" y="1060.25" width="8.27" height="9.45" fill="url(#p31_18)"/>
<rect x="555.55" y="1069.19" width="8.27" height="13.92" fill="url(#p31_16)"/>
<rect x="555.55" y="1082.61" width="8.27" height="9.45" fill="url(#p31_18)"/>
<rect x="555.55" y="1091.56" width="8.27" height="18.39" fill="url(#p31_20)"/>
<rect x="555.55" y="1109.45" width="8.27" height="4.97" fill="url(#p31_26)"/>
<rect x="555.55" y="1113.93" width="8.27" height="36.29" fill="url(#p31_28)"/>
<rect x="555.55" y="1149.71" width="8.27" height="4.97" fill="url(#p31_32)"/>
<rect x="555.55" y="1154.19" width="8.27" height="9.45" fill="url(#p31_28)"/>
<rect x="555.55" y="1163.13" width="8.27" height="9.45" fill="url(#p31_32)"/>
<rect x="555.55" y="1172.08" width="8.27" height="13.92" fill="url(#p31_28)"/>
<rect x="555.55" y="1185.50" width="8.27" height="9.45" fill="url(#p31_32)"/>
<rect x="563.32" y="984.20" width="8.27" height="9.45" fill="url(#p31_4)"/>
<rect x="563.32" y="993.15" width="8.27" height="31.81" fill="url(#p31_8)"/>
<rect x="563.32" y="1024.46" width="8.27" height="13.92" fill="url(#p31_10)"/>
<rect x="563.32" y="1037.88" width="8.27" height="4.97" fill="url(#p31_12)"/>
<rect x="563.32" y="1042.35" width="8.27" height="9.45" fill="url(#p31_16)"/>
<rect x="563.32" y="1051.30" width="8.27" height="18.39" fill="url(#p31_14)"/>
<rect x="563.32" y="1069.19" width="8.27" height="22.87" fill="url(#p31_18)"/>
<rect x="563.32" y="1091.56" width="8.27" height="13.92" fill="url(#p31_20)"/>
<rect x="563.32" y="1104.98" width="8.27" height="22.87" fill="url(#p31_24)"/>
<rect x="563.32" y="1127.35" width="8.27" height="36.29" fill="url(#p31_28)"/>
<rect x="563.32" y="1163.13" width="8.27" height="36.29" fill="url(#p31_32)"/>
<rect x="563.32" y="1198.92" width="8.27" height="9.45" fill="url(#p31_34)"/>
<rect x="563.32" y="1207.87" width="8.27" height="9.45" fill="url(#p31_36)"/>
<rect x="571.10" y="984.20" width="8.27" height="31.81" fill="url(#p31_4)"/>
<rect x="571.10" y="1015.51" width="8.27" height="27.34" fill="url(#p31_8)"/>
<rect x="571.10" y="1042.35" width="8.27" height="13.92" fill="url(#p31_12)"/>
<rect x="571.10" y="1055.77" width="8.27" height="9.45" fill="url(#p31_14)"/>
<rect x="571.10" y="1064.72" width="8.27" height="27.34" fill="url(#p31_18)"/>
<rect x="571.10" y="1091.56" width="8.27" height="18.39" fill="url(#p31_20)"/>
<rect x="571.10" y="1109.45" width="8.27" height="31.81" fill="url(#p31_24)"/>
<rect x="571.10" y="1140.77" width="8.27" height="27.34" fill="url(#p31_28)"/>
<rect x="571.10" y="1167.61" width="8.27" height="18.39" fill="url(#p31_32)"/>
<rect x="571.10" y="1185.50" width="8.27" height="4.97" fill="url(#p31_34)"/>
<rect x="571.10" y="1189.97" width="8.27" height="9.45" fill="url(#p31_28)"/>
<rect x="571.10" y="1198.92" width="8.27" height="4.97" fill="url(#p31_32)"/>
<rect x="571.10" y="1203.39" width="8.27" height="9.45" fill="url(#p31_28)"/>
<rect x="578.88" y="984.20" width="8.27" height="36.29" fill="url(#p31_4)"/>
<rect x="578.88" y="1019.99" width="8.27" height="36.29" fill="url(#p31_8)"/>
<rect x="578.88" y="1055.77" width="8.27" height="13.92" fill="url(#p31_12)"/>
<rect x="578.88" y="1069.19" width="8.27" height="9.45" fill="url(#p31_16)"/>
<rect x="578.88" y="1078.14" width="8.27" height="18.39" fill="url(#p31_18)"/>
<rect x="578.88" y="1096.03" width="8.27" height="22.87" fill="url(#p31_20)"/>
<rect x="578.88" y="1118.40" width="8.27" height="18.39" fill="url(#p31_24)"/>
<rect x="578.88" y="1136.29" width="8.27" height="67.60" fill="url(#p31_28)"/>
<rect x="578.88" y="1203.39" width="8.27" height="18.39" fill="url(#p31_32)"/>
<rect x="578.88" y="1221.29" width="8.27" height="9.45" fill="url(#p31_36)"/>
<rect x="586.65" y="984.20" width="8.27" height="22.87" fill="url(#p31_4)"/>
<rect x="586.65" y="1006.57" width="8.27" height="9.45" fill="url(#p31_2)"/>
<rect x="586.65" y="1015.51" width="8.27" height="4.97" fill="url(#p31_4)"/>
<rect x="586.65" y="1019.99" width="8.27" height="4.97" fill="url(#p31_6)"/>
<rect x="586.65" y="1024.46" width="8.27" height="36.29" fill="url(#p31_8)"/>
<rect x="586.65" y="1060.25" width="8.27" height="13.92" fill="url(#p31_12)"/>
<rect x="586.65" y="1073.67" width="8.27" height="4.97" fill="url(#p31_16)"/>
<rect x="586.65" y="1078.14" width="8.27" height="18.39" fill="url(#p31_18)"/>
<rect x="586.65" y="1096.03" width="8.27" height="31.81" fill="url(#p31_20)"/>
<rect x="586.65" y="1127.35" width="8.27" height="4.97" fill="url(#p31_24)"/>
<rect x="586.65" y="1131.82" width="8.27" height="4.97" fill="url(#p31_26)"/>
<rect x="586.65" y="1136.29" width="8.27" height="9.45" fill="url(#p31_28)"/>
<rect x="586.65" y="1145.24" width="8.27" height="4.97" fill="url(#p31_26)"/>
<rect x="586.65" y="1149.71" width="8.27" height="9.45" fill="url(#p31_24)"/>
<rect x="586.65" y="1158.66" width="8.27" height="36.29" fill="url(#p31_28)"/>
<rect x="586.65" y="1194.45" width="8.27" height="27.34" fill="url(#p31_32)"/>
<rect x="586.65" y="1221.29" width="8.27" height="4.97" fill="url(#p31_34)"/>
<rect x="586.65" y="1225.76" width="8.27" height="18.39" fill="url(#p31_32)"/>
<rect x="586.65" y="1243.65" width="8.27" height="4.97" fill="url(#p31_28)"/>
<rect x="586.65" y="1248.13" width="8.27" height="4.97" fill="url(#p31_32)"/>
<rect x="594.42" y="984.20" width="8.27" height="40.76" fill="url(#p31_2)"/>
<rect x="594.42" y="1024.46" width="8.27" height="9.45" fill="url(#p31_4)"/>
<rect x="594.42" y="1033.41" width="8.27" height="36.29" fill="url(#p31_8)"/>
<rect x="594.42" y="1069.19" width="8.27" height="9.45" fill="url(#p31_12)"/>
<rect x="594.42" y="1078.14" width="8.27" height="4.97" fill="url(#p31_16)"/>
<rect x="594.42" y="1082.61" width="8.27" height="18.39" fill="url(#p31_18)"/>
<rect x="594.42" y="1100.51" width="8.27" height="27.34" fill="url(#p31_20)"/>
<rect x="594.42" y="1127.35" width="8.27" height="31.81" fill="url(#p31_24)"/>
<rect x="594.42" y="1158.66" width="8.27" height="45.23" fill="url(#p31_28)"/>
<rect x="594.42" y="1203.39" width="8.27" height="40.76" fill="url(#p31_32)"/>
<rect x="594.42" y="1243.65" width="8.27" height="4.97" fill="url(#p31_28)"/>
<rect x="602.20" y="984.20" width="8.27" height="40.76" fill="url(#p31_2)"/>
<rect x="602.20" y="1024.46" width="8.27" height="13.92" fill="url(#p31_4)"/>
<rect x="602.20" y="1037.88" width="8.27" height="36.29" fill="url(#p31_8)"/>
<rect x="602.20" y="1073.67" width="8.27" height="9.45" fill="url(#p31_12)"/>
<rect x="602.20" y="1082.61" width="8.27" height="4.97" fill="url(#p31_16)"/>
<rect x="602.20" y="1087.09" width="8.27" height="18.39" fill="url(#p31_18)"/>
<rect x="602.20" y="1104.98" width="8.27" height="31.81" fill="url(#p31_20)"/>
<rect x="602.20" y="1136.29" width="8.27" height="22.87" fill="url(#p31_24)"/>
<rect x="602.20" y="1158.66" width="8.27" height="81.02" fill="url(#p31_28)"/>
<rect x="609.97" y="984.20" width="8.27" height="45.23" fill="url(#p31_2)"/>
<rect x="609.97" y="1028.93" width="8.27" height="13.92" fill="url(#p31_4)"/>
<rect x="609.97" y="1042.35" width="8.27" height="36.29" fill="url(#p31_8)"/>
<rect x="609.97" y="1078.14" width="8.27" height="13.92" fill="url(#p31_12)"/>
<rect x="609.97" y="1091.56" width="8.27" height="4.97" fill="url(#p31_16)"/>
<rect x="609.97" y="1096.03" width="8.27" height="22.87" fill="url(#p31_18)"/>
<rect x="609.97" y="1118.40" width="8.27" height="40.76" fill="url(#p31_20)"/>
<rect x="609.97" y="1158.66" width="8.27" height="22.87" fill="url(#p31_24)"/>
<rect x="609.97" y="1181.03" width="8.27" height="18.39" fill="url(#p31_26)"/>
<rect x="609.97" y="1198.92" width="8.27" height="22.87" fill="url(#p31_28)"/>
<rect x="609.97" y="1221.29" width="8.27" height="9.45" fill="url(#p31_26)"/>
<rect x="609.97" y="1230.23" width="8.27" height="4.97" fill="url(#p31_23)"/>
<rect x="609.97" y="1234.71" width="8.27" height="4.97" fill="url(#p31_17)"/>
<rect x="609.97" y="1239.18" width="8.27" height="9.45" fill="url(#p31_14)"/>
<rect x="617.75" y="984.20" width="8.27" height="45.23" fill="url(#p31_2)"/>
<rect x="617.75" y="1028.93" width="8.27" height="18.39" fill="url(#p31_4)"/>
<rect x="617.75" y="1046.83" width="8.27" height="40.76" fill="url(#p31_8)"/>
<rect x="617.75" y="1087.09" width="8.27" height="9.45" fill="url(#p31_12)"/>
<rect x="617.75" y="1096.03" width="8.27" height="9.45" fill="url(#p31_16)"/>
<rect x="617.75" y="1104.98" width="8.27" height="36.29" fill="url(#p31_18)"/>
<rect x="617.75" y="1140.77" width="8.27" height="72.07" fill="url(#p31_20)"/>
<rect x="617.75" y="1212.34" width="8.27" height="18.39" fill="url(#p31_18)"/>
<rect x="617.75" y="1230.23" width="8.27" height="9.45" fill="url(#p31_16)"/>
<rect x="625.52" y="984.20" width="8.27" height="45.23" fill="url(#p31_2)"/>
<rect x="625.52" y="1028.93" width="8.27" height="22.87" fill="url(#p31_4)"/>
<rect x="625.52" y="1051.30" width="8.27" height="40.76" fill="url(#p31_8)"/>
<rect x="625.52" y="1091.56" width="8.27" height="9.45" fill="url(#p31_12)"/>
<rect x="625.52" y="1100.51" width="8.27" height="18.39" fill="url(#p31_14)"/>
<rect x="625.52" y="1118.40" width="8.27" height="13.92" fill="url(#p31_18)"/>
<rect x="625.52" y="1131.82" width="8.27" height="67.60" fill="url(#p31_20)"/>
<rect x="625.52" y="1198.92" width="8.27" height="18.39" fill="url(#p31_16)"/>
<rect x="625.52" y="1216.81" width="8.27" height="9.45" fill="url(#p31_12)"/>
<rect x="625.52" y="1225.76" width="8.27" height="4.97" fill="url(#p31_10)"/>
<rect x="625.52" y="1230.23" width="8.27" height="9.45" fill="url(#p31_14)"/>
<rect x="384.7" y="984.4" width="279.9" height="268.4" fill="none" stroke="#383838" stroke-width="1.15"/>
<line x1="380.8" x2="384.7" y1="1252.80" y2="1252.80" stroke="#383838" stroke-width="1.15"/>
<text x="377.20" y="1259.20" font-size="16.2" text-anchor="end" textLength="9.3" lengthAdjust="spacingAndGlyphs" fill="#111" stroke="#111" stroke-width="0.25">0</text>
<line x1="380.8" x2="384.7" y1="1208.07" y2="1208.07" stroke="#383838" stroke-width="1.15"/>
<text x="377.20" y="1214.47" font-size="16.2" text-anchor="end" textLength="18.2" lengthAdjust="spacingAndGlyphs" fill="#111" stroke="#111" stroke-width="0.25">10</text>
<line x1="380.8" x2="384.7" y1="1163.33" y2="1163.33" stroke="#383838" stroke-width="1.15"/>
<text x="377.20" y="1169.73" font-size="16.2" text-anchor="end" textLength="18.2" lengthAdjust="spacingAndGlyphs" fill="#111" stroke="#111" stroke-width="0.25">20</text>
<line x1="380.8" x2="384.7" y1="1118.60" y2="1118.60" stroke="#383838" stroke-width="1.15"/>
<text x="377.20" y="1125.00" font-size="16.2" text-anchor="end" textLength="18.2" lengthAdjust="spacingAndGlyphs" fill="#111" stroke="#111" stroke-width="0.25">30</text>
<line x1="380.8" x2="384.7" y1="1073.87" y2="1073.87" stroke="#383838" stroke-width="1.15"/>
<text x="377.20" y="1080.27" font-size="16.2" text-anchor="end" textLength="18.2" lengthAdjust="spacingAndGlyphs" fill="#111" stroke="#111" stroke-width="0.25">40</text>
<line x1="380.8" x2="384.7" y1="1029.13" y2="1029.13" stroke="#383838" stroke-width="1.15"/>
<text x="377.20" y="1035.53" font-size="16.2" text-anchor="end" textLength="18.2" lengthAdjust="spacingAndGlyphs" fill="#111" stroke="#111" stroke-width="0.25">50</text>
<line x1="380.8" x2="384.7" y1="984.40" y2="984.40" stroke="#383838" stroke-width="1.15"/>
<text x="377.20" y="990.80" font-size="16.2" text-anchor="end" textLength="18.2" lengthAdjust="spacingAndGlyphs" fill="#111" stroke="#111" stroke-width="0.25">60</text>
<line x1="384.70" x2="384.70" y1="1252.8" y2="1256.7" stroke="#383838" stroke-width="1.15"/>
<text x="365.40" y="1271.50" font-size="16.2" text-anchor="start" textLength="19.0" lengthAdjust="spacingAndGlyphs" fill="#111" stroke="#111" stroke-width="0.25">90</text>
<circle cx="390.3" cy="1262.1" r="1.3" fill="none" stroke="#111" stroke-width="0.8"/>
<text x="395.00" y="1271.50" font-size="16.2" text-anchor="start" textLength="10.0" lengthAdjust="spacingAndGlyphs" fill="#111" stroke="#111" stroke-width="0.25">S</text>
<line x1="454.67" x2="454.67" y1="1252.8" y2="1256.7" stroke="#383838" stroke-width="1.15"/>
<text x="435.02" y="1271.50" font-size="16.2" text-anchor="start" textLength="19.0" lengthAdjust="spacingAndGlyphs" fill="#111" stroke="#111" stroke-width="0.25">45</text>
<circle cx="459.9" cy="1262.1" r="1.3" fill="none" stroke="#111" stroke-width="0.8"/>
<text x="464.62" y="1271.50" font-size="16.2" text-anchor="start" textLength="10.0" lengthAdjust="spacingAndGlyphs" fill="#111" stroke="#111" stroke-width="0.25">S</text>
<line x1="524.65" x2="524.65" y1="1252.8" y2="1256.7" stroke="#383838" stroke-width="1.15"/>
<text x="516.05" y="1271.50" font-size="16.2" text-anchor="start" textLength="9.7" lengthAdjust="spacingAndGlyphs" fill="#111" stroke="#111" stroke-width="0.25">0</text>
<circle cx="531.0" cy="1262.1" r="1.3" fill="none" stroke="#111" stroke-width="0.8"/>
<line x1="594.62" x2="594.62" y1="1252.8" y2="1256.7" stroke="#383838" stroke-width="1.15"/>
<text x="574.27" y="1271.50" font-size="16.2" text-anchor="start" textLength="19.0" lengthAdjust="spacingAndGlyphs" fill="#111" stroke="#111" stroke-width="0.25">45</text>
<circle cx="598.3" cy="1262.1" r="1.3" fill="none" stroke="#111" stroke-width="0.8"/>
<text x="604.48" y="1271.50" font-size="16.2" text-anchor="start" textLength="11.0" lengthAdjust="spacingAndGlyphs" fill="#111" stroke="#111" stroke-width="0.25">N</text>
<line x1="664.60" x2="664.60" y1="1252.8" y2="1256.7" stroke="#383838" stroke-width="1.15"/>
<text x="644.70" y="1271.50" font-size="16.2" text-anchor="start" textLength="19.0" lengthAdjust="spacingAndGlyphs" fill="#111" stroke="#111" stroke-width="0.25">90</text>
<circle cx="668.7" cy="1262.1" r="1.3" fill="none" stroke="#111" stroke-width="0.8"/>
<text x="674.90" y="1271.50" font-size="16.2" text-anchor="start" textLength="11.0" lengthAdjust="spacingAndGlyphs" fill="#111" stroke="#111" stroke-width="0.25">N</text>
<text x="463.05" y="977.80" font-size="15.7" text-anchor="start" fill="#111" font-style="italic" stroke="#111" stroke-width="0.25">L</text>
<text x="471.35" y="980.50" font-size="11.3" text-anchor="start" fill="#111" stroke="#111" stroke-width="0.2">S</text>
<text x="485.85" y="979.20" font-size="16" text-anchor="start" textLength="11.8" lengthAdjust="spacingAndGlyphs" fill="#111" font-weight="bold" stroke="#111" stroke-width="0.5">=</text>
<text x="504.45" y="977.80" font-size="15.7" text-anchor="start" textLength="73.2" lengthAdjust="spacingAndGlyphs" fill="#111" font-weight="bold" stroke="#111" stroke-width="0.45">280-320</text>
<circle cx="584.1" cy="968.8" r="1.45" fill="none" stroke="#111" stroke-width="0.75"/>
</svg>
</body></html>
